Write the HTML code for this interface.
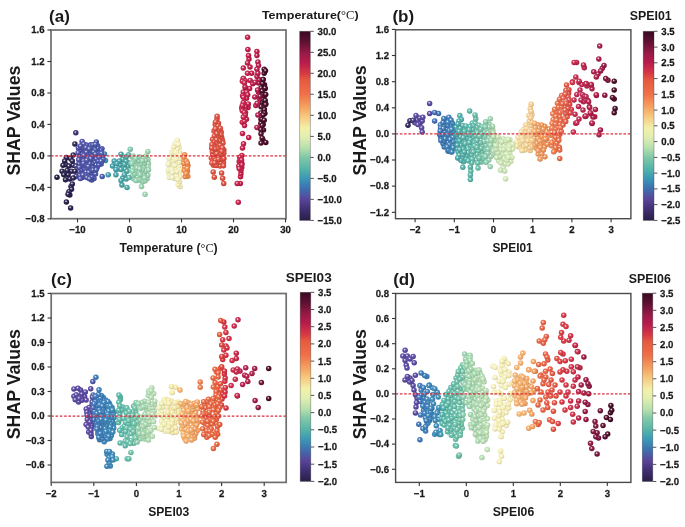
<!DOCTYPE html>
<html><head><meta charset="utf-8"><style>
html,body{margin:0;padding:0;background:#fff;}
svg{display:block;will-change:transform;}
text{font-family:"Liberation Sans", sans-serif;fill:#1a1a1a;}
.tk{text-rendering:geometricPrecision;font-size:9.6px;font-weight:bold;stroke:#1a1a1a;stroke-width:0.25px;}
.b{font-weight:bold;}
.deg{font-family:"Liberation Serif", serif;font-weight:normal;}
</style></head><body>
<svg width="685" height="527" viewBox="0 0 685 527">
<defs><linearGradient id="cbg" x1="0" y1="1" x2="0" y2="0"><stop offset="0.000" stop-color="#2a1e48"/><stop offset="0.055" stop-color="#3e2e70"/><stop offset="0.111" stop-color="#5a4499"/><stop offset="0.171" stop-color="#3d72b0"/><stop offset="0.223" stop-color="#3a98b6"/><stop offset="0.273" stop-color="#55b4a8"/><stop offset="0.334" stop-color="#80c8a8"/><stop offset="0.384" stop-color="#b8e0ad"/><stop offset="0.444" stop-color="#e3efb0"/><stop offset="0.489" stop-color="#f3f0a8"/><stop offset="0.513" stop-color="#f5e09a"/><stop offset="0.555" stop-color="#f7c47a"/><stop offset="0.602" stop-color="#f5a060"/><stop offset="0.668" stop-color="#f07048"/><stop offset="0.742" stop-color="#e65a40"/><stop offset="0.776" stop-color="#d83a44"/><stop offset="0.835" stop-color="#b81c4c"/><stop offset="0.881" stop-color="#9a1a48"/><stop offset="0.950" stop-color="#5a1030"/><stop offset="1.000" stop-color="#3a0a22"/></linearGradient><radialGradient id="g0" cx="0.42" cy="0.38" r="0.72"><stop offset="0" stop-color="#f6f3f4"/><stop offset="0.13" stop-color="#b39ea7"/><stop offset="0.3" stop-color="#55243a"/><stop offset="0.55" stop-color="#420c24"/><stop offset="0.82" stop-color="#390a1f"/><stop offset="1" stop-color="#2d0818"/></radialGradient><radialGradient id="g1" cx="0.42" cy="0.38" r="0.72"><stop offset="0" stop-color="#fcf4f6"/><stop offset="0.13" stop-color="#e6a5b6"/><stop offset="0.3" stop-color="#c6345a"/><stop offset="0.55" stop-color="#c01e48"/><stop offset="0.82" stop-color="#a51a3e"/><stop offset="1" stop-color="#831431"/></radialGradient><radialGradient id="g2" cx="0.42" cy="0.38" r="0.72"><stop offset="0" stop-color="#f5fafb"/><stop offset="0.13" stop-color="#b1d7dc"/><stop offset="0.3" stop-color="#50a6b1"/><stop offset="0.55" stop-color="#3c9ca8"/><stop offset="0.82" stop-color="#348690"/><stop offset="1" stop-color="#296a72"/></radialGradient><radialGradient id="g3" cx="0.42" cy="0.38" r="0.72"><stop offset="0" stop-color="#fafdfb"/><stop offset="0.13" stop-color="#d7eddf"/><stop offset="0.3" stop-color="#a6d6b6"/><stop offset="0.55" stop-color="#9cd2ae"/><stop offset="0.82" stop-color="#86b596"/><stop offset="1" stop-color="#6a8f76"/></radialGradient><radialGradient id="g4" cx="0.42" cy="0.38" r="0.72"><stop offset="0" stop-color="#fcf3f6"/><stop offset="0.13" stop-color="#e3a3b6"/><stop offset="0.3" stop-color="#c12f5a"/><stop offset="0.55" stop-color="#ba1848"/><stop offset="0.82" stop-color="#a0153e"/><stop offset="1" stop-color="#7e1031"/></radialGradient><radialGradient id="g5" cx="0.42" cy="0.38" r="0.72"><stop offset="0" stop-color="#fcf3f6"/><stop offset="0.13" stop-color="#e6a3b6"/><stop offset="0.3" stop-color="#c62f5a"/><stop offset="0.55" stop-color="#c01848"/><stop offset="0.82" stop-color="#a5153e"/><stop offset="1" stop-color="#831031"/></radialGradient><radialGradient id="g6" cx="0.42" cy="0.38" r="0.72"><stop offset="0" stop-color="#fdf6f5"/><stop offset="0.13" stop-color="#f2b8b1"/><stop offset="0.3" stop-color="#e16050"/><stop offset="0.55" stop-color="#de4e3c"/><stop offset="0.82" stop-color="#bf4334"/><stop offset="1" stop-color="#973529"/></radialGradient><radialGradient id="g7" cx="0.42" cy="0.38" r="0.72"><stop offset="0" stop-color="#fcf4f6"/><stop offset="0.13" stop-color="#e8a5b6"/><stop offset="0.3" stop-color="#cc345a"/><stop offset="0.55" stop-color="#c61e48"/><stop offset="0.82" stop-color="#aa1a3e"/><stop offset="1" stop-color="#871431"/></radialGradient><radialGradient id="g8" cx="0.42" cy="0.38" r="0.72"><stop offset="0" stop-color="#fefefc"/><stop offset="0.13" stop-color="#f9f9e6"/><stop offset="0.3" stop-color="#f2f2c6"/><stop offset="0.55" stop-color="#f0f0c0"/><stop offset="0.82" stop-color="#cecea5"/><stop offset="1" stop-color="#a3a383"/></radialGradient><radialGradient id="g9" cx="0.42" cy="0.38" r="0.72"><stop offset="0" stop-color="#f6f6fb"/><stop offset="0.13" stop-color="#b8bbdc"/><stop offset="0.3" stop-color="#6065b1"/><stop offset="0.55" stop-color="#4e54a8"/><stop offset="0.82" stop-color="#434890"/><stop offset="1" stop-color="#353972"/></radialGradient><radialGradient id="g10" cx="0.42" cy="0.38" r="0.72"><stop offset="0" stop-color="#f6f6fb"/><stop offset="0.13" stop-color="#b6bbdc"/><stop offset="0.3" stop-color="#5a65b1"/><stop offset="0.55" stop-color="#4854a8"/><stop offset="0.82" stop-color="#3e4890"/><stop offset="1" stop-color="#313972"/></radialGradient><radialGradient id="g11" cx="0.42" cy="0.38" r="0.72"><stop offset="0" stop-color="#f6f3f4"/><stop offset="0.13" stop-color="#b89eaa"/><stop offset="0.3" stop-color="#60243f"/><stop offset="0.55" stop-color="#4e0c2a"/><stop offset="0.82" stop-color="#430a24"/><stop offset="1" stop-color="#35081d"/></radialGradient><radialGradient id="g12" cx="0.42" cy="0.38" r="0.72"><stop offset="0" stop-color="#f6f6fb"/><stop offset="0.13" stop-color="#b8b8dc"/><stop offset="0.3" stop-color="#6060b1"/><stop offset="0.55" stop-color="#4e4ea8"/><stop offset="0.82" stop-color="#434390"/><stop offset="1" stop-color="#353572"/></radialGradient><radialGradient id="g13" cx="0.42" cy="0.38" r="0.72"><stop offset="0" stop-color="#f6fafa"/><stop offset="0.13" stop-color="#b3dada"/><stop offset="0.3" stop-color="#55abab"/><stop offset="0.55" stop-color="#42a2a2"/><stop offset="0.82" stop-color="#398b8b"/><stop offset="1" stop-color="#2d6e6e"/></radialGradient><radialGradient id="g14" cx="0.42" cy="0.38" r="0.72"><stop offset="0" stop-color="#fbf3f6"/><stop offset="0.13" stop-color="#e1a3b6"/><stop offset="0.3" stop-color="#bc2f5a"/><stop offset="0.55" stop-color="#b41848"/><stop offset="0.82" stop-color="#9b153e"/><stop offset="1" stop-color="#7a1031"/></radialGradient><radialGradient id="g15" cx="0.42" cy="0.38" r="0.72"><stop offset="0" stop-color="#f4f4f6"/><stop offset="0.13" stop-color="#aaa7bb"/><stop offset="0.3" stop-color="#3f3a65"/><stop offset="0.55" stop-color="#2a2454"/><stop offset="0.82" stop-color="#241f48"/><stop offset="1" stop-color="#1d1839"/></radialGradient><radialGradient id="g16" cx="0.42" cy="0.38" r="0.72"><stop offset="0" stop-color="#f6fafa"/><stop offset="0.13" stop-color="#b6dada"/><stop offset="0.3" stop-color="#5aabab"/><stop offset="0.55" stop-color="#48a2a2"/><stop offset="0.82" stop-color="#3e8b8b"/><stop offset="1" stop-color="#316e6e"/></radialGradient><radialGradient id="g17" cx="0.42" cy="0.38" r="0.72"><stop offset="0" stop-color="#f6f3f4"/><stop offset="0.13" stop-color="#b69ea7"/><stop offset="0.3" stop-color="#5a243a"/><stop offset="0.55" stop-color="#480c24"/><stop offset="0.82" stop-color="#3e0a1f"/><stop offset="1" stop-color="#310818"/></radialGradient><radialGradient id="g18" cx="0.42" cy="0.38" r="0.72"><stop offset="0" stop-color="#f6f7fb"/><stop offset="0.13" stop-color="#b6bddf"/><stop offset="0.3" stop-color="#5a6ab6"/><stop offset="0.55" stop-color="#485aae"/><stop offset="0.82" stop-color="#3e4d96"/><stop offset="1" stop-color="#313d76"/></radialGradient><radialGradient id="g19" cx="0.42" cy="0.38" r="0.72"><stop offset="0" stop-color="#f4f4f6"/><stop offset="0.13" stop-color="#aaa5b8"/><stop offset="0.3" stop-color="#3f3460"/><stop offset="0.55" stop-color="#2a1e4e"/><stop offset="0.82" stop-color="#241a43"/><stop offset="1" stop-color="#1d1435"/></radialGradient><radialGradient id="g20" cx="0.42" cy="0.38" r="0.72"><stop offset="0" stop-color="#fafdfb"/><stop offset="0.13" stop-color="#d5eddf"/><stop offset="0.3" stop-color="#a0d6b6"/><stop offset="0.55" stop-color="#96d2ae"/><stop offset="0.82" stop-color="#81b596"/><stop offset="1" stop-color="#668f76"/></radialGradient><radialGradient id="g21" cx="0.42" cy="0.38" r="0.72"><stop offset="0" stop-color="#fffefc"/><stop offset="0.13" stop-color="#fbf9e3"/><stop offset="0.3" stop-color="#f7f2c1"/><stop offset="0.55" stop-color="#f6f0ba"/><stop offset="0.82" stop-color="#d4cea0"/><stop offset="1" stop-color="#a7a37e"/></radialGradient><radialGradient id="g22" cx="0.42" cy="0.38" r="0.72"><stop offset="0" stop-color="#fef9f6"/><stop offset="0.13" stop-color="#f9ceb6"/><stop offset="0.3" stop-color="#f2905a"/><stop offset="0.55" stop-color="#f08448"/><stop offset="0.82" stop-color="#ce723e"/><stop offset="1" stop-color="#a35a31"/></radialGradient><radialGradient id="g23" cx="0.42" cy="0.38" r="0.72"><stop offset="0" stop-color="#f6f6fb"/><stop offset="0.13" stop-color="#b6bbdf"/><stop offset="0.3" stop-color="#5a65b6"/><stop offset="0.55" stop-color="#4854ae"/><stop offset="0.82" stop-color="#3e4896"/><stop offset="1" stop-color="#313976"/></radialGradient><radialGradient id="g24" cx="0.42" cy="0.38" r="0.72"><stop offset="0" stop-color="#fef9f6"/><stop offset="0.13" stop-color="#f9d0b6"/><stop offset="0.3" stop-color="#f2965a"/><stop offset="0.55" stop-color="#f08a48"/><stop offset="0.82" stop-color="#ce773e"/><stop offset="1" stop-color="#a35e31"/></radialGradient><radialGradient id="g25" cx="0.42" cy="0.38" r="0.72"><stop offset="0" stop-color="#f6f8fb"/><stop offset="0.13" stop-color="#b3c9dc"/><stop offset="0.3" stop-color="#5586b1"/><stop offset="0.55" stop-color="#4278a8"/><stop offset="0.82" stop-color="#396790"/><stop offset="1" stop-color="#2d5272"/></radialGradient><radialGradient id="g26" cx="0.42" cy="0.38" r="0.72"><stop offset="0" stop-color="#f9fdfb"/><stop offset="0.13" stop-color="#d3eddf"/><stop offset="0.3" stop-color="#9bd6b6"/><stop offset="0.55" stop-color="#90d2ae"/><stop offset="0.82" stop-color="#7cb596"/><stop offset="1" stop-color="#628f76"/></radialGradient><radialGradient id="g27" cx="0.42" cy="0.38" r="0.72"><stop offset="0" stop-color="#fdf6f5"/><stop offset="0.13" stop-color="#f2b6b1"/><stop offset="0.3" stop-color="#e15a50"/><stop offset="0.55" stop-color="#de483c"/><stop offset="0.82" stop-color="#bf3e34"/><stop offset="1" stop-color="#973129"/></radialGradient><radialGradient id="g28" cx="0.42" cy="0.38" r="0.72"><stop offset="0" stop-color="#fef6f5"/><stop offset="0.13" stop-color="#f4b8b1"/><stop offset="0.3" stop-color="#e76050"/><stop offset="0.55" stop-color="#e44e3c"/><stop offset="0.82" stop-color="#c44334"/><stop offset="1" stop-color="#9b3529"/></radialGradient><radialGradient id="g29" cx="0.42" cy="0.38" r="0.72"><stop offset="0" stop-color="#f6fbfa"/><stop offset="0.13" stop-color="#b6dcda"/><stop offset="0.3" stop-color="#5ab1ab"/><stop offset="0.55" stop-color="#48a8a2"/><stop offset="0.82" stop-color="#3e908b"/><stop offset="1" stop-color="#31726e"/></radialGradient><radialGradient id="g30" cx="0.42" cy="0.38" r="0.72"><stop offset="0" stop-color="#f6fbfb"/><stop offset="0.13" stop-color="#bbdfdc"/><stop offset="0.3" stop-color="#65b6b1"/><stop offset="0.55" stop-color="#54aea8"/><stop offset="0.82" stop-color="#489690"/><stop offset="1" stop-color="#397672"/></radialGradient><radialGradient id="g31" cx="0.42" cy="0.38" r="0.72"><stop offset="0" stop-color="#f7fbfb"/><stop offset="0.13" stop-color="#bddfdc"/><stop offset="0.3" stop-color="#6ab6b1"/><stop offset="0.55" stop-color="#5aaea8"/><stop offset="0.82" stop-color="#4d9690"/><stop offset="1" stop-color="#3d7672"/></radialGradient><radialGradient id="g32" cx="0.42" cy="0.38" r="0.72"><stop offset="0" stop-color="#f4f4f6"/><stop offset="0.13" stop-color="#a7a5b6"/><stop offset="0.3" stop-color="#3a345a"/><stop offset="0.55" stop-color="#241e48"/><stop offset="0.82" stop-color="#1f1a3e"/><stop offset="1" stop-color="#181431"/></radialGradient><radialGradient id="g33" cx="0.42" cy="0.38" r="0.72"><stop offset="0" stop-color="#f6f6f9"/><stop offset="0.13" stop-color="#b3b3d0"/><stop offset="0.3" stop-color="#555596"/><stop offset="0.55" stop-color="#42428a"/><stop offset="0.82" stop-color="#393977"/><stop offset="1" stop-color="#2d2d5e"/></radialGradient><radialGradient id="g34" cx="0.42" cy="0.38" r="0.72"><stop offset="0" stop-color="#f9fcfb"/><stop offset="0.13" stop-color="#cbe8df"/><stop offset="0.3" stop-color="#8bccb6"/><stop offset="0.55" stop-color="#7ec6ae"/><stop offset="0.82" stop-color="#6caa96"/><stop offset="1" stop-color="#568776"/></radialGradient><radialGradient id="g35" cx="0.42" cy="0.38" r="0.72"><stop offset="0" stop-color="#f6fafb"/><stop offset="0.13" stop-color="#b3dadc"/><stop offset="0.3" stop-color="#55abb1"/><stop offset="0.55" stop-color="#42a2a8"/><stop offset="0.82" stop-color="#398b90"/><stop offset="1" stop-color="#2d6e72"/></radialGradient><radialGradient id="g36" cx="0.42" cy="0.38" r="0.72"><stop offset="0" stop-color="#f5f5f8"/><stop offset="0.13" stop-color="#afacc7"/><stop offset="0.3" stop-color="#4a4580"/><stop offset="0.55" stop-color="#363072"/><stop offset="0.82" stop-color="#2e2962"/><stop offset="1" stop-color="#25214e"/></radialGradient><radialGradient id="g37" cx="0.42" cy="0.38" r="0.72"><stop offset="0" stop-color="#f6f8fb"/><stop offset="0.13" stop-color="#b3c7dc"/><stop offset="0.3" stop-color="#5580b1"/><stop offset="0.55" stop-color="#4272a8"/><stop offset="0.82" stop-color="#396290"/><stop offset="1" stop-color="#2d4e72"/></radialGradient><radialGradient id="g38" cx="0.42" cy="0.38" r="0.72"><stop offset="0" stop-color="#f4f3f6"/><stop offset="0.13" stop-color="#a7a3b3"/><stop offset="0.3" stop-color="#3a2f55"/><stop offset="0.55" stop-color="#241842"/><stop offset="0.82" stop-color="#1f1539"/><stop offset="1" stop-color="#18102d"/></radialGradient><radialGradient id="g39" cx="0.42" cy="0.38" r="0.72"><stop offset="0" stop-color="#f5f9fb"/><stop offset="0.13" stop-color="#b1d3dc"/><stop offset="0.3" stop-color="#509bb1"/><stop offset="0.55" stop-color="#3c90a8"/><stop offset="0.82" stop-color="#347c90"/><stop offset="1" stop-color="#296272"/></radialGradient><radialGradient id="g40" cx="0.42" cy="0.38" r="0.72"><stop offset="0" stop-color="#f7fbfb"/><stop offset="0.13" stop-color="#bfe1dc"/><stop offset="0.3" stop-color="#70bcb1"/><stop offset="0.55" stop-color="#60b4a8"/><stop offset="0.82" stop-color="#539b90"/><stop offset="1" stop-color="#417a72"/></radialGradient><radialGradient id="g41" cx="0.42" cy="0.38" r="0.72"><stop offset="0" stop-color="#f6fafb"/><stop offset="0.13" stop-color="#b3d7dc"/><stop offset="0.3" stop-color="#55a6b1"/><stop offset="0.55" stop-color="#429ca8"/><stop offset="0.82" stop-color="#398690"/><stop offset="1" stop-color="#2d6a72"/></radialGradient><radialGradient id="g42" cx="0.42" cy="0.38" r="0.72"><stop offset="0" stop-color="#f4f4f6"/><stop offset="0.13" stop-color="#a7a5b8"/><stop offset="0.3" stop-color="#3a3460"/><stop offset="0.55" stop-color="#241e4e"/><stop offset="0.82" stop-color="#1f1a43"/><stop offset="1" stop-color="#181435"/></radialGradient><radialGradient id="g43" cx="0.42" cy="0.38" r="0.72"><stop offset="0" stop-color="#f6f3f4"/><stop offset="0.13" stop-color="#b39ba7"/><stop offset="0.3" stop-color="#551f3a"/><stop offset="0.55" stop-color="#420624"/><stop offset="0.82" stop-color="#39051f"/><stop offset="1" stop-color="#2d0418"/></radialGradient><radialGradient id="g44" cx="0.42" cy="0.38" r="0.72"><stop offset="0" stop-color="#f5f5f9"/><stop offset="0.13" stop-color="#b1b1cb"/><stop offset="0.3" stop-color="#50508b"/><stop offset="0.55" stop-color="#3c3c7e"/><stop offset="0.82" stop-color="#34346c"/><stop offset="1" stop-color="#292956"/></radialGradient><radialGradient id="g45" cx="0.42" cy="0.38" r="0.72"><stop offset="0" stop-color="#f9f3f5"/><stop offset="0.13" stop-color="#cea0b1"/><stop offset="0.3" stop-color="#902a50"/><stop offset="0.55" stop-color="#84123c"/><stop offset="0.82" stop-color="#720f34"/><stop offset="1" stop-color="#5a0c29"/></radialGradient><radialGradient id="g46" cx="0.42" cy="0.38" r="0.72"><stop offset="0" stop-color="#f5f8fb"/><stop offset="0.13" stop-color="#b1c9e1"/><stop offset="0.3" stop-color="#5086bc"/><stop offset="0.55" stop-color="#3c78b4"/><stop offset="0.82" stop-color="#34679b"/><stop offset="1" stop-color="#29527a"/></radialGradient><radialGradient id="g47" cx="0.42" cy="0.38" r="0.72"><stop offset="0" stop-color="#fcfefb"/><stop offset="0.13" stop-color="#e8f4e1"/><stop offset="0.3" stop-color="#cce7bc"/><stop offset="0.55" stop-color="#c6e4b4"/><stop offset="0.82" stop-color="#aac49b"/><stop offset="1" stop-color="#879b7a"/></radialGradient><radialGradient id="g48" cx="0.42" cy="0.38" r="0.72"><stop offset="0" stop-color="#fef8f6"/><stop offset="0.13" stop-color="#f9c9b6"/><stop offset="0.3" stop-color="#f2865a"/><stop offset="0.55" stop-color="#f07848"/><stop offset="0.82" stop-color="#ce673e"/><stop offset="1" stop-color="#a35231"/></radialGradient><radialGradient id="g49" cx="0.42" cy="0.38" r="0.72"><stop offset="0" stop-color="#f8fcfb"/><stop offset="0.13" stop-color="#c7e6dc"/><stop offset="0.3" stop-color="#80c6b1"/><stop offset="0.55" stop-color="#72c0a8"/><stop offset="0.82" stop-color="#62a590"/><stop offset="1" stop-color="#4e8372"/></radialGradient><radialGradient id="g50" cx="0.42" cy="0.38" r="0.72"><stop offset="0" stop-color="#f7fcfb"/><stop offset="0.13" stop-color="#c2e3dc"/><stop offset="0.3" stop-color="#75c1b1"/><stop offset="0.55" stop-color="#66baa8"/><stop offset="0.82" stop-color="#58a090"/><stop offset="1" stop-color="#457e72"/></radialGradient><radialGradient id="g51" cx="0.42" cy="0.38" r="0.72"><stop offset="0" stop-color="#fefaf7"/><stop offset="0.13" stop-color="#f9d5bd"/><stop offset="0.3" stop-color="#f2a06a"/><stop offset="0.55" stop-color="#f0965a"/><stop offset="0.82" stop-color="#ce814d"/><stop offset="1" stop-color="#a3663d"/></radialGradient><radialGradient id="g52" cx="0.42" cy="0.38" r="0.72"><stop offset="0" stop-color="#fcfefb"/><stop offset="0.13" stop-color="#ebf4e1"/><stop offset="0.3" stop-color="#d1e7bc"/><stop offset="0.55" stop-color="#cce4b4"/><stop offset="0.82" stop-color="#afc49b"/><stop offset="1" stop-color="#8b9b7a"/></radialGradient><radialGradient id="g53" cx="0.42" cy="0.38" r="0.72"><stop offset="0" stop-color="#fffdfa"/><stop offset="0.13" stop-color="#fbefd5"/><stop offset="0.3" stop-color="#f7dca0"/><stop offset="0.55" stop-color="#f6d896"/><stop offset="0.82" stop-color="#d4ba81"/><stop offset="1" stop-color="#a79366"/></radialGradient><radialGradient id="g54" cx="0.42" cy="0.38" r="0.72"><stop offset="0" stop-color="#fef9f6"/><stop offset="0.13" stop-color="#f9d3bb"/><stop offset="0.3" stop-color="#f29b65"/><stop offset="0.55" stop-color="#f09054"/><stop offset="0.82" stop-color="#ce7c48"/><stop offset="1" stop-color="#a36239"/></radialGradient><radialGradient id="g55" cx="0.42" cy="0.38" r="0.72"><stop offset="0" stop-color="#f5f9fc"/><stop offset="0.13" stop-color="#b1cbe3"/><stop offset="0.3" stop-color="#508bc1"/><stop offset="0.55" stop-color="#3c7eba"/><stop offset="0.82" stop-color="#346ca0"/><stop offset="1" stop-color="#29567e"/></radialGradient><radialGradient id="g56" cx="0.42" cy="0.38" r="0.72"><stop offset="0" stop-color="#f7fbfb"/><stop offset="0.13" stop-color="#bde1dc"/><stop offset="0.3" stop-color="#6abcb1"/><stop offset="0.55" stop-color="#5ab4a8"/><stop offset="0.82" stop-color="#4d9b90"/><stop offset="1" stop-color="#3d7a72"/></radialGradient><radialGradient id="g57" cx="0.42" cy="0.38" r="0.72"><stop offset="0" stop-color="#fcf4f6"/><stop offset="0.13" stop-color="#e6a7b8"/><stop offset="0.3" stop-color="#c63a60"/><stop offset="0.55" stop-color="#c0244e"/><stop offset="0.82" stop-color="#a51f43"/><stop offset="1" stop-color="#831835"/></radialGradient><radialGradient id="g58" cx="0.42" cy="0.38" r="0.72"><stop offset="0" stop-color="#f6f9fb"/><stop offset="0.13" stop-color="#b3d3df"/><stop offset="0.3" stop-color="#559bb6"/><stop offset="0.55" stop-color="#4290ae"/><stop offset="0.82" stop-color="#397c96"/><stop offset="1" stop-color="#2d6276"/></radialGradient><radialGradient id="g59" cx="0.42" cy="0.38" r="0.72"><stop offset="0" stop-color="#fdfefb"/><stop offset="0.13" stop-color="#edf7e1"/><stop offset="0.3" stop-color="#d6ecbc"/><stop offset="0.55" stop-color="#d2eab4"/><stop offset="0.82" stop-color="#b5c99b"/><stop offset="1" stop-color="#8f9f7a"/></radialGradient><radialGradient id="g60" cx="0.42" cy="0.38" r="0.72"><stop offset="0" stop-color="#fcfdfb"/><stop offset="0.13" stop-color="#e3f2df"/><stop offset="0.3" stop-color="#c1e1b6"/><stop offset="0.55" stop-color="#badeae"/><stop offset="0.82" stop-color="#a0bf96"/><stop offset="1" stop-color="#7e9776"/></radialGradient><radialGradient id="g61" cx="0.42" cy="0.38" r="0.72"><stop offset="0" stop-color="#f5f9fc"/><stop offset="0.13" stop-color="#b1cee3"/><stop offset="0.3" stop-color="#5090c1"/><stop offset="0.55" stop-color="#3c84ba"/><stop offset="0.82" stop-color="#3472a0"/><stop offset="1" stop-color="#295a7e"/></radialGradient><radialGradient id="g62" cx="0.42" cy="0.38" r="0.72"><stop offset="0" stop-color="#fffdf9"/><stop offset="0.13" stop-color="#fbedd3"/><stop offset="0.3" stop-color="#f7d69b"/><stop offset="0.55" stop-color="#f6d290"/><stop offset="0.82" stop-color="#d4b57c"/><stop offset="1" stop-color="#a78f62"/></radialGradient><radialGradient id="g63" cx="0.42" cy="0.38" r="0.72"><stop offset="0" stop-color="#f9fcfb"/><stop offset="0.13" stop-color="#ceebdf"/><stop offset="0.3" stop-color="#90d1b6"/><stop offset="0.55" stop-color="#84ccae"/><stop offset="0.82" stop-color="#72af96"/><stop offset="1" stop-color="#5a8b76"/></radialGradient><radialGradient id="g64" cx="0.42" cy="0.38" r="0.72"><stop offset="0" stop-color="#f9fcfb"/><stop offset="0.13" stop-color="#d0ebdf"/><stop offset="0.3" stop-color="#96d1b6"/><stop offset="0.55" stop-color="#8accae"/><stop offset="0.82" stop-color="#77af96"/><stop offset="1" stop-color="#5e8b76"/></radialGradient><radialGradient id="g65" cx="0.42" cy="0.38" r="0.72"><stop offset="0" stop-color="#f6fbfb"/><stop offset="0.13" stop-color="#b6dcdc"/><stop offset="0.3" stop-color="#5ab1b1"/><stop offset="0.55" stop-color="#48a8a8"/><stop offset="0.82" stop-color="#3e9090"/><stop offset="1" stop-color="#317272"/></radialGradient><radialGradient id="g66" cx="0.42" cy="0.38" r="0.72"><stop offset="0" stop-color="#fef6f6"/><stop offset="0.13" stop-color="#f4bbb3"/><stop offset="0.3" stop-color="#e76555"/><stop offset="0.55" stop-color="#e45442"/><stop offset="0.82" stop-color="#c44839"/><stop offset="1" stop-color="#9b392d"/></radialGradient><radialGradient id="g67" cx="0.42" cy="0.38" r="0.72"><stop offset="0" stop-color="#fef9f6"/><stop offset="0.13" stop-color="#f9ceb8"/><stop offset="0.3" stop-color="#f29060"/><stop offset="0.55" stop-color="#f0844e"/><stop offset="0.82" stop-color="#ce7243"/><stop offset="1" stop-color="#a35a35"/></radialGradient><radialGradient id="g68" cx="0.42" cy="0.38" r="0.72"><stop offset="0" stop-color="#fffdfa"/><stop offset="0.13" stop-color="#fbedd5"/><stop offset="0.3" stop-color="#f7d6a0"/><stop offset="0.55" stop-color="#f6d296"/><stop offset="0.82" stop-color="#d4b581"/><stop offset="1" stop-color="#a78f66"/></radialGradient><radialGradient id="g69" cx="0.42" cy="0.38" r="0.72"><stop offset="0" stop-color="#fffdfa"/><stop offset="0.13" stop-color="#fbf2da"/><stop offset="0.3" stop-color="#f7e1ab"/><stop offset="0.55" stop-color="#f6dea2"/><stop offset="0.82" stop-color="#d4bf8b"/><stop offset="1" stop-color="#a7976e"/></radialGradient><radialGradient id="g70" cx="0.42" cy="0.38" r="0.72"><stop offset="0" stop-color="#fef8f6"/><stop offset="0.13" stop-color="#f7c9b6"/><stop offset="0.3" stop-color="#ec865a"/><stop offset="0.55" stop-color="#ea7848"/><stop offset="0.82" stop-color="#c9673e"/><stop offset="1" stop-color="#9f5231"/></radialGradient><radialGradient id="g71" cx="0.42" cy="0.38" r="0.72"><stop offset="0" stop-color="#fef8f6"/><stop offset="0.13" stop-color="#f7c7b6"/><stop offset="0.3" stop-color="#ec805a"/><stop offset="0.55" stop-color="#ea7248"/><stop offset="0.82" stop-color="#c9623e"/><stop offset="1" stop-color="#9f4e31"/></radialGradient><radialGradient id="g72" cx="0.42" cy="0.38" r="0.72"><stop offset="0" stop-color="#f5f9fb"/><stop offset="0.13" stop-color="#b1d0e1"/><stop offset="0.3" stop-color="#5096bc"/><stop offset="0.55" stop-color="#3c8ab4"/><stop offset="0.82" stop-color="#34779b"/><stop offset="1" stop-color="#295e7a"/></radialGradient><radialGradient id="g73" cx="0.42" cy="0.38" r="0.72"><stop offset="0" stop-color="#fffcf9"/><stop offset="0.13" stop-color="#fbebd0"/><stop offset="0.3" stop-color="#f7d196"/><stop offset="0.55" stop-color="#f6cc8a"/><stop offset="0.82" stop-color="#d4af77"/><stop offset="1" stop-color="#a78b5e"/></radialGradient><radialGradient id="g74" cx="0.42" cy="0.38" r="0.72"><stop offset="0" stop-color="#f8fcfb"/><stop offset="0.13" stop-color="#c9e8dc"/><stop offset="0.3" stop-color="#86ccb1"/><stop offset="0.55" stop-color="#78c6a8"/><stop offset="0.82" stop-color="#67aa90"/><stop offset="1" stop-color="#528772"/></radialGradient><radialGradient id="g75" cx="0.42" cy="0.38" r="0.72"><stop offset="0" stop-color="#fffcf9"/><stop offset="0.13" stop-color="#fbebd3"/><stop offset="0.3" stop-color="#f7d19b"/><stop offset="0.55" stop-color="#f6cc90"/><stop offset="0.82" stop-color="#d4af7c"/><stop offset="1" stop-color="#a78b62"/></radialGradient><radialGradient id="g76" cx="0.42" cy="0.38" r="0.72"><stop offset="0" stop-color="#f6fbfb"/><stop offset="0.13" stop-color="#b8dfdc"/><stop offset="0.3" stop-color="#60b6b1"/><stop offset="0.55" stop-color="#4eaea8"/><stop offset="0.82" stop-color="#439690"/><stop offset="1" stop-color="#357672"/></radialGradient><radialGradient id="g77" cx="0.42" cy="0.38" r="0.72"><stop offset="0" stop-color="#f6fbfb"/><stop offset="0.13" stop-color="#bbe1dc"/><stop offset="0.3" stop-color="#65bcb1"/><stop offset="0.55" stop-color="#54b4a8"/><stop offset="0.82" stop-color="#489b90"/><stop offset="1" stop-color="#397a72"/></radialGradient><radialGradient id="g78" cx="0.42" cy="0.38" r="0.72"><stop offset="0" stop-color="#fcf4f6"/><stop offset="0.13" stop-color="#e8aab8"/><stop offset="0.3" stop-color="#cc3f60"/><stop offset="0.55" stop-color="#c62a4e"/><stop offset="0.82" stop-color="#aa2443"/><stop offset="1" stop-color="#871d35"/></radialGradient><radialGradient id="g79" cx="0.42" cy="0.38" r="0.72"><stop offset="0" stop-color="#f7fcfb"/><stop offset="0.13" stop-color="#bfe3dc"/><stop offset="0.3" stop-color="#70c1b1"/><stop offset="0.55" stop-color="#60baa8"/><stop offset="0.82" stop-color="#53a090"/><stop offset="1" stop-color="#417e72"/></radialGradient><radialGradient id="g80" cx="0.42" cy="0.38" r="0.72"><stop offset="0" stop-color="#fefaf7"/><stop offset="0.13" stop-color="#f9d7bf"/><stop offset="0.3" stop-color="#f2a670"/><stop offset="0.55" stop-color="#f09c60"/><stop offset="0.82" stop-color="#ce8653"/><stop offset="1" stop-color="#a36a41"/></radialGradient><radialGradient id="g81" cx="0.42" cy="0.38" r="0.72"><stop offset="0" stop-color="#fef8f6"/><stop offset="0.13" stop-color="#f7c4b6"/><stop offset="0.3" stop-color="#ec7b5a"/><stop offset="0.55" stop-color="#ea6c48"/><stop offset="0.82" stop-color="#c95d3e"/><stop offset="1" stop-color="#9f4931"/></radialGradient><radialGradient id="g82" cx="0.42" cy="0.38" r="0.72"><stop offset="0" stop-color="#fbf4f6"/><stop offset="0.13" stop-color="#dfa5b6"/><stop offset="0.3" stop-color="#b6345a"/><stop offset="0.55" stop-color="#ae1e48"/><stop offset="0.82" stop-color="#961a3e"/><stop offset="1" stop-color="#761431"/></radialGradient><radialGradient id="g83" cx="0.42" cy="0.38" r="0.72"><stop offset="0" stop-color="#f7f6fa"/><stop offset="0.13" stop-color="#bdb6d7"/><stop offset="0.3" stop-color="#6a5aa6"/><stop offset="0.55" stop-color="#5a489c"/><stop offset="0.82" stop-color="#4d3e86"/><stop offset="1" stop-color="#3d316a"/></radialGradient><radialGradient id="g84" cx="0.42" cy="0.38" r="0.72"><stop offset="0" stop-color="#fbf4f6"/><stop offset="0.13" stop-color="#dca5b6"/><stop offset="0.3" stop-color="#b1345a"/><stop offset="0.55" stop-color="#a81e48"/><stop offset="0.82" stop-color="#901a3e"/><stop offset="1" stop-color="#721431"/></radialGradient><radialGradient id="g85" cx="0.42" cy="0.38" r="0.72"><stop offset="0" stop-color="#fffdfa"/><stop offset="0.13" stop-color="#fbf2d7"/><stop offset="0.3" stop-color="#f7e1a6"/><stop offset="0.55" stop-color="#f6de9c"/><stop offset="0.82" stop-color="#d4bf86"/><stop offset="1" stop-color="#a7976a"/></radialGradient><radialGradient id="g86" cx="0.42" cy="0.38" r="0.72"><stop offset="0" stop-color="#fef9f6"/><stop offset="0.13" stop-color="#f9cbb8"/><stop offset="0.3" stop-color="#f28b60"/><stop offset="0.55" stop-color="#f07e4e"/><stop offset="0.82" stop-color="#ce6c43"/><stop offset="1" stop-color="#a35635"/></radialGradient><radialGradient id="g87" cx="0.42" cy="0.38" r="0.72"><stop offset="0" stop-color="#fcf4f6"/><stop offset="0.13" stop-color="#e8a7b8"/><stop offset="0.3" stop-color="#cc3a60"/><stop offset="0.55" stop-color="#c6244e"/><stop offset="0.82" stop-color="#aa1f43"/><stop offset="1" stop-color="#871835"/></radialGradient><radialGradient id="g88" cx="0.42" cy="0.38" r="0.72"><stop offset="0" stop-color="#fbf4f6"/><stop offset="0.13" stop-color="#e1a5b6"/><stop offset="0.3" stop-color="#bc345a"/><stop offset="0.55" stop-color="#b41e48"/><stop offset="0.82" stop-color="#9b1a3e"/><stop offset="1" stop-color="#7a1431"/></radialGradient><radialGradient id="g89" cx="0.42" cy="0.38" r="0.72"><stop offset="0" stop-color="#f5f9fb"/><stop offset="0.13" stop-color="#b1cbe1"/><stop offset="0.3" stop-color="#508bbc"/><stop offset="0.55" stop-color="#3c7eb4"/><stop offset="0.82" stop-color="#346c9b"/><stop offset="1" stop-color="#29567a"/></radialGradient><radialGradient id="g90" cx="0.42" cy="0.38" r="0.72"><stop offset="0" stop-color="#fffdfa"/><stop offset="0.13" stop-color="#fbefd7"/><stop offset="0.3" stop-color="#f7dca6"/><stop offset="0.55" stop-color="#f6d89c"/><stop offset="0.82" stop-color="#d4ba86"/><stop offset="1" stop-color="#a7936a"/></radialGradient><radialGradient id="g91" cx="0.42" cy="0.38" r="0.72"><stop offset="0" stop-color="#f8f3f5"/><stop offset="0.13" stop-color="#c9a0af"/><stop offset="0.3" stop-color="#862a4a"/><stop offset="0.55" stop-color="#781236"/><stop offset="0.82" stop-color="#670f2e"/><stop offset="1" stop-color="#520c25"/></radialGradient><radialGradient id="g92" cx="0.42" cy="0.38" r="0.72"><stop offset="0" stop-color="#fef8f6"/><stop offset="0.13" stop-color="#f9c9b8"/><stop offset="0.3" stop-color="#f28660"/><stop offset="0.55" stop-color="#f0784e"/><stop offset="0.82" stop-color="#ce6743"/><stop offset="1" stop-color="#a35235"/></radialGradient><radialGradient id="g93" cx="0.42" cy="0.38" r="0.72"><stop offset="0" stop-color="#f9fcfb"/><stop offset="0.13" stop-color="#cee8df"/><stop offset="0.3" stop-color="#90ccb6"/><stop offset="0.55" stop-color="#84c6ae"/><stop offset="0.82" stop-color="#72aa96"/><stop offset="1" stop-color="#5a8776"/></radialGradient><radialGradient id="g94" cx="0.42" cy="0.38" r="0.72"><stop offset="0" stop-color="#fbfdfb"/><stop offset="0.13" stop-color="#dfefdf"/><stop offset="0.3" stop-color="#b6dcb6"/><stop offset="0.55" stop-color="#aed8ae"/><stop offset="0.82" stop-color="#96ba96"/><stop offset="1" stop-color="#769376"/></radialGradient><radialGradient id="g95" cx="0.42" cy="0.38" r="0.72"><stop offset="0" stop-color="#fdf6f6"/><stop offset="0.13" stop-color="#f2b6b6"/><stop offset="0.3" stop-color="#e15a5a"/><stop offset="0.55" stop-color="#de4848"/><stop offset="0.82" stop-color="#bf3e3e"/><stop offset="1" stop-color="#973131"/></radialGradient><radialGradient id="g96" cx="0.42" cy="0.38" r="0.72"><stop offset="0" stop-color="#fef7f6"/><stop offset="0.13" stop-color="#f7c2b6"/><stop offset="0.3" stop-color="#ec755a"/><stop offset="0.55" stop-color="#ea6648"/><stop offset="0.82" stop-color="#c9583e"/><stop offset="1" stop-color="#9f4531"/></radialGradient><radialGradient id="g97" cx="0.42" cy="0.38" r="0.72"><stop offset="0" stop-color="#faf3f6"/><stop offset="0.13" stop-color="#d7a3b3"/><stop offset="0.3" stop-color="#a62f55"/><stop offset="0.55" stop-color="#9c1842"/><stop offset="0.82" stop-color="#861539"/><stop offset="1" stop-color="#6a102d"/></radialGradient><radialGradient id="g98" cx="0.42" cy="0.38" r="0.72"><stop offset="0" stop-color="#f5f4f7"/><stop offset="0.13" stop-color="#aca7bd"/><stop offset="0.3" stop-color="#453a6a"/><stop offset="0.55" stop-color="#30245a"/><stop offset="0.82" stop-color="#291f4d"/><stop offset="1" stop-color="#21183d"/></radialGradient><radialGradient id="g99" cx="0.42" cy="0.38" r="0.72"><stop offset="0" stop-color="#f7fcfb"/><stop offset="0.13" stop-color="#c2e6dc"/><stop offset="0.3" stop-color="#75c6b1"/><stop offset="0.55" stop-color="#66c0a8"/><stop offset="0.82" stop-color="#58a590"/><stop offset="1" stop-color="#458372"/></radialGradient><radialGradient id="g100" cx="0.42" cy="0.38" r="0.72"><stop offset="0" stop-color="#f7f6fa"/><stop offset="0.13" stop-color="#bdb6da"/><stop offset="0.3" stop-color="#6a5aab"/><stop offset="0.55" stop-color="#5a48a2"/><stop offset="0.82" stop-color="#4d3e8b"/><stop offset="1" stop-color="#3d316e"/></radialGradient><radialGradient id="g101" cx="0.42" cy="0.38" r="0.72"><stop offset="0" stop-color="#f6f3f4"/><stop offset="0.13" stop-color="#bb9eaa"/><stop offset="0.3" stop-color="#65243f"/><stop offset="0.55" stop-color="#540c2a"/><stop offset="0.82" stop-color="#480a24"/><stop offset="1" stop-color="#39081d"/></radialGradient><radialGradient id="g102" cx="0.42" cy="0.38" r="0.72"><stop offset="0" stop-color="#fdf5f6"/><stop offset="0.13" stop-color="#edacb6"/><stop offset="0.3" stop-color="#d6455a"/><stop offset="0.55" stop-color="#d23048"/><stop offset="0.82" stop-color="#b5293e"/><stop offset="1" stop-color="#8f2131"/></radialGradient><radialGradient id="g103" cx="0.42" cy="0.38" r="0.72"><stop offset="0" stop-color="#fbf3f6"/><stop offset="0.13" stop-color="#dca3b6"/><stop offset="0.3" stop-color="#b12f5a"/><stop offset="0.55" stop-color="#a81848"/><stop offset="0.82" stop-color="#90153e"/><stop offset="1" stop-color="#721031"/></radialGradient><radialGradient id="g104" cx="0.42" cy="0.38" r="0.72"><stop offset="0" stop-color="#fbfdfb"/><stop offset="0.13" stop-color="#dcefdf"/><stop offset="0.3" stop-color="#b1dcb6"/><stop offset="0.55" stop-color="#a8d8ae"/><stop offset="0.82" stop-color="#90ba96"/><stop offset="1" stop-color="#729376"/></radialGradient><radialGradient id="g105" cx="0.42" cy="0.38" r="0.72"><stop offset="0" stop-color="#f9fcfb"/><stop offset="0.13" stop-color="#cbe8dc"/><stop offset="0.3" stop-color="#8bccb1"/><stop offset="0.55" stop-color="#7ec6a8"/><stop offset="0.82" stop-color="#6caa90"/><stop offset="1" stop-color="#568772"/></radialGradient><radialGradient id="g106" cx="0.42" cy="0.38" r="0.72"><stop offset="0" stop-color="#fdf6f6"/><stop offset="0.13" stop-color="#f2b3b6"/><stop offset="0.3" stop-color="#e1555a"/><stop offset="0.55" stop-color="#de4248"/><stop offset="0.82" stop-color="#bf393e"/><stop offset="1" stop-color="#972d31"/></radialGradient><radialGradient id="g107" cx="0.42" cy="0.38" r="0.72"><stop offset="0" stop-color="#f8fcfb"/><stop offset="0.13" stop-color="#c4e6dc"/><stop offset="0.3" stop-color="#7bc6b1"/><stop offset="0.55" stop-color="#6cc0a8"/><stop offset="0.82" stop-color="#5da590"/><stop offset="1" stop-color="#498372"/></radialGradient><radialGradient id="g108" cx="0.42" cy="0.38" r="0.72"><stop offset="0" stop-color="#f9fcfb"/><stop offset="0.13" stop-color="#d3ebdf"/><stop offset="0.3" stop-color="#9bd1b6"/><stop offset="0.55" stop-color="#90ccae"/><stop offset="0.82" stop-color="#7caf96"/><stop offset="1" stop-color="#628b76"/></radialGradient><radialGradient id="g109" cx="0.42" cy="0.38" r="0.72"><stop offset="0" stop-color="#fffbf8"/><stop offset="0.13" stop-color="#fbe1c7"/><stop offset="0.3" stop-color="#f7bc80"/><stop offset="0.55" stop-color="#f6b472"/><stop offset="0.82" stop-color="#d49b62"/><stop offset="1" stop-color="#a77a4e"/></radialGradient><radialGradient id="g110" cx="0.42" cy="0.38" r="0.72"><stop offset="0" stop-color="#fcf4f6"/><stop offset="0.13" stop-color="#e3a7b8"/><stop offset="0.3" stop-color="#c13a60"/><stop offset="0.55" stop-color="#ba244e"/><stop offset="0.82" stop-color="#a01f43"/><stop offset="1" stop-color="#7e1835"/></radialGradient><radialGradient id="g111" cx="0.42" cy="0.38" r="0.72"><stop offset="0" stop-color="#f5f4f7"/><stop offset="0.13" stop-color="#afaac2"/><stop offset="0.3" stop-color="#4a3f75"/><stop offset="0.55" stop-color="#362a66"/><stop offset="0.82" stop-color="#2e2458"/><stop offset="1" stop-color="#251d45"/></radialGradient><radialGradient id="g112" cx="0.42" cy="0.38" r="0.72"><stop offset="0" stop-color="#f6f8fb"/><stop offset="0.13" stop-color="#b3c4e1"/><stop offset="0.3" stop-color="#557bbc"/><stop offset="0.55" stop-color="#426cb4"/><stop offset="0.82" stop-color="#395d9b"/><stop offset="1" stop-color="#2d497a"/></radialGradient><radialGradient id="g113" cx="0.42" cy="0.38" r="0.72"><stop offset="0" stop-color="#fef7f6"/><stop offset="0.13" stop-color="#f4bdb3"/><stop offset="0.3" stop-color="#e76a55"/><stop offset="0.55" stop-color="#e45a42"/><stop offset="0.82" stop-color="#c44d39"/><stop offset="1" stop-color="#9b3d2d"/></radialGradient><radialGradient id="g114" cx="0.42" cy="0.38" r="0.72"><stop offset="0" stop-color="#fdf6f6"/><stop offset="0.13" stop-color="#f2b8b6"/><stop offset="0.3" stop-color="#e1605a"/><stop offset="0.55" stop-color="#de4e48"/><stop offset="0.82" stop-color="#bf433e"/><stop offset="1" stop-color="#973531"/></radialGradient><radialGradient id="g115" cx="0.42" cy="0.38" r="0.72"><stop offset="0" stop-color="#fbf4f6"/><stop offset="0.13" stop-color="#e1a7b6"/><stop offset="0.3" stop-color="#bc3a5a"/><stop offset="0.55" stop-color="#b42448"/><stop offset="0.82" stop-color="#9b1f3e"/><stop offset="1" stop-color="#7a1831"/></radialGradient><radialGradient id="g116" cx="0.42" cy="0.38" r="0.72"><stop offset="0" stop-color="#f9f3f6"/><stop offset="0.13" stop-color="#d3a3b3"/><stop offset="0.3" stop-color="#9b2f55"/><stop offset="0.55" stop-color="#901842"/><stop offset="0.82" stop-color="#7c1539"/><stop offset="1" stop-color="#62102d"/></radialGradient><radialGradient id="g117" cx="0.42" cy="0.38" r="0.72"><stop offset="0" stop-color="#fafdfb"/><stop offset="0.13" stop-color="#daeddf"/><stop offset="0.3" stop-color="#abd6b6"/><stop offset="0.55" stop-color="#a2d2ae"/><stop offset="0.82" stop-color="#8bb596"/><stop offset="1" stop-color="#6e8f76"/></radialGradient><radialGradient id="g118" cx="0.42" cy="0.38" r="0.72"><stop offset="0" stop-color="#fefaf6"/><stop offset="0.13" stop-color="#f9d5bb"/><stop offset="0.3" stop-color="#f2a065"/><stop offset="0.55" stop-color="#f09654"/><stop offset="0.82" stop-color="#ce8148"/><stop offset="1" stop-color="#a36639"/></radialGradient><radialGradient id="g119" cx="0.42" cy="0.38" r="0.72"><stop offset="0" stop-color="#fffefa"/><stop offset="0.13" stop-color="#fbf4da"/><stop offset="0.3" stop-color="#f7e7ab"/><stop offset="0.55" stop-color="#f6e4a2"/><stop offset="0.82" stop-color="#d4c48b"/><stop offset="1" stop-color="#a79b6e"/></radialGradient><radialGradient id="g120" cx="0.42" cy="0.38" r="0.72"><stop offset="0" stop-color="#fdf5f6"/><stop offset="0.13" stop-color="#efafb6"/><stop offset="0.3" stop-color="#dc4a5a"/><stop offset="0.55" stop-color="#d83648"/><stop offset="0.82" stop-color="#ba2e3e"/><stop offset="1" stop-color="#932531"/></radialGradient><radialGradient id="g121" cx="0.42" cy="0.38" r="0.72"><stop offset="0" stop-color="#fefaf7"/><stop offset="0.13" stop-color="#f9dabf"/><stop offset="0.3" stop-color="#f2ab70"/><stop offset="0.55" stop-color="#f0a260"/><stop offset="0.82" stop-color="#ce8b53"/><stop offset="1" stop-color="#a36e41"/></radialGradient><radialGradient id="g122" cx="0.42" cy="0.38" r="0.72"><stop offset="0" stop-color="#f5f8fb"/><stop offset="0.13" stop-color="#b1c7e1"/><stop offset="0.3" stop-color="#5080bc"/><stop offset="0.55" stop-color="#3c72b4"/><stop offset="0.82" stop-color="#34629b"/><stop offset="1" stop-color="#294e7a"/></radialGradient><radialGradient id="g123" cx="0.42" cy="0.38" r="0.72"><stop offset="0" stop-color="#f5f3f4"/><stop offset="0.13" stop-color="#b19ea7"/><stop offset="0.3" stop-color="#50243a"/><stop offset="0.55" stop-color="#3c0c24"/><stop offset="0.82" stop-color="#340a1f"/><stop offset="1" stop-color="#290818"/></radialGradient><radialGradient id="g124" cx="0.42" cy="0.38" r="0.72"><stop offset="0" stop-color="#fffbf8"/><stop offset="0.13" stop-color="#fbdfc7"/><stop offset="0.3" stop-color="#f7b680"/><stop offset="0.55" stop-color="#f6ae72"/><stop offset="0.82" stop-color="#d49662"/><stop offset="1" stop-color="#a7764e"/></radialGradient><radialGradient id="g125" cx="0.42" cy="0.38" r="0.72"><stop offset="0" stop-color="#fefaf7"/><stop offset="0.13" stop-color="#f9d7bd"/><stop offset="0.3" stop-color="#f2a66a"/><stop offset="0.55" stop-color="#f09c5a"/><stop offset="0.82" stop-color="#ce864d"/><stop offset="1" stop-color="#a36a3d"/></radialGradient><radialGradient id="g126" cx="0.42" cy="0.38" r="0.72"><stop offset="0" stop-color="#fdf6f6"/><stop offset="0.13" stop-color="#efb3b6"/><stop offset="0.3" stop-color="#dc555a"/><stop offset="0.55" stop-color="#d84248"/><stop offset="0.82" stop-color="#ba393e"/><stop offset="1" stop-color="#932d31"/></radialGradient><radialGradient id="g127" cx="0.42" cy="0.38" r="0.72"><stop offset="0" stop-color="#fffaf7"/><stop offset="0.13" stop-color="#fbdac2"/><stop offset="0.3" stop-color="#f7ab75"/><stop offset="0.55" stop-color="#f6a266"/><stop offset="0.82" stop-color="#d48b58"/><stop offset="1" stop-color="#a76e45"/></radialGradient><radialGradient id="g128" cx="0.42" cy="0.38" r="0.72"><stop offset="0" stop-color="#fef7f6"/><stop offset="0.13" stop-color="#f4bfb6"/><stop offset="0.3" stop-color="#e7705a"/><stop offset="0.55" stop-color="#e46048"/><stop offset="0.82" stop-color="#c4533e"/><stop offset="1" stop-color="#9b4131"/></radialGradient><radialGradient id="g129" cx="0.42" cy="0.38" r="0.72"><stop offset="0" stop-color="#fdfefb"/><stop offset="0.13" stop-color="#eff7e1"/><stop offset="0.3" stop-color="#dcecbc"/><stop offset="0.55" stop-color="#d8eab4"/><stop offset="0.82" stop-color="#bac99b"/><stop offset="1" stop-color="#939f7a"/></radialGradient><radialGradient id="g130" cx="0.42" cy="0.38" r="0.72"><stop offset="0" stop-color="#fef9f6"/><stop offset="0.13" stop-color="#f9d0b8"/><stop offset="0.3" stop-color="#f29660"/><stop offset="0.55" stop-color="#f08a4e"/><stop offset="0.82" stop-color="#ce7743"/><stop offset="1" stop-color="#a35e35"/></radialGradient><radialGradient id="g131" cx="0.42" cy="0.38" r="0.72"><stop offset="0" stop-color="#fbfdfb"/><stop offset="0.13" stop-color="#e1f2df"/><stop offset="0.3" stop-color="#bce1b6"/><stop offset="0.55" stop-color="#b4deae"/><stop offset="0.82" stop-color="#9bbf96"/><stop offset="1" stop-color="#7a9776"/></radialGradient><radialGradient id="g132" cx="0.42" cy="0.38" r="0.72"><stop offset="0" stop-color="#fef7f6"/><stop offset="0.13" stop-color="#f4bfb3"/><stop offset="0.3" stop-color="#e77055"/><stop offset="0.55" stop-color="#e46042"/><stop offset="0.82" stop-color="#c45339"/><stop offset="1" stop-color="#9b412d"/></radialGradient><radialGradient id="g133" cx="0.42" cy="0.38" r="0.72"><stop offset="0" stop-color="#fef9f6"/><stop offset="0.13" stop-color="#f9d0bb"/><stop offset="0.3" stop-color="#f29665"/><stop offset="0.55" stop-color="#f08a54"/><stop offset="0.82" stop-color="#ce7748"/><stop offset="1" stop-color="#a35e39"/></radialGradient><radialGradient id="g134" cx="0.42" cy="0.38" r="0.72"><stop offset="0" stop-color="#f6f9fb"/><stop offset="0.13" stop-color="#b3d3e1"/><stop offset="0.3" stop-color="#559bbc"/><stop offset="0.55" stop-color="#4290b4"/><stop offset="0.82" stop-color="#397c9b"/><stop offset="1" stop-color="#2d627a"/></radialGradient><radialGradient id="g135" cx="0.42" cy="0.38" r="0.72"><stop offset="0" stop-color="#f6f5f9"/><stop offset="0.13" stop-color="#b3afcb"/><stop offset="0.3" stop-color="#554a8b"/><stop offset="0.55" stop-color="#42367e"/><stop offset="0.82" stop-color="#392e6c"/><stop offset="1" stop-color="#2d2556"/></radialGradient><radialGradient id="g136" cx="0.42" cy="0.38" r="0.72"><stop offset="0" stop-color="#fffbf8"/><stop offset="0.13" stop-color="#fbdfc4"/><stop offset="0.3" stop-color="#f7b67b"/><stop offset="0.55" stop-color="#f6ae6c"/><stop offset="0.82" stop-color="#d4965d"/><stop offset="1" stop-color="#a77649"/></radialGradient><radialGradient id="g137" cx="0.42" cy="0.38" r="0.72"><stop offset="0" stop-color="#faf3f6"/><stop offset="0.13" stop-color="#daa3b6"/><stop offset="0.3" stop-color="#ab2f5a"/><stop offset="0.55" stop-color="#a21848"/><stop offset="0.82" stop-color="#8b153e"/><stop offset="1" stop-color="#6e1031"/></radialGradient><radialGradient id="g138" cx="0.42" cy="0.38" r="0.72"><stop offset="0" stop-color="#fafdfb"/><stop offset="0.13" stop-color="#daefdf"/><stop offset="0.3" stop-color="#abdcb6"/><stop offset="0.55" stop-color="#a2d8ae"/><stop offset="0.82" stop-color="#8bba96"/><stop offset="1" stop-color="#6e9376"/></radialGradient><radialGradient id="g139" cx="0.42" cy="0.38" r="0.72"><stop offset="0" stop-color="#fcf4f6"/><stop offset="0.13" stop-color="#ebaab8"/><stop offset="0.3" stop-color="#d13f60"/><stop offset="0.55" stop-color="#cc2a4e"/><stop offset="0.82" stop-color="#af2443"/><stop offset="1" stop-color="#8b1d35"/></radialGradient><radialGradient id="g140" cx="0.42" cy="0.38" r="0.72"><stop offset="0" stop-color="#f9f3f5"/><stop offset="0.13" stop-color="#d0a3b1"/><stop offset="0.3" stop-color="#962f50"/><stop offset="0.55" stop-color="#8a183c"/><stop offset="0.82" stop-color="#771534"/><stop offset="1" stop-color="#5e1029"/></radialGradient><radialGradient id="g141" cx="0.42" cy="0.38" r="0.72"><stop offset="0" stop-color="#f5f9fc"/><stop offset="0.13" stop-color="#b1d0e3"/><stop offset="0.3" stop-color="#5096c1"/><stop offset="0.55" stop-color="#3c8aba"/><stop offset="0.82" stop-color="#3477a0"/><stop offset="1" stop-color="#295e7e"/></radialGradient><radialGradient id="g142" cx="0.42" cy="0.38" r="0.72"><stop offset="0" stop-color="#fffefb"/><stop offset="0.13" stop-color="#fbf7dc"/><stop offset="0.3" stop-color="#f7ecb1"/><stop offset="0.55" stop-color="#f6eaa8"/><stop offset="0.82" stop-color="#d4c990"/><stop offset="1" stop-color="#a79f72"/></radialGradient><radialGradient id="g143" cx="0.42" cy="0.38" r="0.72"><stop offset="0" stop-color="#f5f8fc"/><stop offset="0.13" stop-color="#b1c9e3"/><stop offset="0.3" stop-color="#5086c1"/><stop offset="0.55" stop-color="#3c78ba"/><stop offset="0.82" stop-color="#3467a0"/><stop offset="1" stop-color="#29527e"/></radialGradient><radialGradient id="g144" cx="0.42" cy="0.38" r="0.72"><stop offset="0" stop-color="#fdf5f6"/><stop offset="0.13" stop-color="#efacb3"/><stop offset="0.3" stop-color="#dc4555"/><stop offset="0.55" stop-color="#d83042"/><stop offset="0.82" stop-color="#ba2939"/><stop offset="1" stop-color="#93212d"/></radialGradient><radialGradient id="g145" cx="0.42" cy="0.38" r="0.72"><stop offset="0" stop-color="#fef7f6"/><stop offset="0.13" stop-color="#f7c2b3"/><stop offset="0.3" stop-color="#ec7555"/><stop offset="0.55" stop-color="#ea6642"/><stop offset="0.82" stop-color="#c95839"/><stop offset="1" stop-color="#9f452d"/></radialGradient><radialGradient id="g146" cx="0.42" cy="0.38" r="0.72"><stop offset="0" stop-color="#f7fcfb"/><stop offset="0.13" stop-color="#bde3dc"/><stop offset="0.3" stop-color="#6ac1b1"/><stop offset="0.55" stop-color="#5abaa8"/><stop offset="0.82" stop-color="#4da090"/><stop offset="1" stop-color="#3d7e72"/></radialGradient><radialGradient id="g147" cx="0.42" cy="0.38" r="0.72"><stop offset="0" stop-color="#fffbf7"/><stop offset="0.13" stop-color="#fbdcc2"/><stop offset="0.3" stop-color="#f7b175"/><stop offset="0.55" stop-color="#f6a866"/><stop offset="0.82" stop-color="#d49058"/><stop offset="1" stop-color="#a77245"/></radialGradient><radialGradient id="g148" cx="0.42" cy="0.38" r="0.72"><stop offset="0" stop-color="#f8fcfb"/><stop offset="0.13" stop-color="#c7e8dc"/><stop offset="0.3" stop-color="#80ccb1"/><stop offset="0.55" stop-color="#72c6a8"/><stop offset="0.82" stop-color="#62aa90"/><stop offset="1" stop-color="#4e8772"/></radialGradient><radialGradient id="g149" cx="0.42" cy="0.38" r="0.72"><stop offset="0" stop-color="#fef7f5"/><stop offset="0.13" stop-color="#f7c2b1"/><stop offset="0.3" stop-color="#ec7550"/><stop offset="0.55" stop-color="#ea663c"/><stop offset="0.82" stop-color="#c95834"/><stop offset="1" stop-color="#9f4529"/></radialGradient><radialGradient id="g150" cx="0.42" cy="0.38" r="0.72"><stop offset="0" stop-color="#fcfdfb"/><stop offset="0.13" stop-color="#e3f2e1"/><stop offset="0.3" stop-color="#c1e1bc"/><stop offset="0.55" stop-color="#badeb4"/><stop offset="0.82" stop-color="#a0bf9b"/><stop offset="1" stop-color="#7e977a"/></radialGradient><radialGradient id="g151" cx="0.42" cy="0.38" r="0.72"><stop offset="0" stop-color="#fffaf7"/><stop offset="0.13" stop-color="#fbdabf"/><stop offset="0.3" stop-color="#f7ab70"/><stop offset="0.55" stop-color="#f6a260"/><stop offset="0.82" stop-color="#d48b53"/><stop offset="1" stop-color="#a76e41"/></radialGradient><radialGradient id="g152" cx="0.42" cy="0.38" r="0.72"><stop offset="0" stop-color="#f6f7fb"/><stop offset="0.13" stop-color="#b6c2df"/><stop offset="0.3" stop-color="#5a75b6"/><stop offset="0.55" stop-color="#4866ae"/><stop offset="0.82" stop-color="#3e5896"/><stop offset="1" stop-color="#314576"/></radialGradient><radialGradient id="g153" cx="0.42" cy="0.38" r="0.72"><stop offset="0" stop-color="#fef7f5"/><stop offset="0.13" stop-color="#f7bfb1"/><stop offset="0.3" stop-color="#ec7050"/><stop offset="0.55" stop-color="#ea603c"/><stop offset="0.82" stop-color="#c95334"/><stop offset="1" stop-color="#9f4129"/></radialGradient><radialGradient id="g154" cx="0.42" cy="0.38" r="0.72"><stop offset="0" stop-color="#fffbf8"/><stop offset="0.13" stop-color="#fbe1c4"/><stop offset="0.3" stop-color="#f7bc7b"/><stop offset="0.55" stop-color="#f6b46c"/><stop offset="0.82" stop-color="#d49b5d"/><stop offset="1" stop-color="#a77a49"/></radialGradient><radialGradient id="g155" cx="0.42" cy="0.38" r="0.72"><stop offset="0" stop-color="#fbfdfb"/><stop offset="0.13" stop-color="#e1f2e1"/><stop offset="0.3" stop-color="#bce1bc"/><stop offset="0.55" stop-color="#b4deb4"/><stop offset="0.82" stop-color="#9bbf9b"/><stop offset="1" stop-color="#7a977a"/></radialGradient><radialGradient id="g156" cx="0.42" cy="0.38" r="0.72"><stop offset="0" stop-color="#fcf4f6"/><stop offset="0.13" stop-color="#e8a7b6"/><stop offset="0.3" stop-color="#cc3a5a"/><stop offset="0.55" stop-color="#c62448"/><stop offset="0.82" stop-color="#aa1f3e"/><stop offset="1" stop-color="#871831"/></radialGradient><radialGradient id="g157" cx="0.42" cy="0.38" r="0.72"><stop offset="0" stop-color="#fdf5f6"/><stop offset="0.13" stop-color="#efafb3"/><stop offset="0.3" stop-color="#dc4a55"/><stop offset="0.55" stop-color="#d83642"/><stop offset="0.82" stop-color="#ba2e39"/><stop offset="1" stop-color="#93252d"/></radialGradient><radialGradient id="g158" cx="0.42" cy="0.38" r="0.72"><stop offset="0" stop-color="#f6f7fb"/><stop offset="0.13" stop-color="#b8bddc"/><stop offset="0.3" stop-color="#606ab1"/><stop offset="0.55" stop-color="#4e5aa8"/><stop offset="0.82" stop-color="#434d90"/><stop offset="1" stop-color="#353d72"/></radialGradient><radialGradient id="g159" cx="0.42" cy="0.38" r="0.72"><stop offset="0" stop-color="#fffefb"/><stop offset="0.13" stop-color="#fbf7df"/><stop offset="0.3" stop-color="#f7ecb6"/><stop offset="0.55" stop-color="#f6eaae"/><stop offset="0.82" stop-color="#d4c996"/><stop offset="1" stop-color="#a79f76"/></radialGradient><radialGradient id="g160" cx="0.42" cy="0.38" r="0.72"><stop offset="0" stop-color="#fdf4f6"/><stop offset="0.13" stop-color="#edaab6"/><stop offset="0.3" stop-color="#d63f5a"/><stop offset="0.55" stop-color="#d22a48"/><stop offset="0.82" stop-color="#b5243e"/><stop offset="1" stop-color="#8f1d31"/></radialGradient><radialGradient id="g161" cx="0.42" cy="0.38" r="0.72"><stop offset="0" stop-color="#fcfefb"/><stop offset="0.13" stop-color="#e6f4e1"/><stop offset="0.3" stop-color="#c6e7bc"/><stop offset="0.55" stop-color="#c0e4b4"/><stop offset="0.82" stop-color="#a5c49b"/><stop offset="1" stop-color="#839b7a"/></radialGradient><radialGradient id="g162" cx="0.42" cy="0.38" r="0.72"><stop offset="0" stop-color="#fffefb"/><stop offset="0.13" stop-color="#fbf9df"/><stop offset="0.3" stop-color="#f7f2b6"/><stop offset="0.55" stop-color="#f6f0ae"/><stop offset="0.82" stop-color="#d4ce96"/><stop offset="1" stop-color="#a7a376"/></radialGradient><radialGradient id="g163" cx="0.42" cy="0.38" r="0.72"><stop offset="0" stop-color="#f5f9fc"/><stop offset="0.13" stop-color="#b1d3e3"/><stop offset="0.3" stop-color="#509bc1"/><stop offset="0.55" stop-color="#3c90ba"/><stop offset="0.82" stop-color="#347ca0"/><stop offset="1" stop-color="#29627e"/></radialGradient><radialGradient id="g164" cx="0.42" cy="0.38" r="0.72"><stop offset="0" stop-color="#f9fcfb"/><stop offset="0.13" stop-color="#cbebdc"/><stop offset="0.3" stop-color="#8bd1b1"/><stop offset="0.55" stop-color="#7ecca8"/><stop offset="0.82" stop-color="#6caf90"/><stop offset="1" stop-color="#568b72"/></radialGradient><radialGradient id="g165" cx="0.42" cy="0.38" r="0.72"><stop offset="0" stop-color="#fcf4f6"/><stop offset="0.13" stop-color="#ebaab6"/><stop offset="0.3" stop-color="#d13f5a"/><stop offset="0.55" stop-color="#cc2a48"/><stop offset="0.82" stop-color="#af243e"/><stop offset="1" stop-color="#8b1d31"/></radialGradient><radialGradient id="g166" cx="0.42" cy="0.38" r="0.72"><stop offset="0" stop-color="#f9fcfb"/><stop offset="0.13" stop-color="#ceebdc"/><stop offset="0.3" stop-color="#90d1b1"/><stop offset="0.55" stop-color="#84cca8"/><stop offset="0.82" stop-color="#72af90"/><stop offset="1" stop-color="#5a8b72"/></radialGradient><radialGradient id="g167" cx="0.42" cy="0.38" r="0.72"><stop offset="0" stop-color="#fef7f5"/><stop offset="0.13" stop-color="#f4bdb1"/><stop offset="0.3" stop-color="#e76a50"/><stop offset="0.55" stop-color="#e45a3c"/><stop offset="0.82" stop-color="#c44d34"/><stop offset="1" stop-color="#9b3d29"/></radialGradient><radialGradient id="g168" cx="0.42" cy="0.38" r="0.72"><stop offset="0" stop-color="#fefefb"/><stop offset="0.13" stop-color="#f9f9e1"/><stop offset="0.3" stop-color="#f2f2bc"/><stop offset="0.55" stop-color="#f0f0b4"/><stop offset="0.82" stop-color="#cece9b"/><stop offset="1" stop-color="#a3a37a"/></radialGradient><radialGradient id="g169" cx="0.42" cy="0.38" r="0.72"><stop offset="0" stop-color="#fdf5f5"/><stop offset="0.13" stop-color="#f2b1b1"/><stop offset="0.3" stop-color="#e15050"/><stop offset="0.55" stop-color="#de3c3c"/><stop offset="0.82" stop-color="#bf3434"/><stop offset="1" stop-color="#972929"/></radialGradient><radialGradient id="g170" cx="0.42" cy="0.38" r="0.72"><stop offset="0" stop-color="#fcf4f6"/><stop offset="0.13" stop-color="#e6a5b8"/><stop offset="0.3" stop-color="#c63460"/><stop offset="0.55" stop-color="#c01e4e"/><stop offset="0.82" stop-color="#a51a43"/><stop offset="1" stop-color="#831435"/></radialGradient><radialGradient id="g171" cx="0.42" cy="0.38" r="0.72"><stop offset="0" stop-color="#fbfdfb"/><stop offset="0.13" stop-color="#dff2e1"/><stop offset="0.3" stop-color="#b6e1bc"/><stop offset="0.55" stop-color="#aedeb4"/><stop offset="0.82" stop-color="#96bf9b"/><stop offset="1" stop-color="#76977a"/></radialGradient><radialGradient id="g172" cx="0.42" cy="0.38" r="0.72"><stop offset="0" stop-color="#fefefb"/><stop offset="0.13" stop-color="#f9f9df"/><stop offset="0.3" stop-color="#f2f2b6"/><stop offset="0.55" stop-color="#f0f0ae"/><stop offset="0.82" stop-color="#cece96"/><stop offset="1" stop-color="#a3a376"/></radialGradient><radialGradient id="g173" cx="0.42" cy="0.38" r="0.72"><stop offset="0" stop-color="#f7f6fa"/><stop offset="0.13" stop-color="#bdb8da"/><stop offset="0.3" stop-color="#6a60ab"/><stop offset="0.55" stop-color="#5a4ea2"/><stop offset="0.82" stop-color="#4d438b"/><stop offset="1" stop-color="#3d356e"/></radialGradient><radialGradient id="g174" cx="0.42" cy="0.38" r="0.72"><stop offset="0" stop-color="#fffbf7"/><stop offset="0.13" stop-color="#fbdfc2"/><stop offset="0.3" stop-color="#f7b675"/><stop offset="0.55" stop-color="#f6ae66"/><stop offset="0.82" stop-color="#d49658"/><stop offset="1" stop-color="#a77645"/></radialGradient><radialGradient id="g175" cx="0.42" cy="0.38" r="0.72"><stop offset="0" stop-color="#fbf4f6"/><stop offset="0.13" stop-color="#e1a5b8"/><stop offset="0.3" stop-color="#bc3460"/><stop offset="0.55" stop-color="#b41e4e"/><stop offset="0.82" stop-color="#9b1a43"/><stop offset="1" stop-color="#7a1435"/></radialGradient><radialGradient id="g176" cx="0.42" cy="0.38" r="0.72"><stop offset="0" stop-color="#fcfdfb"/><stop offset="0.13" stop-color="#e6f2e1"/><stop offset="0.3" stop-color="#c6e1bc"/><stop offset="0.55" stop-color="#c0deb4"/><stop offset="0.82" stop-color="#a5bf9b"/><stop offset="1" stop-color="#83977a"/></radialGradient><radialGradient id="g177" cx="0.42" cy="0.38" r="0.72"><stop offset="0" stop-color="#fdf6f5"/><stop offset="0.13" stop-color="#f2b3b1"/><stop offset="0.3" stop-color="#e15550"/><stop offset="0.55" stop-color="#de423c"/><stop offset="0.82" stop-color="#bf3934"/><stop offset="1" stop-color="#972d29"/></radialGradient><radialGradient id="g178" cx="0.42" cy="0.38" r="0.72"><stop offset="0" stop-color="#f6f6fa"/><stop offset="0.13" stop-color="#bbbbda"/><stop offset="0.3" stop-color="#6565ab"/><stop offset="0.55" stop-color="#5454a2"/><stop offset="0.82" stop-color="#48488b"/><stop offset="1" stop-color="#39396e"/></radialGradient><radialGradient id="g179" cx="0.42" cy="0.38" r="0.72"><stop offset="0" stop-color="#fdf5f6"/><stop offset="0.13" stop-color="#edacb3"/><stop offset="0.3" stop-color="#d64555"/><stop offset="0.55" stop-color="#d23042"/><stop offset="0.82" stop-color="#b52939"/><stop offset="1" stop-color="#8f212d"/></radialGradient><radialGradient id="g180" cx="0.42" cy="0.38" r="0.72"><stop offset="0" stop-color="#fef8f6"/><stop offset="0.13" stop-color="#f7c4b3"/><stop offset="0.3" stop-color="#ec7b55"/><stop offset="0.55" stop-color="#ea6c42"/><stop offset="0.82" stop-color="#c95d39"/><stop offset="1" stop-color="#9f492d"/></radialGradient><radialGradient id="g181" cx="0.42" cy="0.38" r="0.72"><stop offset="0" stop-color="#f8f3f5"/><stop offset="0.13" stop-color="#c7a0af"/><stop offset="0.3" stop-color="#802a4a"/><stop offset="0.55" stop-color="#721236"/><stop offset="0.82" stop-color="#620f2e"/><stop offset="1" stop-color="#4e0c25"/></radialGradient><radialGradient id="g182" cx="0.42" cy="0.38" r="0.72"><stop offset="0" stop-color="#f8fcfb"/><stop offset="0.13" stop-color="#c4e8dc"/><stop offset="0.3" stop-color="#7bccb1"/><stop offset="0.55" stop-color="#6cc6a8"/><stop offset="0.82" stop-color="#5daa90"/><stop offset="1" stop-color="#498772"/></radialGradient><radialGradient id="g183" cx="0.42" cy="0.38" r="0.72"><stop offset="0" stop-color="#fcf4f6"/><stop offset="0.13" stop-color="#e3a5b8"/><stop offset="0.3" stop-color="#c13460"/><stop offset="0.55" stop-color="#ba1e4e"/><stop offset="0.82" stop-color="#a01a43"/><stop offset="1" stop-color="#7e1435"/></radialGradient><radialGradient id="g184" cx="0.42" cy="0.38" r="0.72"><stop offset="0" stop-color="#f9f3f6"/><stop offset="0.13" stop-color="#d0a3b3"/><stop offset="0.3" stop-color="#962f55"/><stop offset="0.55" stop-color="#8a1842"/><stop offset="0.82" stop-color="#771539"/><stop offset="1" stop-color="#5e102d"/></radialGradient><radialGradient id="g185" cx="0.42" cy="0.38" r="0.72"><stop offset="0" stop-color="#f8f3f5"/><stop offset="0.13" stop-color="#c7a0b1"/><stop offset="0.3" stop-color="#802a50"/><stop offset="0.55" stop-color="#72123c"/><stop offset="0.82" stop-color="#620f34"/><stop offset="1" stop-color="#4e0c29"/></radialGradient><radialGradient id="g186" cx="0.42" cy="0.38" r="0.72"><stop offset="0" stop-color="#fef7f6"/><stop offset="0.13" stop-color="#f7bfb3"/><stop offset="0.3" stop-color="#ec7055"/><stop offset="0.55" stop-color="#ea6042"/><stop offset="0.82" stop-color="#c95339"/><stop offset="1" stop-color="#9f412d"/></radialGradient><radialGradient id="g187" cx="0.42" cy="0.38" r="0.72"><stop offset="0" stop-color="#f9f3f6"/><stop offset="0.13" stop-color="#cea3b3"/><stop offset="0.3" stop-color="#902f55"/><stop offset="0.55" stop-color="#841842"/><stop offset="0.82" stop-color="#721539"/><stop offset="1" stop-color="#5a102d"/></radialGradient><radialGradient id="g188" cx="0.42" cy="0.38" r="0.72"><stop offset="0" stop-color="#fffefb"/><stop offset="0.13" stop-color="#fbf9e1"/><stop offset="0.3" stop-color="#f7f2bc"/><stop offset="0.55" stop-color="#f6f0b4"/><stop offset="0.82" stop-color="#d4ce9b"/><stop offset="1" stop-color="#a7a37a"/></radialGradient><radialGradient id="g189" cx="0.42" cy="0.38" r="0.72"><stop offset="0" stop-color="#fef7f6"/><stop offset="0.13" stop-color="#f7bdb3"/><stop offset="0.3" stop-color="#ec6a55"/><stop offset="0.55" stop-color="#ea5a42"/><stop offset="0.82" stop-color="#c94d39"/><stop offset="1" stop-color="#9f3d2d"/></radialGradient><radialGradient id="g190" cx="0.42" cy="0.38" r="0.72"><stop offset="0" stop-color="#fcf4f6"/><stop offset="0.13" stop-color="#e6a7b6"/><stop offset="0.3" stop-color="#c63a5a"/><stop offset="0.55" stop-color="#c02448"/><stop offset="0.82" stop-color="#a51f3e"/><stop offset="1" stop-color="#831831"/></radialGradient><radialGradient id="g191" cx="0.42" cy="0.38" r="0.72"><stop offset="0" stop-color="#fcf4f6"/><stop offset="0.13" stop-color="#e8aab6"/><stop offset="0.3" stop-color="#cc3f5a"/><stop offset="0.55" stop-color="#c62a48"/><stop offset="0.82" stop-color="#aa243e"/><stop offset="1" stop-color="#871d31"/></radialGradient><radialGradient id="g192" cx="0.42" cy="0.38" r="0.72"><stop offset="0" stop-color="#fcf4f6"/><stop offset="0.13" stop-color="#e3a7b6"/><stop offset="0.3" stop-color="#c13a5a"/><stop offset="0.55" stop-color="#ba2448"/><stop offset="0.82" stop-color="#a01f3e"/><stop offset="1" stop-color="#7e1831"/></radialGradient><radialGradient id="g193" cx="0.42" cy="0.38" r="0.72"><stop offset="0" stop-color="#fdf5f6"/><stop offset="0.13" stop-color="#f2b1b3"/><stop offset="0.3" stop-color="#e15055"/><stop offset="0.55" stop-color="#de3c42"/><stop offset="0.82" stop-color="#bf3439"/><stop offset="1" stop-color="#97292d"/></radialGradient><radialGradient id="g194" cx="0.42" cy="0.38" r="0.72"><stop offset="0" stop-color="#fffefb"/><stop offset="0.13" stop-color="#fbf7e1"/><stop offset="0.3" stop-color="#f7ecbc"/><stop offset="0.55" stop-color="#f6eab4"/><stop offset="0.82" stop-color="#d4c99b"/><stop offset="1" stop-color="#a79f7a"/></radialGradient><radialGradient id="g195" cx="0.42" cy="0.38" r="0.72"><stop offset="0" stop-color="#faf3f6"/><stop offset="0.13" stop-color="#d5a3b3"/><stop offset="0.3" stop-color="#a02f55"/><stop offset="0.55" stop-color="#961842"/><stop offset="0.82" stop-color="#811539"/><stop offset="1" stop-color="#66102d"/></radialGradient><radialGradient id="g196" cx="0.42" cy="0.38" r="0.72"><stop offset="0" stop-color="#fbf4f6"/><stop offset="0.13" stop-color="#e1a7b3"/><stop offset="0.3" stop-color="#bc3a55"/><stop offset="0.55" stop-color="#b42442"/><stop offset="0.82" stop-color="#9b1f39"/><stop offset="1" stop-color="#7a182d"/></radialGradient><radialGradient id="g197" cx="0.42" cy="0.38" r="0.72"><stop offset="0" stop-color="#fcf4f6"/><stop offset="0.13" stop-color="#e6aab6"/><stop offset="0.3" stop-color="#c63f5a"/><stop offset="0.55" stop-color="#c02a48"/><stop offset="0.82" stop-color="#a5243e"/><stop offset="1" stop-color="#831d31"/></radialGradient><radialGradient id="g198" cx="0.42" cy="0.38" r="0.72"><stop offset="0" stop-color="#f7f3f5"/><stop offset="0.13" stop-color="#bf9eac"/><stop offset="0.3" stop-color="#702445"/><stop offset="0.55" stop-color="#600c30"/><stop offset="0.82" stop-color="#530a29"/><stop offset="1" stop-color="#410821"/></radialGradient><radialGradient id="g199" cx="0.42" cy="0.38" r="0.72"><stop offset="0" stop-color="#fcf5f6"/><stop offset="0.13" stop-color="#ebacb6"/><stop offset="0.3" stop-color="#d1455a"/><stop offset="0.55" stop-color="#cc3048"/><stop offset="0.82" stop-color="#af293e"/><stop offset="1" stop-color="#8b2131"/></radialGradient><radialGradient id="g200" cx="0.42" cy="0.38" r="0.72"><stop offset="0" stop-color="#f9f3f6"/><stop offset="0.13" stop-color="#cba3b3"/><stop offset="0.3" stop-color="#8b2f55"/><stop offset="0.55" stop-color="#7e1842"/><stop offset="0.82" stop-color="#6c1539"/><stop offset="1" stop-color="#56102d"/></radialGradient><radialGradient id="g201" cx="0.42" cy="0.38" r="0.72"><stop offset="0" stop-color="#fbfdfb"/><stop offset="0.13" stop-color="#dfefe1"/><stop offset="0.3" stop-color="#b6dcbc"/><stop offset="0.55" stop-color="#aed8b4"/><stop offset="0.82" stop-color="#96ba9b"/><stop offset="1" stop-color="#76937a"/></radialGradient><radialGradient id="g202" cx="0.42" cy="0.38" r="0.72"><stop offset="0" stop-color="#fffcf8"/><stop offset="0.13" stop-color="#fbe3c7"/><stop offset="0.3" stop-color="#f7c180"/><stop offset="0.55" stop-color="#f6ba72"/><stop offset="0.82" stop-color="#d4a062"/><stop offset="1" stop-color="#a77e4e"/></radialGradient><radialGradient id="g203" cx="0.42" cy="0.38" r="0.72"><stop offset="0" stop-color="#fdf5f6"/><stop offset="0.13" stop-color="#efb1b3"/><stop offset="0.3" stop-color="#dc5055"/><stop offset="0.55" stop-color="#d83c42"/><stop offset="0.82" stop-color="#ba3439"/><stop offset="1" stop-color="#93292d"/></radialGradient><radialGradient id="g204" cx="0.42" cy="0.38" r="0.72"><stop offset="0" stop-color="#f8f3f5"/><stop offset="0.13" stop-color="#c4a0af"/><stop offset="0.3" stop-color="#7b2a4a"/><stop offset="0.55" stop-color="#6c1236"/><stop offset="0.82" stop-color="#5d0f2e"/><stop offset="1" stop-color="#490c25"/></radialGradient><radialGradient id="g205" cx="0.42" cy="0.38" r="0.72"><stop offset="0" stop-color="#f8f3f5"/><stop offset="0.13" stop-color="#c9a0b1"/><stop offset="0.3" stop-color="#862a50"/><stop offset="0.55" stop-color="#78123c"/><stop offset="0.82" stop-color="#670f34"/><stop offset="1" stop-color="#520c29"/></radialGradient><radialGradient id="g206" cx="0.42" cy="0.38" r="0.72"><stop offset="0" stop-color="#fbf4f6"/><stop offset="0.13" stop-color="#dca5b3"/><stop offset="0.3" stop-color="#b13455"/><stop offset="0.55" stop-color="#a81e42"/><stop offset="0.82" stop-color="#901a39"/><stop offset="1" stop-color="#72142d"/></radialGradient><radialGradient id="g207" cx="0.42" cy="0.38" r="0.72"><stop offset="0" stop-color="#fef6f6"/><stop offset="0.13" stop-color="#f4b6b3"/><stop offset="0.3" stop-color="#e75a55"/><stop offset="0.55" stop-color="#e44842"/><stop offset="0.82" stop-color="#c43e39"/><stop offset="1" stop-color="#9b312d"/></radialGradient><radialGradient id="g208" cx="0.42" cy="0.38" r="0.72"><stop offset="0" stop-color="#f6fafb"/><stop offset="0.13" stop-color="#b3d7df"/><stop offset="0.3" stop-color="#55a6b6"/><stop offset="0.55" stop-color="#429cae"/><stop offset="0.82" stop-color="#398696"/><stop offset="1" stop-color="#2d6a76"/></radialGradient><radialGradient id="g209" cx="0.42" cy="0.38" r="0.72"><stop offset="0" stop-color="#f6f3f5"/><stop offset="0.13" stop-color="#bb9eac"/><stop offset="0.3" stop-color="#652445"/><stop offset="0.55" stop-color="#540c30"/><stop offset="0.82" stop-color="#480a29"/><stop offset="1" stop-color="#390821"/></radialGradient><radialGradient id="g210" cx="0.42" cy="0.38" r="0.72"><stop offset="0" stop-color="#fdf5f6"/><stop offset="0.13" stop-color="#edafb6"/><stop offset="0.3" stop-color="#d64a5a"/><stop offset="0.55" stop-color="#d23648"/><stop offset="0.82" stop-color="#b52e3e"/><stop offset="1" stop-color="#8f2531"/></radialGradient></defs>
<rect width="685" height="527" fill="#fff"/>
<circle cx="264.2" cy="109.8" r="2.75" fill="url(#g0)"/>
<circle cx="246.1" cy="89.4" r="2.75" fill="url(#g1)"/>
<circle cx="108.2" cy="174.7" r="2.75" fill="url(#g2)"/>
<circle cx="148.4" cy="163.5" r="2.75" fill="url(#g3)"/>
<circle cx="146.0" cy="156.4" r="2.75" fill="url(#g3)"/>
<circle cx="256.9" cy="127.5" r="2.75" fill="url(#g4)"/>
<circle cx="249.0" cy="59.0" r="2.75" fill="url(#g5)"/>
<circle cx="223.5" cy="162.7" r="2.75" fill="url(#g6)"/>
<circle cx="240.5" cy="176.7" r="2.75" fill="url(#g7)"/>
<circle cx="254.8" cy="97.0" r="2.75" fill="url(#g4)"/>
<circle cx="264.8" cy="113.5" r="2.75" fill="url(#g0)"/>
<circle cx="171.8" cy="156.9" r="2.75" fill="url(#g8)"/>
<circle cx="264.2" cy="69.2" r="2.75" fill="url(#g0)"/>
<circle cx="82.5" cy="177.5" r="2.75" fill="url(#g9)"/>
<circle cx="87.6" cy="168.7" r="2.75" fill="url(#g9)"/>
<circle cx="93.3" cy="160.0" r="2.75" fill="url(#g10)"/>
<circle cx="170.9" cy="163.8" r="2.75" fill="url(#g8)"/>
<circle cx="261.0" cy="119.2" r="2.75" fill="url(#g11)"/>
<circle cx="95.1" cy="156.6" r="2.75" fill="url(#g10)"/>
<circle cx="81.2" cy="172.9" r="2.75" fill="url(#g12)"/>
<circle cx="244.5" cy="125.5" r="2.75" fill="url(#g7)"/>
<circle cx="122.7" cy="178.1" r="2.75" fill="url(#g13)"/>
<circle cx="264.2" cy="73.3" r="2.75" fill="url(#g0)"/>
<circle cx="257.9" cy="61.9" r="2.75" fill="url(#g14)"/>
<circle cx="73.2" cy="155.0" r="2.75" fill="url(#g15)"/>
<circle cx="172.6" cy="166.9" r="2.75" fill="url(#g8)"/>
<circle cx="123.5" cy="163.0" r="2.75" fill="url(#g16)"/>
<circle cx="120.0" cy="165.0" r="2.75" fill="url(#g13)"/>
<circle cx="84.5" cy="158.3" r="2.75" fill="url(#g9)"/>
<circle cx="82.8" cy="150.6" r="2.75" fill="url(#g9)"/>
<circle cx="147.9" cy="166.7" r="2.75" fill="url(#g3)"/>
<circle cx="83.2" cy="167.1" r="2.75" fill="url(#g9)"/>
<circle cx="248.0" cy="107.5" r="2.75" fill="url(#g5)"/>
<circle cx="263.1" cy="79.5" r="2.75" fill="url(#g17)"/>
<circle cx="102.0" cy="148.8" r="2.75" fill="url(#g18)"/>
<circle cx="92.0" cy="173.2" r="2.75" fill="url(#g10)"/>
<circle cx="218.5" cy="151.4" r="2.75" fill="url(#g6)"/>
<circle cx="83.9" cy="169.7" r="2.75" fill="url(#g9)"/>
<circle cx="71.0" cy="186.5" r="2.75" fill="url(#g19)"/>
<circle cx="241.9" cy="163.4" r="2.75" fill="url(#g7)"/>
<circle cx="141.6" cy="178.7" r="2.75" fill="url(#g20)"/>
<circle cx="85.9" cy="172.0" r="2.75" fill="url(#g9)"/>
<circle cx="220.0" cy="166.1" r="2.75" fill="url(#g6)"/>
<circle cx="95.5" cy="174.1" r="2.75" fill="url(#g10)"/>
<circle cx="85.9" cy="162.6" r="2.75" fill="url(#g9)"/>
<circle cx="245.5" cy="112.5" r="2.75" fill="url(#g1)"/>
<circle cx="73.2" cy="165.3" r="2.75" fill="url(#g15)"/>
<circle cx="143.7" cy="166.8" r="2.75" fill="url(#g20)"/>
<circle cx="175.7" cy="168.1" r="2.75" fill="url(#g21)"/>
<circle cx="261.0" cy="87.9" r="2.75" fill="url(#g11)"/>
<circle cx="187.8" cy="176.3" r="2.75" fill="url(#g22)"/>
<circle cx="69.8" cy="178.9" r="2.75" fill="url(#g19)"/>
<circle cx="243.3" cy="92.1" r="2.75" fill="url(#g7)"/>
<circle cx="246.5" cy="98.3" r="2.75" fill="url(#g1)"/>
<circle cx="89.6" cy="153.6" r="2.75" fill="url(#g10)"/>
<circle cx="248.7" cy="137.6" r="2.75" fill="url(#g5)"/>
<circle cx="140.8" cy="164.3" r="2.75" fill="url(#g20)"/>
<circle cx="168.7" cy="173.1" r="2.75" fill="url(#g8)"/>
<circle cx="212.6" cy="139.3" r="2.75" fill="url(#g6)"/>
<circle cx="97.1" cy="167.4" r="2.75" fill="url(#g23)"/>
<circle cx="102.2" cy="176.4" r="2.75" fill="url(#g18)"/>
<circle cx="80.8" cy="161.3" r="2.75" fill="url(#g12)"/>
<circle cx="178.8" cy="147.3" r="2.75" fill="url(#g21)"/>
<circle cx="262.1" cy="102.5" r="2.75" fill="url(#g17)"/>
<circle cx="94.6" cy="162.3" r="2.75" fill="url(#g10)"/>
<circle cx="143.5" cy="158.0" r="2.75" fill="url(#g20)"/>
<circle cx="81.6" cy="165.1" r="2.75" fill="url(#g12)"/>
<circle cx="218.4" cy="123.2" r="2.75" fill="url(#g6)"/>
<circle cx="258.5" cy="92.2" r="2.75" fill="url(#g14)"/>
<circle cx="241.9" cy="155.5" r="2.75" fill="url(#g7)"/>
<circle cx="239.2" cy="161.5" r="2.75" fill="url(#g7)"/>
<circle cx="185.1" cy="176.4" r="2.75" fill="url(#g24)"/>
<circle cx="171.6" cy="152.1" r="2.75" fill="url(#g8)"/>
<circle cx="95.9" cy="165.0" r="2.75" fill="url(#g10)"/>
<circle cx="81.9" cy="153.7" r="2.75" fill="url(#g12)"/>
<circle cx="104.5" cy="154.0" r="2.75" fill="url(#g25)"/>
<circle cx="179.5" cy="151.9" r="2.75" fill="url(#g21)"/>
<circle cx="81.0" cy="158.1" r="2.75" fill="url(#g12)"/>
<circle cx="169.5" cy="161.2" r="2.75" fill="url(#g8)"/>
<circle cx="132.2" cy="168.3" r="2.75" fill="url(#g26)"/>
<circle cx="100.6" cy="150.0" r="2.75" fill="url(#g18)"/>
<circle cx="223.7" cy="183.5" r="2.75" fill="url(#g27)"/>
<circle cx="85.4" cy="174.8" r="2.75" fill="url(#g9)"/>
<circle cx="82.4" cy="148.0" r="2.75" fill="url(#g9)"/>
<circle cx="223.9" cy="149.9" r="2.75" fill="url(#g27)"/>
<circle cx="217.5" cy="161.9" r="2.75" fill="url(#g6)"/>
<circle cx="121.9" cy="184.9" r="2.75" fill="url(#g13)"/>
<circle cx="132.2" cy="157.0" r="2.75" fill="url(#g26)"/>
<circle cx="91.2" cy="150.8" r="2.75" fill="url(#g10)"/>
<circle cx="217.0" cy="119.1" r="2.75" fill="url(#g6)"/>
<circle cx="260.8" cy="123.3" r="2.75" fill="url(#g11)"/>
<circle cx="91.7" cy="179.9" r="2.75" fill="url(#g10)"/>
<circle cx="87.4" cy="155.2" r="2.75" fill="url(#g9)"/>
<circle cx="169.6" cy="166.6" r="2.75" fill="url(#g8)"/>
<circle cx="122.7" cy="159.3" r="2.75" fill="url(#g13)"/>
<circle cx="262.4" cy="94.1" r="2.75" fill="url(#g17)"/>
<circle cx="247.9" cy="49.4" r="2.75" fill="url(#g5)"/>
<circle cx="211.3" cy="158.1" r="2.75" fill="url(#g28)"/>
<circle cx="217.1" cy="116.3" r="2.75" fill="url(#g6)"/>
<circle cx="127.9" cy="166.1" r="2.75" fill="url(#g29)"/>
<circle cx="258.5" cy="83.0" r="2.75" fill="url(#g14)"/>
<circle cx="241.7" cy="167.5" r="2.75" fill="url(#g7)"/>
<circle cx="221.2" cy="132.1" r="2.75" fill="url(#g6)"/>
<circle cx="263.2" cy="124.5" r="2.75" fill="url(#g17)"/>
<circle cx="183.5" cy="160.6" r="2.75" fill="url(#g24)"/>
<circle cx="128.5" cy="154.8" r="2.75" fill="url(#g30)"/>
<circle cx="94.0" cy="178.4" r="2.75" fill="url(#g10)"/>
<circle cx="138.1" cy="165.2" r="2.75" fill="url(#g20)"/>
<circle cx="118.5" cy="168.7" r="2.75" fill="url(#g13)"/>
<circle cx="243.3" cy="78.5" r="2.75" fill="url(#g7)"/>
<circle cx="101.2" cy="163.9" r="2.75" fill="url(#g18)"/>
<circle cx="215.2" cy="124.6" r="2.75" fill="url(#g6)"/>
<circle cx="222.4" cy="140.3" r="2.75" fill="url(#g6)"/>
<circle cx="177.9" cy="166.4" r="2.75" fill="url(#g21)"/>
<circle cx="220.9" cy="162.7" r="2.75" fill="url(#g6)"/>
<circle cx="168.4" cy="170.2" r="2.75" fill="url(#g8)"/>
<circle cx="121.0" cy="180.6" r="2.75" fill="url(#g13)"/>
<circle cx="128.7" cy="162.7" r="2.75" fill="url(#g31)"/>
<circle cx="259.0" cy="79.6" r="2.75" fill="url(#g14)"/>
<circle cx="66.4" cy="202.0" r="2.75" fill="url(#g32)"/>
<circle cx="98.8" cy="164.8" r="2.75" fill="url(#g23)"/>
<circle cx="90.2" cy="168.5" r="2.75" fill="url(#g10)"/>
<circle cx="90.6" cy="144.8" r="2.75" fill="url(#g10)"/>
<circle cx="263.5" cy="130.0" r="2.75" fill="url(#g17)"/>
<circle cx="241.7" cy="108.1" r="2.75" fill="url(#g7)"/>
<circle cx="147.0" cy="178.8" r="2.75" fill="url(#g3)"/>
<circle cx="147.8" cy="175.1" r="2.75" fill="url(#g3)"/>
<circle cx="78.8" cy="171.6" r="2.75" fill="url(#g12)"/>
<circle cx="71.5" cy="171.2" r="2.75" fill="url(#g15)"/>
<circle cx="217.8" cy="125.8" r="2.75" fill="url(#g6)"/>
<circle cx="222.2" cy="156.3" r="2.75" fill="url(#g6)"/>
<circle cx="212.7" cy="160.3" r="2.75" fill="url(#g6)"/>
<circle cx="242.6" cy="95.8" r="2.75" fill="url(#g7)"/>
<circle cx="83.4" cy="160.8" r="2.75" fill="url(#g9)"/>
<circle cx="79.4" cy="175.6" r="2.75" fill="url(#g12)"/>
<circle cx="256.9" cy="51.5" r="2.75" fill="url(#g4)"/>
<circle cx="214.0" cy="131.1" r="2.75" fill="url(#g6)"/>
<circle cx="138.3" cy="160.7" r="2.75" fill="url(#g20)"/>
<circle cx="184.5" cy="167.0" r="2.75" fill="url(#g24)"/>
<circle cx="223.4" cy="165.7" r="2.75" fill="url(#g6)"/>
<circle cx="71.5" cy="189.2" r="2.75" fill="url(#g15)"/>
<circle cx="135.3" cy="170.3" r="2.75" fill="url(#g26)"/>
<circle cx="76.0" cy="176.4" r="2.75" fill="url(#g33)"/>
<circle cx="68.9" cy="191.7" r="2.75" fill="url(#g19)"/>
<circle cx="137.1" cy="173.9" r="2.75" fill="url(#g20)"/>
<circle cx="74.9" cy="143.9" r="2.75" fill="url(#g15)"/>
<circle cx="169.4" cy="177.2" r="2.75" fill="url(#g8)"/>
<circle cx="218.9" cy="130.5" r="2.75" fill="url(#g6)"/>
<circle cx="125.0" cy="169.0" r="2.75" fill="url(#g29)"/>
<circle cx="96.3" cy="158.8" r="2.75" fill="url(#g10)"/>
<circle cx="240.9" cy="173.8" r="2.75" fill="url(#g7)"/>
<circle cx="217.3" cy="145.7" r="2.75" fill="url(#g6)"/>
<circle cx="68.1" cy="174.7" r="2.75" fill="url(#g19)"/>
<circle cx="92.7" cy="167.0" r="2.75" fill="url(#g10)"/>
<circle cx="258.5" cy="65.5" r="2.75" fill="url(#g14)"/>
<circle cx="144.2" cy="173.5" r="2.75" fill="url(#g20)"/>
<circle cx="216.0" cy="156.1" r="2.75" fill="url(#g6)"/>
<circle cx="130.2" cy="149.3" r="2.75" fill="url(#g34)"/>
<circle cx="213.9" cy="157.8" r="2.75" fill="url(#g6)"/>
<circle cx="88.8" cy="175.2" r="2.75" fill="url(#g9)"/>
<circle cx="264.5" cy="84.8" r="2.75" fill="url(#g0)"/>
<circle cx="223.8" cy="153.3" r="2.75" fill="url(#g27)"/>
<circle cx="242.3" cy="110.8" r="2.75" fill="url(#g7)"/>
<circle cx="90.8" cy="171.0" r="2.75" fill="url(#g10)"/>
<circle cx="126.0" cy="161.0" r="2.75" fill="url(#g29)"/>
<circle cx="250.2" cy="80.4" r="2.75" fill="url(#g5)"/>
<circle cx="238.3" cy="202.3" r="2.75" fill="url(#g7)"/>
<circle cx="96.3" cy="142.0" r="2.75" fill="url(#g10)"/>
<circle cx="222.6" cy="178.3" r="2.75" fill="url(#g6)"/>
<circle cx="74.9" cy="171.2" r="2.75" fill="url(#g15)"/>
<circle cx="89.5" cy="145.9" r="2.75" fill="url(#g9)"/>
<circle cx="264.2" cy="96.3" r="2.75" fill="url(#g0)"/>
<circle cx="221.6" cy="137.3" r="2.75" fill="url(#g6)"/>
<circle cx="250.0" cy="67.0" r="2.75" fill="url(#g5)"/>
<circle cx="91.7" cy="177.2" r="2.75" fill="url(#g10)"/>
<circle cx="179.0" cy="170.1" r="2.75" fill="url(#g21)"/>
<circle cx="260.8" cy="112.9" r="2.75" fill="url(#g11)"/>
<circle cx="65.5" cy="179.8" r="2.75" fill="url(#g32)"/>
<circle cx="93.1" cy="170.0" r="2.75" fill="url(#g10)"/>
<circle cx="92.3" cy="163.8" r="2.75" fill="url(#g10)"/>
<circle cx="213.5" cy="165.3" r="2.75" fill="url(#g6)"/>
<circle cx="145.6" cy="170.9" r="2.75" fill="url(#g3)"/>
<circle cx="92.1" cy="156.3" r="2.75" fill="url(#g10)"/>
<circle cx="249.6" cy="88.6" r="2.75" fill="url(#g5)"/>
<circle cx="255.8" cy="105.6" r="2.75" fill="url(#g4)"/>
<circle cx="69.8" cy="195.1" r="2.75" fill="url(#g19)"/>
<circle cx="261.8" cy="119.4" r="2.75" fill="url(#g17)"/>
<circle cx="265.1" cy="88.7" r="2.75" fill="url(#g0)"/>
<circle cx="257.5" cy="90.0" r="2.75" fill="url(#g14)"/>
<circle cx="187.9" cy="165.7" r="2.75" fill="url(#g22)"/>
<circle cx="66.4" cy="157.6" r="2.75" fill="url(#g32)"/>
<circle cx="142.5" cy="181.8" r="2.75" fill="url(#g20)"/>
<circle cx="115.9" cy="174.7" r="2.75" fill="url(#g35)"/>
<circle cx="171.0" cy="174.8" r="2.75" fill="url(#g8)"/>
<circle cx="86.4" cy="145.0" r="2.75" fill="url(#g9)"/>
<circle cx="183.7" cy="163.3" r="2.75" fill="url(#g24)"/>
<circle cx="238.8" cy="166.1" r="2.75" fill="url(#g7)"/>
<circle cx="139.3" cy="156.8" r="2.75" fill="url(#g20)"/>
<circle cx="239.8" cy="157.2" r="2.75" fill="url(#g7)"/>
<circle cx="214.5" cy="141.8" r="2.75" fill="url(#g6)"/>
<circle cx="241.0" cy="170.5" r="2.75" fill="url(#g7)"/>
<circle cx="126.1" cy="178.9" r="2.75" fill="url(#g29)"/>
<circle cx="178.8" cy="162.0" r="2.75" fill="url(#g21)"/>
<circle cx="68.1" cy="194.3" r="2.75" fill="url(#g19)"/>
<circle cx="246.5" cy="119.2" r="2.75" fill="url(#g1)"/>
<circle cx="78.9" cy="163.7" r="2.75" fill="url(#g12)"/>
<circle cx="247.6" cy="37.3" r="2.75" fill="url(#g1)"/>
<circle cx="90.0" cy="161.1" r="2.75" fill="url(#g10)"/>
<circle cx="145.1" cy="180.7" r="2.75" fill="url(#g3)"/>
<circle cx="184.6" cy="154.8" r="2.75" fill="url(#g24)"/>
<circle cx="215.5" cy="121.9" r="2.75" fill="url(#g6)"/>
<circle cx="144.1" cy="163.0" r="2.75" fill="url(#g20)"/>
<circle cx="264.3" cy="109.6" r="2.75" fill="url(#g0)"/>
<circle cx="180.1" cy="186.4" r="2.75" fill="url(#g21)"/>
<circle cx="97.7" cy="153.1" r="2.75" fill="url(#g23)"/>
<circle cx="87.8" cy="157.7" r="2.75" fill="url(#g9)"/>
<circle cx="220.9" cy="134.8" r="2.75" fill="url(#g6)"/>
<circle cx="261.0" cy="106.7" r="2.75" fill="url(#g11)"/>
<circle cx="139.0" cy="171.8" r="2.75" fill="url(#g20)"/>
<circle cx="265.0" cy="88.0" r="2.75" fill="url(#g0)"/>
<circle cx="127.0" cy="187.5" r="2.75" fill="url(#g29)"/>
<circle cx="212.7" cy="154.8" r="2.75" fill="url(#g6)"/>
<circle cx="173.9" cy="149.7" r="2.75" fill="url(#g21)"/>
<circle cx="186.1" cy="160.7" r="2.75" fill="url(#g24)"/>
<circle cx="66.0" cy="164.7" r="2.75" fill="url(#g32)"/>
<circle cx="175.1" cy="178.4" r="2.75" fill="url(#g21)"/>
<circle cx="81.1" cy="169.8" r="2.75" fill="url(#g12)"/>
<circle cx="262.1" cy="125.4" r="2.75" fill="url(#g17)"/>
<circle cx="97.7" cy="145.7" r="2.75" fill="url(#g23)"/>
<circle cx="137.3" cy="177.0" r="2.75" fill="url(#g20)"/>
<circle cx="256.9" cy="69.2" r="2.75" fill="url(#g4)"/>
<circle cx="264.5" cy="113.0" r="2.75" fill="url(#g0)"/>
<circle cx="218.0" cy="135.9" r="2.75" fill="url(#g6)"/>
<circle cx="263.1" cy="115.0" r="2.75" fill="url(#g17)"/>
<circle cx="176.7" cy="149.3" r="2.75" fill="url(#g21)"/>
<circle cx="133.5" cy="178.7" r="2.75" fill="url(#g26)"/>
<circle cx="72.3" cy="184.0" r="2.75" fill="url(#g15)"/>
<circle cx="135.3" cy="164.2" r="2.75" fill="url(#g26)"/>
<circle cx="133.0" cy="156.0" r="2.75" fill="url(#g26)"/>
<circle cx="127.0" cy="171.2" r="2.75" fill="url(#g29)"/>
<circle cx="75.8" cy="132.8" r="2.75" fill="url(#g36)"/>
<circle cx="64.7" cy="161.0" r="2.75" fill="url(#g32)"/>
<circle cx="62.1" cy="171.2" r="2.75" fill="url(#g32)"/>
<circle cx="257.9" cy="115.0" r="2.75" fill="url(#g14)"/>
<circle cx="178.2" cy="184.4" r="2.75" fill="url(#g21)"/>
<circle cx="174.7" cy="165.1" r="2.75" fill="url(#g21)"/>
<circle cx="175.8" cy="155.8" r="2.75" fill="url(#g21)"/>
<circle cx="264.2" cy="120.2" r="2.75" fill="url(#g0)"/>
<circle cx="178.9" cy="172.8" r="2.75" fill="url(#g21)"/>
<circle cx="89.7" cy="163.9" r="2.75" fill="url(#g10)"/>
<circle cx="102.4" cy="156.4" r="2.75" fill="url(#g18)"/>
<circle cx="213.2" cy="172.0" r="2.75" fill="url(#g6)"/>
<circle cx="91.8" cy="147.3" r="2.75" fill="url(#g10)"/>
<circle cx="245.4" cy="87.9" r="2.75" fill="url(#g1)"/>
<circle cx="97.6" cy="148.3" r="2.75" fill="url(#g23)"/>
<circle cx="121.0" cy="169.5" r="2.75" fill="url(#g13)"/>
<circle cx="94.4" cy="147.4" r="2.75" fill="url(#g10)"/>
<circle cx="92.8" cy="144.8" r="2.75" fill="url(#g10)"/>
<circle cx="95.2" cy="150.0" r="2.75" fill="url(#g10)"/>
<circle cx="257.2" cy="103.3" r="2.75" fill="url(#g4)"/>
<circle cx="104.2" cy="160.0" r="2.75" fill="url(#g37)"/>
<circle cx="212.4" cy="151.5" r="2.75" fill="url(#g6)"/>
<circle cx="86.4" cy="152.2" r="2.75" fill="url(#g9)"/>
<circle cx="132.4" cy="175.7" r="2.75" fill="url(#g26)"/>
<circle cx="245.4" cy="106.7" r="2.75" fill="url(#g1)"/>
<circle cx="101.5" cy="153.2" r="2.75" fill="url(#g18)"/>
<circle cx="79.3" cy="156.2" r="2.75" fill="url(#g12)"/>
<circle cx="213.9" cy="146.3" r="2.75" fill="url(#g6)"/>
<circle cx="221.4" cy="159.4" r="2.75" fill="url(#g6)"/>
<circle cx="90.7" cy="158.6" r="2.75" fill="url(#g10)"/>
<circle cx="216.2" cy="165.4" r="2.75" fill="url(#g6)"/>
<circle cx="179.6" cy="158.0" r="2.75" fill="url(#g21)"/>
<circle cx="260.8" cy="129.6" r="2.75" fill="url(#g11)"/>
<circle cx="124.4" cy="174.7" r="2.75" fill="url(#g16)"/>
<circle cx="246.5" cy="92.0" r="2.75" fill="url(#g1)"/>
<circle cx="82.1" cy="141.4" r="2.75" fill="url(#g12)"/>
<circle cx="147.8" cy="151.4" r="2.75" fill="url(#g3)"/>
<circle cx="83.7" cy="155.5" r="2.75" fill="url(#g9)"/>
<circle cx="179.5" cy="181.5" r="2.75" fill="url(#g21)"/>
<circle cx="223.0" cy="143.0" r="2.75" fill="url(#g6)"/>
<circle cx="171.3" cy="169.6" r="2.75" fill="url(#g8)"/>
<circle cx="57.0" cy="177.2" r="2.75" fill="url(#g38)"/>
<circle cx="119.3" cy="161.0" r="2.75" fill="url(#g13)"/>
<circle cx="177.2" cy="140.2" r="2.75" fill="url(#g21)"/>
<circle cx="88.6" cy="172.3" r="2.75" fill="url(#g9)"/>
<circle cx="82.8" cy="174.9" r="2.75" fill="url(#g9)"/>
<circle cx="243.4" cy="78.5" r="2.75" fill="url(#g7)"/>
<circle cx="134.3" cy="173.8" r="2.75" fill="url(#g26)"/>
<circle cx="147.9" cy="159.2" r="2.75" fill="url(#g3)"/>
<circle cx="86.7" cy="160.1" r="2.75" fill="url(#g9)"/>
<circle cx="105.5" cy="160.5" r="2.75" fill="url(#g39)"/>
<circle cx="243.3" cy="102.5" r="2.75" fill="url(#g7)"/>
<circle cx="221.6" cy="173.1" r="2.75" fill="url(#g6)"/>
<circle cx="214.4" cy="135.9" r="2.75" fill="url(#g6)"/>
<circle cx="132.5" cy="171.0" r="2.75" fill="url(#g26)"/>
<circle cx="175.9" cy="152.5" r="2.75" fill="url(#g21)"/>
<circle cx="242.3" cy="122.3" r="2.75" fill="url(#g7)"/>
<circle cx="244.3" cy="121.2" r="2.75" fill="url(#g7)"/>
<circle cx="256.9" cy="76.5" r="2.75" fill="url(#g4)"/>
<circle cx="142.5" cy="175.7" r="2.75" fill="url(#g20)"/>
<circle cx="140.0" cy="174.4" r="2.75" fill="url(#g20)"/>
<circle cx="173.8" cy="146.4" r="2.75" fill="url(#g21)"/>
<circle cx="248.3" cy="103.9" r="2.75" fill="url(#g5)"/>
<circle cx="168.2" cy="164.2" r="2.75" fill="url(#g8)"/>
<circle cx="112.5" cy="166.1" r="2.75" fill="url(#g2)"/>
<circle cx="129.0" cy="177.6" r="2.75" fill="url(#g40)"/>
<circle cx="263.0" cy="94.0" r="2.75" fill="url(#g17)"/>
<circle cx="103.1" cy="159.5" r="2.75" fill="url(#g18)"/>
<circle cx="145.2" cy="160.3" r="2.75" fill="url(#g3)"/>
<circle cx="144.5" cy="177.8" r="2.75" fill="url(#g20)"/>
<circle cx="252.7" cy="83.8" r="2.75" fill="url(#g5)"/>
<circle cx="217.4" cy="142.8" r="2.75" fill="url(#g6)"/>
<circle cx="98.4" cy="160.9" r="2.75" fill="url(#g23)"/>
<circle cx="184.4" cy="170.6" r="2.75" fill="url(#g24)"/>
<circle cx="114.2" cy="161.0" r="2.75" fill="url(#g41)"/>
<circle cx="218.9" cy="156.7" r="2.75" fill="url(#g6)"/>
<circle cx="85.5" cy="165.3" r="2.75" fill="url(#g9)"/>
<circle cx="179.4" cy="176.8" r="2.75" fill="url(#g21)"/>
<circle cx="79.9" cy="150.5" r="2.75" fill="url(#g12)"/>
<circle cx="173.7" cy="160.6" r="2.75" fill="url(#g21)"/>
<circle cx="215.6" cy="159.9" r="2.75" fill="url(#g6)"/>
<circle cx="264.1" cy="101.6" r="2.75" fill="url(#g0)"/>
<circle cx="243.3" cy="68.1" r="2.75" fill="url(#g7)"/>
<circle cx="73.2" cy="178.1" r="2.75" fill="url(#g15)"/>
<circle cx="116.8" cy="163.6" r="2.75" fill="url(#g35)"/>
<circle cx="220.0" cy="145.0" r="2.75" fill="url(#g6)"/>
<circle cx="255.1" cy="82.2" r="2.75" fill="url(#g4)"/>
<circle cx="187.4" cy="171.2" r="2.75" fill="url(#g22)"/>
<circle cx="70.6" cy="208.0" r="2.75" fill="url(#g19)"/>
<circle cx="78.1" cy="152.7" r="2.75" fill="url(#g12)"/>
<circle cx="142.1" cy="169.7" r="2.75" fill="url(#g20)"/>
<circle cx="243.5" cy="143.8" r="2.75" fill="url(#g7)"/>
<circle cx="187.2" cy="168.3" r="2.75" fill="url(#g24)"/>
<circle cx="115.9" cy="169.5" r="2.75" fill="url(#g35)"/>
<circle cx="217.7" cy="148.7" r="2.75" fill="url(#g6)"/>
<circle cx="78.4" cy="148.0" r="2.75" fill="url(#g12)"/>
<circle cx="248.5" cy="55.6" r="2.75" fill="url(#g5)"/>
<circle cx="265.2" cy="100.4" r="2.75" fill="url(#g0)"/>
<circle cx="211.8" cy="162.9" r="2.75" fill="url(#g28)"/>
<circle cx="80.2" cy="178.6" r="2.75" fill="url(#g12)"/>
<circle cx="148.5" cy="169.8" r="2.75" fill="url(#g3)"/>
<circle cx="68.9" cy="166.1" r="2.75" fill="url(#g19)"/>
<circle cx="67.2" cy="170.4" r="2.75" fill="url(#g42)"/>
<circle cx="183.8" cy="157.1" r="2.75" fill="url(#g24)"/>
<circle cx="187.4" cy="163.1" r="2.75" fill="url(#g22)"/>
<circle cx="244.2" cy="112.4" r="2.75" fill="url(#g7)"/>
<circle cx="93.6" cy="152.1" r="2.75" fill="url(#g10)"/>
<circle cx="70.5" cy="158.5" r="2.75" fill="url(#g19)"/>
<circle cx="245.0" cy="86.7" r="2.75" fill="url(#g1)"/>
<circle cx="214.6" cy="162.8" r="2.75" fill="url(#g6)"/>
<circle cx="242.5" cy="133.4" r="2.75" fill="url(#g7)"/>
<circle cx="146.0" cy="156.0" r="2.75" fill="url(#g3)"/>
<circle cx="176.3" cy="175.7" r="2.75" fill="url(#g21)"/>
<circle cx="256.9" cy="55.6" r="2.75" fill="url(#g4)"/>
<circle cx="262.5" cy="83.5" r="2.75" fill="url(#g17)"/>
<circle cx="99.2" cy="157.2" r="2.75" fill="url(#g23)"/>
<circle cx="220.3" cy="128.2" r="2.75" fill="url(#g6)"/>
<circle cx="86.8" cy="177.6" r="2.75" fill="url(#g9)"/>
<circle cx="265.5" cy="70.8" r="2.75" fill="url(#g0)"/>
<circle cx="262.9" cy="139.8" r="2.75" fill="url(#g17)"/>
<circle cx="95.4" cy="144.3" r="2.75" fill="url(#g10)"/>
<circle cx="96.1" cy="169.7" r="2.75" fill="url(#g10)"/>
<circle cx="242.5" cy="148.0" r="2.75" fill="url(#g7)"/>
<circle cx="261.0" cy="133.8" r="2.75" fill="url(#g11)"/>
<circle cx="223.9" cy="158.4" r="2.75" fill="url(#g27)"/>
<circle cx="139.0" cy="180.1" r="2.75" fill="url(#g20)"/>
<circle cx="219.4" cy="140.8" r="2.75" fill="url(#g6)"/>
<circle cx="257.9" cy="73.3" r="2.75" fill="url(#g14)"/>
<circle cx="265.8" cy="104.0" r="2.75" fill="url(#g43)"/>
<circle cx="216.6" cy="153.5" r="2.75" fill="url(#g6)"/>
<circle cx="137.0" cy="167.8" r="2.75" fill="url(#g20)"/>
<circle cx="95.3" cy="154.1" r="2.75" fill="url(#g10)"/>
<circle cx="75.9" cy="166.1" r="2.75" fill="url(#g44)"/>
<circle cx="186.0" cy="173.6" r="2.75" fill="url(#g24)"/>
<circle cx="88.3" cy="166.3" r="2.75" fill="url(#g9)"/>
<circle cx="83.6" cy="144.0" r="2.75" fill="url(#g9)"/>
<circle cx="80.5" cy="146.1" r="2.75" fill="url(#g12)"/>
<circle cx="247.5" cy="62.9" r="2.75" fill="url(#g1)"/>
<circle cx="83.3" cy="163.3" r="2.75" fill="url(#g9)"/>
<circle cx="176.5" cy="171.4" r="2.75" fill="url(#g21)"/>
<circle cx="251.7" cy="73.3" r="2.75" fill="url(#g5)"/>
<circle cx="265.7" cy="94.5" r="2.75" fill="url(#g43)"/>
<circle cx="240.4" cy="183.5" r="2.75" fill="url(#g7)"/>
<circle cx="211.9" cy="144.6" r="2.75" fill="url(#g28)"/>
<circle cx="245.2" cy="80.7" r="2.75" fill="url(#g1)"/>
<circle cx="265.8" cy="142.4" r="2.75" fill="url(#g43)"/>
<circle cx="240.5" cy="160.1" r="2.75" fill="url(#g7)"/>
<circle cx="239.2" cy="168.6" r="2.75" fill="url(#g7)"/>
<circle cx="136.0" cy="180.5" r="2.75" fill="url(#g26)"/>
<circle cx="79.3" cy="167.3" r="2.75" fill="url(#g12)"/>
<circle cx="218.3" cy="159.2" r="2.75" fill="url(#g6)"/>
<circle cx="179.2" cy="155.3" r="2.75" fill="url(#g21)"/>
<circle cx="242.4" cy="81.3" r="2.75" fill="url(#g7)"/>
<circle cx="169.1" cy="158.1" r="2.75" fill="url(#g8)"/>
<circle cx="175.9" cy="158.9" r="2.75" fill="url(#g21)"/>
<circle cx="214.3" cy="177.2" r="2.75" fill="url(#g6)"/>
<circle cx="121.0" cy="154.2" r="2.75" fill="url(#g13)"/>
<circle cx="126.1" cy="156.7" r="2.75" fill="url(#g29)"/>
<circle cx="134.0" cy="161.2" r="2.75" fill="url(#g26)"/>
<circle cx="247.5" cy="73.3" r="2.75" fill="url(#g1)"/>
<circle cx="243.3" cy="97.3" r="2.75" fill="url(#g7)"/>
<circle cx="124.4" cy="164.4" r="2.75" fill="url(#g16)"/>
<circle cx="262.1" cy="91.0" r="2.75" fill="url(#g17)"/>
<circle cx="89.4" cy="178.8" r="2.75" fill="url(#g9)"/>
<circle cx="245.2" cy="115.2" r="2.75" fill="url(#g1)"/>
<circle cx="243.3" cy="117.1" r="2.75" fill="url(#g7)"/>
<circle cx="172.2" cy="177.5" r="2.75" fill="url(#g8)"/>
<circle cx="222.3" cy="147.7" r="2.75" fill="url(#g6)"/>
<circle cx="131.7" cy="163.3" r="2.75" fill="url(#g26)"/>
<circle cx="135.5" cy="158.4" r="2.75" fill="url(#g26)"/>
<circle cx="215.0" cy="148.9" r="2.75" fill="url(#g6)"/>
<circle cx="175.3" cy="143.0" r="2.75" fill="url(#g21)"/>
<circle cx="261.0" cy="143.1" r="2.75" fill="url(#g11)"/>
<circle cx="72.3" cy="161.0" r="2.75" fill="url(#g15)"/>
<circle cx="211.6" cy="148.0" r="2.75" fill="url(#g28)"/>
<circle cx="142.3" cy="160.7" r="2.75" fill="url(#g20)"/>
<circle cx="259.5" cy="98.6" r="2.75" fill="url(#g14)"/>
<circle cx="244.4" cy="82.7" r="2.75" fill="url(#g7)"/>
<circle cx="63.0" cy="165.3" r="2.75" fill="url(#g32)"/>
<circle cx="216.5" cy="139.7" r="2.75" fill="url(#g6)"/>
<circle cx="215.3" cy="128.7" r="2.75" fill="url(#g6)"/>
<circle cx="262.1" cy="137.9" r="2.75" fill="url(#g17)"/>
<circle cx="172.4" cy="172.2" r="2.75" fill="url(#g8)"/>
<circle cx="85.8" cy="147.5" r="2.75" fill="url(#g9)"/>
<circle cx="241.5" cy="159.9" r="2.75" fill="url(#g7)"/>
<circle cx="260.0" cy="96.3" r="2.75" fill="url(#g45)"/>
<circle cx="89.2" cy="148.8" r="2.75" fill="url(#g9)"/>
<circle cx="237.2" cy="183.5" r="2.75" fill="url(#g7)"/>
<circle cx="78.7" cy="159.7" r="2.75" fill="url(#g12)"/>
<circle cx="178.1" cy="144.2" r="2.75" fill="url(#g21)"/>
<circle cx="263.1" cy="79.6" r="2.75" fill="url(#g17)"/>
<circle cx="265.5" cy="104.5" r="2.75" fill="url(#g0)"/>
<circle cx="139.5" cy="168.8" r="2.75" fill="url(#g20)"/>
<circle cx="242.4" cy="105.4" r="2.75" fill="url(#g7)"/>
<circle cx="247.7" cy="94.7" r="2.75" fill="url(#g1)"/>
<circle cx="63.8" cy="174.7" r="2.75" fill="url(#g32)"/>
<circle cx="145.0" cy="194.3" r="2.75" fill="url(#g3)"/>
<circle cx="220.9" cy="153.8" r="2.75" fill="url(#g6)"/>
<circle cx="101.0" cy="161.0" r="2.75" fill="url(#g18)"/>
<circle cx="241.8" cy="164.8" r="2.75" fill="url(#g7)"/>
<circle cx="216.8" cy="133.5" r="2.75" fill="url(#g6)"/>
<circle cx="141.5" cy="186.6" r="2.75" fill="url(#g20)"/>
<circle cx="221.6" cy="151.2" r="2.75" fill="url(#g6)"/>
<circle cx="177.8" cy="179.3" r="2.75" fill="url(#g21)"/>
<line x1="51.0" y1="155.9" x2="286.0" y2="155.9" stroke="#dc2c3c" stroke-width="1.25" stroke-dasharray="2.6 1.7"/>
<rect x="51.0" y="30.0" width="235.0" height="188.7" fill="none" stroke="#6e6e6e" stroke-width="1.7"/>
<line x1="77.5" y1="218.7" x2="77.5" y2="222.3" stroke="#333" stroke-width="1.1"/>
<text transform="translate(77.5 232.9) scale(1 1.06)" text-anchor="middle" class="tk">−10</text>
<line x1="129.5" y1="218.7" x2="129.5" y2="222.3" stroke="#333" stroke-width="1.1"/>
<text transform="translate(129.5 232.9) scale(1 1.06)" text-anchor="middle" class="tk">0</text>
<line x1="181.5" y1="218.7" x2="181.5" y2="222.3" stroke="#333" stroke-width="1.1"/>
<text transform="translate(181.5 232.9) scale(1 1.06)" text-anchor="middle" class="tk">10</text>
<line x1="233.5" y1="218.7" x2="233.5" y2="222.3" stroke="#333" stroke-width="1.1"/>
<text transform="translate(233.5 232.9) scale(1 1.06)" text-anchor="middle" class="tk">20</text>
<line x1="285.5" y1="218.7" x2="285.5" y2="222.3" stroke="#333" stroke-width="1.1"/>
<text transform="translate(285.5 232.9) scale(1 1.06)" text-anchor="middle" class="tk">30</text>
<line x1="47.4" y1="30.0" x2="51.0" y2="30.0" stroke="#333" stroke-width="1.1"/>
<text transform="translate(44.5 33.2) scale(1 1.06)" text-anchor="end" class="tk">1.6</text>
<line x1="47.4" y1="61.5" x2="51.0" y2="61.5" stroke="#333" stroke-width="1.1"/>
<text transform="translate(44.5 64.7) scale(1 1.06)" text-anchor="end" class="tk">1.2</text>
<line x1="47.4" y1="93.0" x2="51.0" y2="93.0" stroke="#333" stroke-width="1.1"/>
<text transform="translate(44.5 96.2) scale(1 1.06)" text-anchor="end" class="tk">0.8</text>
<line x1="47.4" y1="124.4" x2="51.0" y2="124.4" stroke="#333" stroke-width="1.1"/>
<text transform="translate(44.5 127.6) scale(1 1.06)" text-anchor="end" class="tk">0.4</text>
<line x1="47.4" y1="155.9" x2="51.0" y2="155.9" stroke="#333" stroke-width="1.1"/>
<text transform="translate(44.5 159.1) scale(1 1.06)" text-anchor="end" class="tk">0.0</text>
<line x1="47.4" y1="187.4" x2="51.0" y2="187.4" stroke="#333" stroke-width="1.1"/>
<text transform="translate(44.5 190.6) scale(1 1.06)" text-anchor="end" class="tk">−0.4</text>
<line x1="47.4" y1="218.8" x2="51.0" y2="218.8" stroke="#333" stroke-width="1.1"/>
<text transform="translate(44.5 222.0) scale(1 1.06)" text-anchor="end" class="tk">−0.8</text>
<rect x="299.7" y="31.3" width="10.6" height="189.1" fill="url(#cbg)" stroke="#2a2a2a" stroke-opacity="0.45" stroke-width="0.7"/>
<line x1="310.3" y1="31.3" x2="313.8" y2="31.3" stroke="#555" stroke-width="1"/>
<text transform="translate(317.6 34.7) scale(1 1.06)" class="tk">30.0</text>
<line x1="310.3" y1="52.3" x2="313.8" y2="52.3" stroke="#555" stroke-width="1"/>
<text transform="translate(317.6 55.7) scale(1 1.06)" class="tk">25.0</text>
<line x1="310.3" y1="73.3" x2="313.8" y2="73.3" stroke="#555" stroke-width="1"/>
<text transform="translate(317.6 76.7) scale(1 1.06)" class="tk">20.0</text>
<line x1="310.3" y1="94.3" x2="313.8" y2="94.3" stroke="#555" stroke-width="1"/>
<text transform="translate(317.6 97.7) scale(1 1.06)" class="tk">15.0</text>
<line x1="310.3" y1="115.3" x2="313.8" y2="115.3" stroke="#555" stroke-width="1"/>
<text transform="translate(317.6 118.7) scale(1 1.06)" class="tk">10.0</text>
<line x1="310.3" y1="136.4" x2="313.8" y2="136.4" stroke="#555" stroke-width="1"/>
<text transform="translate(317.6 139.8) scale(1 1.06)" class="tk">5.0</text>
<line x1="310.3" y1="157.4" x2="313.8" y2="157.4" stroke="#555" stroke-width="1"/>
<text transform="translate(317.6 160.8) scale(1 1.06)" class="tk">0.0</text>
<line x1="310.3" y1="178.4" x2="313.8" y2="178.4" stroke="#555" stroke-width="1"/>
<text transform="translate(317.6 181.8) scale(1 1.06)" class="tk">−5.0</text>
<line x1="310.3" y1="199.4" x2="313.8" y2="199.4" stroke="#555" stroke-width="1"/>
<text transform="translate(317.6 202.8) scale(1 1.06)" class="tk">−10.0</text>
<line x1="310.3" y1="220.4" x2="313.8" y2="220.4" stroke="#555" stroke-width="1"/>
<text transform="translate(317.6 223.8) scale(1 1.06)" class="tk">−15.0</text>
<text x="261.9" y="19.3" class="b" style="font-size:11.8px" textLength="96.7" lengthAdjust="spacingAndGlyphs">Temperature(<tspan class="deg">°C</tspan>)</text>
<text x="49.1" y="22.3" class="b" style="font-size:17px">(a)</text>
<text x="119.6" y="251.9" class="b" style="font-size:12.2px" textLength="98.1" lengthAdjust="spacingAndGlyphs">Temperature (<tspan class="deg">°C</tspan>)</text>
<text transform="translate(20.3 120.6) rotate(-90)" x="-55" class="b" style="font-size:17.9px" textLength="110" lengthAdjust="spacingAndGlyphs">SHAP Values</text>
<circle cx="445.4" cy="119.4" r="2.75" fill="url(#g46)"/>
<circle cx="498.6" cy="160.8" r="2.75" fill="url(#g47)"/>
<circle cx="553.2" cy="119.5" r="2.75" fill="url(#g48)"/>
<circle cx="480.9" cy="140.0" r="2.75" fill="url(#g49)"/>
<circle cx="475.7" cy="118.7" r="2.75" fill="url(#g50)"/>
<circle cx="542.8" cy="132.2" r="2.75" fill="url(#g51)"/>
<circle cx="504.8" cy="164.0" r="2.75" fill="url(#g52)"/>
<circle cx="524.7" cy="136.7" r="2.75" fill="url(#g53)"/>
<circle cx="544.0" cy="142.6" r="2.75" fill="url(#g54)"/>
<circle cx="448.2" cy="119.4" r="2.75" fill="url(#g55)"/>
<circle cx="469.4" cy="157.7" r="2.75" fill="url(#g56)"/>
<circle cx="524.8" cy="150.1" r="2.75" fill="url(#g53)"/>
<circle cx="462.5" cy="142.3" r="2.75" fill="url(#g30)"/>
<circle cx="582.6" cy="94.8" r="2.75" fill="url(#g57)"/>
<circle cx="453.6" cy="134.6" r="2.75" fill="url(#g58)"/>
<circle cx="503.4" cy="138.7" r="2.75" fill="url(#g52)"/>
<circle cx="523.4" cy="145.9" r="2.75" fill="url(#g53)"/>
<circle cx="506.0" cy="143.4" r="2.75" fill="url(#g59)"/>
<circle cx="502.0" cy="154.6" r="2.75" fill="url(#g52)"/>
<circle cx="494.2" cy="144.7" r="2.75" fill="url(#g60)"/>
<circle cx="451.2" cy="150.1" r="2.75" fill="url(#g61)"/>
<circle cx="527.6" cy="135.1" r="2.75" fill="url(#g62)"/>
<circle cx="485.0" cy="159.4" r="2.75" fill="url(#g63)"/>
<circle cx="470.1" cy="145.6" r="2.75" fill="url(#g56)"/>
<circle cx="486.6" cy="130.1" r="2.75" fill="url(#g64)"/>
<circle cx="470.4" cy="179.5" r="2.75" fill="url(#g56)"/>
<circle cx="455.9" cy="141.0" r="2.75" fill="url(#g65)"/>
<circle cx="463.4" cy="161.7" r="2.75" fill="url(#g30)"/>
<circle cx="444.2" cy="146.9" r="2.75" fill="url(#g46)"/>
<circle cx="566.5" cy="85.1" r="2.75" fill="url(#g66)"/>
<circle cx="549.0" cy="129.1" r="2.75" fill="url(#g67)"/>
<circle cx="462.8" cy="157.8" r="2.75" fill="url(#g30)"/>
<circle cx="614.2" cy="99.1" r="2.75" fill="url(#g17)"/>
<circle cx="499.4" cy="139.6" r="2.75" fill="url(#g47)"/>
<circle cx="497.7" cy="136.8" r="2.75" fill="url(#g47)"/>
<circle cx="525.8" cy="125.0" r="2.75" fill="url(#g68)"/>
<circle cx="440.4" cy="124.8" r="2.75" fill="url(#g46)"/>
<circle cx="488.5" cy="137.6" r="2.75" fill="url(#g20)"/>
<circle cx="485.4" cy="145.4" r="2.75" fill="url(#g63)"/>
<circle cx="614.2" cy="81.2" r="2.75" fill="url(#g17)"/>
<circle cx="519.0" cy="147.1" r="2.75" fill="url(#g69)"/>
<circle cx="554.2" cy="140.4" r="2.75" fill="url(#g70)"/>
<circle cx="556.3" cy="111.9" r="2.75" fill="url(#g71)"/>
<circle cx="474.7" cy="156.7" r="2.75" fill="url(#g50)"/>
<circle cx="453.0" cy="125.6" r="2.75" fill="url(#g72)"/>
<circle cx="532.3" cy="143.5" r="2.75" fill="url(#g73)"/>
<circle cx="481.7" cy="145.7" r="2.75" fill="url(#g74)"/>
<circle cx="489.3" cy="124.2" r="2.75" fill="url(#g20)"/>
<circle cx="450.2" cy="133.1" r="2.75" fill="url(#g55)"/>
<circle cx="528.9" cy="115.5" r="2.75" fill="url(#g62)"/>
<circle cx="447.9" cy="137.3" r="2.75" fill="url(#g55)"/>
<circle cx="529.3" cy="143.7" r="2.75" fill="url(#g75)"/>
<circle cx="461.7" cy="133.0" r="2.75" fill="url(#g76)"/>
<circle cx="465.0" cy="140.3" r="2.75" fill="url(#g77)"/>
<circle cx="574.0" cy="100.0" r="2.75" fill="url(#g78)"/>
<circle cx="448.1" cy="151.2" r="2.75" fill="url(#g55)"/>
<circle cx="456.9" cy="137.0" r="2.75" fill="url(#g65)"/>
<circle cx="472.7" cy="137.3" r="2.75" fill="url(#g79)"/>
<circle cx="538.1" cy="153.9" r="2.75" fill="url(#g80)"/>
<circle cx="557.5" cy="103.2" r="2.75" fill="url(#g81)"/>
<circle cx="596.4" cy="95.4" r="2.75" fill="url(#g82)"/>
<circle cx="471.0" cy="154.7" r="2.75" fill="url(#g79)"/>
<circle cx="414.8" cy="122.8" r="2.75" fill="url(#g83)"/>
<circle cx="532.4" cy="137.3" r="2.75" fill="url(#g73)"/>
<circle cx="462.5" cy="125.5" r="2.75" fill="url(#g30)"/>
<circle cx="544.9" cy="156.7" r="2.75" fill="url(#g54)"/>
<circle cx="598.0" cy="74.0" r="2.75" fill="url(#g84)"/>
<circle cx="510.7" cy="161.3" r="2.75" fill="url(#g59)"/>
<circle cx="450.2" cy="126.3" r="2.75" fill="url(#g55)"/>
<circle cx="472.9" cy="148.4" r="2.75" fill="url(#g79)"/>
<circle cx="473.6" cy="132.9" r="2.75" fill="url(#g79)"/>
<circle cx="456.5" cy="148.9" r="2.75" fill="url(#g65)"/>
<circle cx="456.0" cy="127.1" r="2.75" fill="url(#g65)"/>
<circle cx="448.8" cy="117.2" r="2.75" fill="url(#g55)"/>
<circle cx="519.5" cy="143.4" r="2.75" fill="url(#g85)"/>
<circle cx="518.1" cy="137.3" r="2.75" fill="url(#g69)"/>
<circle cx="567.1" cy="116.7" r="2.75" fill="url(#g66)"/>
<circle cx="485.9" cy="123.8" r="2.75" fill="url(#g64)"/>
<circle cx="594.7" cy="116.8" r="2.75" fill="url(#g82)"/>
<circle cx="578.5" cy="106.5" r="2.75" fill="url(#g57)"/>
<circle cx="509.6" cy="142.8" r="2.75" fill="url(#g59)"/>
<circle cx="490.2" cy="166.5" r="2.75" fill="url(#g3)"/>
<circle cx="468.1" cy="149.0" r="2.75" fill="url(#g56)"/>
<circle cx="592.9" cy="117.1" r="2.75" fill="url(#g82)"/>
<circle cx="531.8" cy="114.6" r="2.75" fill="url(#g73)"/>
<circle cx="551.2" cy="135.3" r="2.75" fill="url(#g86)"/>
<circle cx="576.6" cy="62.4" r="2.75" fill="url(#g87)"/>
<circle cx="592.1" cy="123.6" r="2.75" fill="url(#g88)"/>
<circle cx="591.0" cy="114.0" r="2.75" fill="url(#g88)"/>
<circle cx="452.2" cy="144.9" r="2.75" fill="url(#g61)"/>
<circle cx="446.6" cy="129.3" r="2.75" fill="url(#g89)"/>
<circle cx="449.8" cy="147.4" r="2.75" fill="url(#g55)"/>
<circle cx="443.0" cy="143.7" r="2.75" fill="url(#g46)"/>
<circle cx="459.5" cy="140.5" r="2.75" fill="url(#g76)"/>
<circle cx="522.3" cy="134.7" r="2.75" fill="url(#g90)"/>
<circle cx="460.4" cy="136.7" r="2.75" fill="url(#g76)"/>
<circle cx="472.3" cy="123.0" r="2.75" fill="url(#g79)"/>
<circle cx="440.7" cy="137.3" r="2.75" fill="url(#g46)"/>
<circle cx="554.4" cy="150.8" r="2.75" fill="url(#g70)"/>
<circle cx="607.9" cy="80.3" r="2.75" fill="url(#g91)"/>
<circle cx="552.7" cy="113.8" r="2.75" fill="url(#g92)"/>
<circle cx="458.1" cy="151.8" r="2.75" fill="url(#g76)"/>
<circle cx="555.2" cy="129.3" r="2.75" fill="url(#g71)"/>
<circle cx="484.1" cy="141.5" r="2.75" fill="url(#g93)"/>
<circle cx="488.7" cy="160.1" r="2.75" fill="url(#g20)"/>
<circle cx="492.7" cy="129.9" r="2.75" fill="url(#g94)"/>
<circle cx="568.6" cy="93.3" r="2.75" fill="url(#g95)"/>
<circle cx="466.0" cy="128.8" r="2.75" fill="url(#g77)"/>
<circle cx="459.8" cy="115.6" r="2.75" fill="url(#g76)"/>
<circle cx="561.6" cy="95.4" r="2.75" fill="url(#g96)"/>
<circle cx="481.3" cy="161.9" r="2.75" fill="url(#g74)"/>
<circle cx="602.3" cy="68.3" r="2.75" fill="url(#g97)"/>
<circle cx="484.6" cy="136.3" r="2.75" fill="url(#g63)"/>
<circle cx="530.2" cy="150.5" r="2.75" fill="url(#g75)"/>
<circle cx="463.4" cy="145.9" r="2.75" fill="url(#g30)"/>
<circle cx="408.0" cy="125.2" r="2.75" fill="url(#g98)"/>
<circle cx="475.3" cy="123.3" r="2.75" fill="url(#g50)"/>
<circle cx="599.7" cy="46.1" r="2.75" fill="url(#g84)"/>
<circle cx="555.5" cy="137.3" r="2.75" fill="url(#g71)"/>
<circle cx="456.1" cy="130.5" r="2.75" fill="url(#g65)"/>
<circle cx="478.0" cy="168.0" r="2.75" fill="url(#g99)"/>
<circle cx="589.4" cy="106.8" r="2.75" fill="url(#g88)"/>
<circle cx="470.8" cy="171.0" r="2.75" fill="url(#g79)"/>
<circle cx="464.4" cy="131.2" r="2.75" fill="url(#g77)"/>
<circle cx="421.6" cy="127.7" r="2.75" fill="url(#g100)"/>
<circle cx="509.7" cy="139.4" r="2.75" fill="url(#g59)"/>
<circle cx="612.5" cy="97.4" r="2.75" fill="url(#g101)"/>
<circle cx="475.5" cy="135.5" r="2.75" fill="url(#g50)"/>
<circle cx="503.8" cy="158.5" r="2.75" fill="url(#g52)"/>
<circle cx="500.1" cy="146.1" r="2.75" fill="url(#g52)"/>
<circle cx="449.0" cy="130.5" r="2.75" fill="url(#g55)"/>
<circle cx="540.0" cy="159.0" r="2.75" fill="url(#g51)"/>
<circle cx="452.8" cy="137.3" r="2.75" fill="url(#g72)"/>
<circle cx="544.7" cy="126.2" r="2.75" fill="url(#g54)"/>
<circle cx="477.0" cy="154.2" r="2.75" fill="url(#g99)"/>
<circle cx="572.5" cy="81.7" r="2.75" fill="url(#g102)"/>
<circle cx="614.2" cy="112.8" r="2.75" fill="url(#g17)"/>
<circle cx="600.4" cy="130.0" r="2.75" fill="url(#g103)"/>
<circle cx="523.5" cy="129.3" r="2.75" fill="url(#g53)"/>
<circle cx="503.0" cy="168.0" r="2.75" fill="url(#g52)"/>
<circle cx="484.1" cy="150.1" r="2.75" fill="url(#g93)"/>
<circle cx="447.7" cy="142.5" r="2.75" fill="url(#g89)"/>
<circle cx="551.5" cy="145.8" r="2.75" fill="url(#g86)"/>
<circle cx="491.6" cy="127.0" r="2.75" fill="url(#g104)"/>
<circle cx="559.9" cy="112.5" r="2.75" fill="url(#g96)"/>
<circle cx="444.1" cy="141.2" r="2.75" fill="url(#g46)"/>
<circle cx="422.2" cy="132.0" r="2.75" fill="url(#g100)"/>
<circle cx="482.6" cy="154.6" r="2.75" fill="url(#g105)"/>
<circle cx="485.6" cy="121.7" r="2.75" fill="url(#g64)"/>
<circle cx="569.6" cy="104.3" r="2.75" fill="url(#g106)"/>
<circle cx="478.9" cy="125.3" r="2.75" fill="url(#g107)"/>
<circle cx="444.6" cy="131.8" r="2.75" fill="url(#g46)"/>
<circle cx="476.7" cy="127.3" r="2.75" fill="url(#g50)"/>
<circle cx="558.6" cy="137.0" r="2.75" fill="url(#g81)"/>
<circle cx="466.2" cy="158.7" r="2.75" fill="url(#g77)"/>
<circle cx="551.7" cy="142.5" r="2.75" fill="url(#g86)"/>
<circle cx="592.0" cy="88.8" r="2.75" fill="url(#g88)"/>
<circle cx="470.4" cy="167.0" r="2.75" fill="url(#g56)"/>
<circle cx="542.4" cy="140.1" r="2.75" fill="url(#g51)"/>
<circle cx="487.9" cy="140.8" r="2.75" fill="url(#g108)"/>
<circle cx="503.8" cy="145.8" r="2.75" fill="url(#g52)"/>
<circle cx="459.1" cy="155.1" r="2.75" fill="url(#g76)"/>
<circle cx="592.0" cy="123.0" r="2.75" fill="url(#g88)"/>
<circle cx="534.2" cy="141.1" r="2.75" fill="url(#g109)"/>
<circle cx="584.3" cy="67.8" r="2.75" fill="url(#g110)"/>
<circle cx="409.9" cy="120.7" r="2.75" fill="url(#g111)"/>
<circle cx="460.8" cy="160.3" r="2.75" fill="url(#g76)"/>
<circle cx="434.6" cy="120.9" r="2.75" fill="url(#g112)"/>
<circle cx="530.3" cy="108.5" r="2.75" fill="url(#g75)"/>
<circle cx="565.0" cy="107.1" r="2.75" fill="url(#g113)"/>
<circle cx="559.6" cy="116.9" r="2.75" fill="url(#g96)"/>
<circle cx="490.3" cy="145.0" r="2.75" fill="url(#g3)"/>
<circle cx="447.3" cy="125.6" r="2.75" fill="url(#g89)"/>
<circle cx="575.0" cy="114.2" r="2.75" fill="url(#g78)"/>
<circle cx="525.6" cy="132.4" r="2.75" fill="url(#g68)"/>
<circle cx="482.0" cy="158.9" r="2.75" fill="url(#g74)"/>
<circle cx="440.5" cy="127.9" r="2.75" fill="url(#g46)"/>
<circle cx="568.0" cy="96.7" r="2.75" fill="url(#g114)"/>
<circle cx="556.7" cy="143.1" r="2.75" fill="url(#g81)"/>
<circle cx="587.9" cy="100.5" r="2.75" fill="url(#g115)"/>
<circle cx="584.4" cy="96.2" r="2.75" fill="url(#g110)"/>
<circle cx="443.9" cy="125.4" r="2.75" fill="url(#g46)"/>
<circle cx="574.1" cy="62.4" r="2.75" fill="url(#g78)"/>
<circle cx="466.7" cy="155.3" r="2.75" fill="url(#g56)"/>
<circle cx="558.4" cy="107.3" r="2.75" fill="url(#g81)"/>
<circle cx="443.0" cy="122.4" r="2.75" fill="url(#g46)"/>
<circle cx="559.7" cy="158.6" r="2.75" fill="url(#g96)"/>
<circle cx="531.3" cy="125.4" r="2.75" fill="url(#g73)"/>
<circle cx="604.0" cy="65.4" r="2.75" fill="url(#g116)"/>
<circle cx="599.0" cy="134.7" r="2.75" fill="url(#g84)"/>
<circle cx="559.3" cy="147.3" r="2.75" fill="url(#g96)"/>
<circle cx="541.5" cy="125.1" r="2.75" fill="url(#g51)"/>
<circle cx="569.0" cy="99.8" r="2.75" fill="url(#g95)"/>
<circle cx="568.9" cy="89.8" r="2.75" fill="url(#g95)"/>
<circle cx="529.4" cy="121.1" r="2.75" fill="url(#g75)"/>
<circle cx="491.0" cy="149.0" r="2.75" fill="url(#g117)"/>
<circle cx="532.0" cy="122.4" r="2.75" fill="url(#g73)"/>
<circle cx="580.0" cy="90.0" r="2.75" fill="url(#g57)"/>
<circle cx="579.0" cy="119.0" r="2.75" fill="url(#g57)"/>
<circle cx="558.8" cy="140.2" r="2.75" fill="url(#g81)"/>
<circle cx="473.1" cy="125.8" r="2.75" fill="url(#g79)"/>
<circle cx="551.9" cy="127.9" r="2.75" fill="url(#g86)"/>
<circle cx="543.1" cy="129.2" r="2.75" fill="url(#g118)"/>
<circle cx="516.7" cy="142.2" r="2.75" fill="url(#g119)"/>
<circle cx="529.2" cy="137.6" r="2.75" fill="url(#g75)"/>
<circle cx="537.8" cy="124.8" r="2.75" fill="url(#g80)"/>
<circle cx="500.8" cy="162.8" r="2.75" fill="url(#g52)"/>
<circle cx="467.3" cy="137.9" r="2.75" fill="url(#g56)"/>
<circle cx="484.2" cy="131.9" r="2.75" fill="url(#g93)"/>
<circle cx="593.7" cy="71.8" r="2.75" fill="url(#g82)"/>
<circle cx="596.3" cy="94.8" r="2.75" fill="url(#g82)"/>
<circle cx="493.0" cy="154.0" r="2.75" fill="url(#g94)"/>
<circle cx="586.0" cy="96.5" r="2.75" fill="url(#g110)"/>
<circle cx="449.3" cy="144.7" r="2.75" fill="url(#g55)"/>
<circle cx="576.8" cy="94.5" r="2.75" fill="url(#g87)"/>
<circle cx="541.7" cy="153.6" r="2.75" fill="url(#g51)"/>
<circle cx="571.3" cy="109.5" r="2.75" fill="url(#g120)"/>
<circle cx="420.0" cy="123.0" r="2.75" fill="url(#g100)"/>
<circle cx="490.7" cy="134.3" r="2.75" fill="url(#g117)"/>
<circle cx="614.2" cy="90.0" r="2.75" fill="url(#g17)"/>
<circle cx="493.1" cy="132.7" r="2.75" fill="url(#g94)"/>
<circle cx="417.3" cy="119.7" r="2.75" fill="url(#g100)"/>
<circle cx="579.0" cy="82.6" r="2.75" fill="url(#g57)"/>
<circle cx="465.8" cy="135.0" r="2.75" fill="url(#g77)"/>
<circle cx="552.1" cy="123.3" r="2.75" fill="url(#g86)"/>
<circle cx="422.2" cy="120.9" r="2.75" fill="url(#g100)"/>
<circle cx="591.3" cy="85.1" r="2.75" fill="url(#g88)"/>
<circle cx="490.2" cy="118.7" r="2.75" fill="url(#g3)"/>
<circle cx="554.6" cy="109.3" r="2.75" fill="url(#g71)"/>
<circle cx="486.0" cy="162.2" r="2.75" fill="url(#g64)"/>
<circle cx="531.9" cy="131.4" r="2.75" fill="url(#g73)"/>
<circle cx="509.6" cy="153.2" r="2.75" fill="url(#g59)"/>
<circle cx="535.6" cy="148.1" r="2.75" fill="url(#g121)"/>
<circle cx="529.1" cy="147.8" r="2.75" fill="url(#g75)"/>
<circle cx="482.1" cy="126.7" r="2.75" fill="url(#g74)"/>
<circle cx="559.7" cy="150.1" r="2.75" fill="url(#g96)"/>
<circle cx="588.6" cy="101.7" r="2.75" fill="url(#g88)"/>
<circle cx="448.1" cy="149.9" r="2.75" fill="url(#g55)"/>
<circle cx="439.6" cy="134.4" r="2.75" fill="url(#g122)"/>
<circle cx="438.5" cy="113.5" r="2.75" fill="url(#g122)"/>
<circle cx="590.3" cy="112.8" r="2.75" fill="url(#g88)"/>
<circle cx="476.3" cy="159.9" r="2.75" fill="url(#g50)"/>
<circle cx="565.9" cy="90.3" r="2.75" fill="url(#g113)"/>
<circle cx="615.1" cy="108.5" r="2.75" fill="url(#g123)"/>
<circle cx="544.4" cy="147.0" r="2.75" fill="url(#g54)"/>
<circle cx="465.2" cy="143.5" r="2.75" fill="url(#g77)"/>
<circle cx="583.0" cy="110.0" r="2.75" fill="url(#g110)"/>
<circle cx="583.5" cy="64.9" r="2.75" fill="url(#g110)"/>
<circle cx="555.6" cy="147.5" r="2.75" fill="url(#g71)"/>
<circle cx="534.3" cy="138.0" r="2.75" fill="url(#g124)"/>
<circle cx="589.6" cy="107.4" r="2.75" fill="url(#g88)"/>
<circle cx="470.4" cy="175.0" r="2.75" fill="url(#g56)"/>
<circle cx="470.2" cy="139.6" r="2.75" fill="url(#g56)"/>
<circle cx="473.3" cy="151.8" r="2.75" fill="url(#g79)"/>
<circle cx="561.6" cy="106.9" r="2.75" fill="url(#g96)"/>
<circle cx="480.1" cy="142.7" r="2.75" fill="url(#g49)"/>
<circle cx="538.9" cy="134.8" r="2.75" fill="url(#g125)"/>
<circle cx="537.7" cy="138.5" r="2.75" fill="url(#g80)"/>
<circle cx="581.8" cy="84.6" r="2.75" fill="url(#g57)"/>
<circle cx="429.6" cy="113.5" r="2.75" fill="url(#g100)"/>
<circle cx="460.5" cy="145.2" r="2.75" fill="url(#g76)"/>
<circle cx="462.8" cy="167.3" r="2.75" fill="url(#g30)"/>
<circle cx="499.7" cy="156.6" r="2.75" fill="url(#g47)"/>
<circle cx="559.5" cy="99.2" r="2.75" fill="url(#g96)"/>
<circle cx="525.3" cy="142.4" r="2.75" fill="url(#g68)"/>
<circle cx="490.9" cy="156.2" r="2.75" fill="url(#g117)"/>
<circle cx="470.3" cy="134.7" r="2.75" fill="url(#g56)"/>
<circle cx="477.2" cy="132.7" r="2.75" fill="url(#g99)"/>
<circle cx="442.7" cy="134.4" r="2.75" fill="url(#g46)"/>
<circle cx="542.2" cy="136.6" r="2.75" fill="url(#g51)"/>
<circle cx="487.9" cy="153.0" r="2.75" fill="url(#g108)"/>
<circle cx="532.6" cy="146.4" r="2.75" fill="url(#g73)"/>
<circle cx="501.7" cy="141.7" r="2.75" fill="url(#g52)"/>
<circle cx="526.4" cy="145.0" r="2.75" fill="url(#g68)"/>
<circle cx="570.2" cy="113.0" r="2.75" fill="url(#g126)"/>
<circle cx="538.7" cy="128.0" r="2.75" fill="url(#g125)"/>
<circle cx="534.9" cy="145.0" r="2.75" fill="url(#g127)"/>
<circle cx="560.5" cy="120.9" r="2.75" fill="url(#g96)"/>
<circle cx="537.1" cy="143.2" r="2.75" fill="url(#g80)"/>
<circle cx="506.3" cy="147.8" r="2.75" fill="url(#g59)"/>
<circle cx="445.1" cy="138.6" r="2.75" fill="url(#g46)"/>
<circle cx="456.7" cy="134.2" r="2.75" fill="url(#g65)"/>
<circle cx="485.4" cy="156.5" r="2.75" fill="url(#g63)"/>
<circle cx="443.2" cy="128.4" r="2.75" fill="url(#g46)"/>
<circle cx="477.6" cy="162.9" r="2.75" fill="url(#g99)"/>
<circle cx="504.6" cy="171.0" r="2.75" fill="url(#g52)"/>
<circle cx="465.9" cy="126.0" r="2.75" fill="url(#g77)"/>
<circle cx="553.7" cy="151.8" r="2.75" fill="url(#g48)"/>
<circle cx="506.2" cy="140.5" r="2.75" fill="url(#g59)"/>
<circle cx="563.2" cy="98.1" r="2.75" fill="url(#g128)"/>
<circle cx="496.2" cy="142.2" r="2.75" fill="url(#g47)"/>
<circle cx="511.8" cy="157.2" r="2.75" fill="url(#g129)"/>
<circle cx="540.7" cy="143.8" r="2.75" fill="url(#g51)"/>
<circle cx="554.5" cy="132.6" r="2.75" fill="url(#g71)"/>
<circle cx="481.8" cy="133.9" r="2.75" fill="url(#g74)"/>
<circle cx="443.8" cy="118.5" r="2.75" fill="url(#g46)"/>
<circle cx="457.2" cy="145.1" r="2.75" fill="url(#g65)"/>
<circle cx="596.3" cy="76.9" r="2.75" fill="url(#g82)"/>
<circle cx="548.2" cy="133.8" r="2.75" fill="url(#g130)"/>
<circle cx="535.2" cy="127.6" r="2.75" fill="url(#g121)"/>
<circle cx="559.9" cy="134.0" r="2.75" fill="url(#g96)"/>
<circle cx="493.3" cy="150.8" r="2.75" fill="url(#g131)"/>
<circle cx="434.6" cy="112.5" r="2.75" fill="url(#g112)"/>
<circle cx="516.5" cy="145.8" r="2.75" fill="url(#g119)"/>
<circle cx="512.5" cy="149.1" r="2.75" fill="url(#g129)"/>
<circle cx="545.1" cy="135.8" r="2.75" fill="url(#g54)"/>
<circle cx="531.1" cy="104.3" r="2.75" fill="url(#g73)"/>
<circle cx="497.8" cy="152.7" r="2.75" fill="url(#g47)"/>
<circle cx="564.4" cy="118.7" r="2.75" fill="url(#g132)"/>
<circle cx="546.8" cy="139.0" r="2.75" fill="url(#g133)"/>
<circle cx="521.8" cy="150.5" r="2.75" fill="url(#g90)"/>
<circle cx="481.4" cy="151.2" r="2.75" fill="url(#g74)"/>
<circle cx="555.5" cy="124.0" r="2.75" fill="url(#g71)"/>
<circle cx="447.9" cy="122.1" r="2.75" fill="url(#g55)"/>
<circle cx="591.2" cy="84.6" r="2.75" fill="url(#g88)"/>
<circle cx="535.6" cy="134.2" r="2.75" fill="url(#g121)"/>
<circle cx="598.8" cy="58.9" r="2.75" fill="url(#g84)"/>
<circle cx="453.5" cy="131.1" r="2.75" fill="url(#g134)"/>
<circle cx="469.6" cy="111.1" r="2.75" fill="url(#g56)"/>
<circle cx="468.0" cy="152.6" r="2.75" fill="url(#g56)"/>
<circle cx="460.1" cy="128.2" r="2.75" fill="url(#g76)"/>
<circle cx="500.8" cy="149.6" r="2.75" fill="url(#g52)"/>
<circle cx="413.0" cy="120.3" r="2.75" fill="url(#g135)"/>
<circle cx="505.5" cy="178.7" r="2.75" fill="url(#g59)"/>
<circle cx="508.0" cy="163.7" r="2.75" fill="url(#g59)"/>
<circle cx="565.2" cy="113.2" r="2.75" fill="url(#g113)"/>
<circle cx="472.4" cy="129.5" r="2.75" fill="url(#g79)"/>
<circle cx="440.8" cy="140.4" r="2.75" fill="url(#g46)"/>
<circle cx="538.2" cy="150.5" r="2.75" fill="url(#g80)"/>
<circle cx="451.5" cy="129.3" r="2.75" fill="url(#g61)"/>
<circle cx="534.5" cy="131.3" r="2.75" fill="url(#g136)"/>
<circle cx="469.9" cy="126.5" r="2.75" fill="url(#g56)"/>
<circle cx="451.4" cy="152.1" r="2.75" fill="url(#g61)"/>
<circle cx="506.7" cy="153.9" r="2.75" fill="url(#g59)"/>
<circle cx="555.7" cy="116.2" r="2.75" fill="url(#g71)"/>
<circle cx="559.8" cy="124.4" r="2.75" fill="url(#g96)"/>
<circle cx="474.5" cy="142.1" r="2.75" fill="url(#g79)"/>
<circle cx="545.4" cy="139.0" r="2.75" fill="url(#g54)"/>
<circle cx="453.0" cy="141.5" r="2.75" fill="url(#g72)"/>
<circle cx="447.1" cy="146.8" r="2.75" fill="url(#g89)"/>
<circle cx="547.3" cy="144.3" r="2.75" fill="url(#g130)"/>
<circle cx="562.4" cy="103.8" r="2.75" fill="url(#g128)"/>
<circle cx="469.2" cy="142.5" r="2.75" fill="url(#g56)"/>
<circle cx="565.7" cy="121.6" r="2.75" fill="url(#g113)"/>
<circle cx="586.2" cy="83.4" r="2.75" fill="url(#g110)"/>
<circle cx="508.0" cy="139.3" r="2.75" fill="url(#g59)"/>
<circle cx="461.3" cy="119.4" r="2.75" fill="url(#g76)"/>
<circle cx="429.6" cy="103.4" r="2.75" fill="url(#g100)"/>
<circle cx="479.2" cy="158.0" r="2.75" fill="url(#g107)"/>
<circle cx="530.7" cy="117.8" r="2.75" fill="url(#g75)"/>
<circle cx="503.7" cy="149.6" r="2.75" fill="url(#g52)"/>
<circle cx="531.0" cy="111.3" r="2.75" fill="url(#g75)"/>
<circle cx="452.2" cy="123.0" r="2.75" fill="url(#g61)"/>
<circle cx="575.7" cy="123.3" r="2.75" fill="url(#g78)"/>
<circle cx="463.3" cy="137.6" r="2.75" fill="url(#g30)"/>
<circle cx="561.2" cy="131.2" r="2.75" fill="url(#g96)"/>
<circle cx="480.9" cy="148.4" r="2.75" fill="url(#g49)"/>
<circle cx="458.9" cy="121.0" r="2.75" fill="url(#g76)"/>
<circle cx="476.8" cy="144.2" r="2.75" fill="url(#g50)"/>
<circle cx="419.5" cy="118.0" r="2.75" fill="url(#g100)"/>
<circle cx="526.5" cy="128.4" r="2.75" fill="url(#g68)"/>
<circle cx="566.1" cy="103.3" r="2.75" fill="url(#g113)"/>
<circle cx="463.0" cy="148.9" r="2.75" fill="url(#g30)"/>
<circle cx="586.0" cy="116.2" r="2.75" fill="url(#g110)"/>
<circle cx="492.4" cy="126.3" r="2.75" fill="url(#g94)"/>
<circle cx="543.4" cy="150.0" r="2.75" fill="url(#g54)"/>
<circle cx="475.0" cy="114.9" r="2.75" fill="url(#g50)"/>
<circle cx="600.6" cy="70.9" r="2.75" fill="url(#g137)"/>
<circle cx="583.5" cy="101.7" r="2.75" fill="url(#g110)"/>
<circle cx="527.5" cy="140.6" r="2.75" fill="url(#g62)"/>
<circle cx="463.0" cy="154.7" r="2.75" fill="url(#g30)"/>
<circle cx="529.1" cy="130.9" r="2.75" fill="url(#g75)"/>
<circle cx="487.8" cy="132.8" r="2.75" fill="url(#g108)"/>
<circle cx="530.6" cy="135.0" r="2.75" fill="url(#g75)"/>
<circle cx="476.9" cy="140.2" r="2.75" fill="url(#g50)"/>
<circle cx="595.4" cy="109.4" r="2.75" fill="url(#g82)"/>
<circle cx="451.9" cy="151.8" r="2.75" fill="url(#g61)"/>
<circle cx="479.5" cy="136.2" r="2.75" fill="url(#g107)"/>
<circle cx="581.0" cy="100.0" r="2.75" fill="url(#g57)"/>
<circle cx="576.8" cy="122.7" r="2.75" fill="url(#g87)"/>
<circle cx="494.0" cy="140.5" r="2.75" fill="url(#g131)"/>
<circle cx="488.7" cy="127.0" r="2.75" fill="url(#g20)"/>
<circle cx="539.6" cy="141.0" r="2.75" fill="url(#g125)"/>
<circle cx="491.2" cy="140.0" r="2.75" fill="url(#g138)"/>
<circle cx="451.0" cy="120.1" r="2.75" fill="url(#g55)"/>
<circle cx="556.4" cy="120.1" r="2.75" fill="url(#g71)"/>
<circle cx="474.3" cy="145.7" r="2.75" fill="url(#g79)"/>
<circle cx="417.9" cy="124.6" r="2.75" fill="url(#g100)"/>
<circle cx="472.1" cy="159.1" r="2.75" fill="url(#g79)"/>
<circle cx="509.2" cy="146.1" r="2.75" fill="url(#g59)"/>
<circle cx="540.3" cy="147.3" r="2.75" fill="url(#g51)"/>
<circle cx="565.2" cy="94.1" r="2.75" fill="url(#g113)"/>
<circle cx="585.1" cy="116.5" r="2.75" fill="url(#g110)"/>
<circle cx="422.8" cy="117.2" r="2.75" fill="url(#g100)"/>
<circle cx="488.0" cy="149.1" r="2.75" fill="url(#g108)"/>
<circle cx="493.3" cy="136.7" r="2.75" fill="url(#g131)"/>
<circle cx="440.2" cy="131.0" r="2.75" fill="url(#g122)"/>
<circle cx="512.6" cy="144.1" r="2.75" fill="url(#g129)"/>
<circle cx="500.4" cy="170.1" r="2.75" fill="url(#g52)"/>
<circle cx="496.0" cy="148.9" r="2.75" fill="url(#g47)"/>
<circle cx="563.0" cy="125.1" r="2.75" fill="url(#g128)"/>
<circle cx="457.9" cy="124.0" r="2.75" fill="url(#g65)"/>
<circle cx="507.0" cy="159.9" r="2.75" fill="url(#g59)"/>
<circle cx="464.3" cy="151.9" r="2.75" fill="url(#g30)"/>
<circle cx="496.6" cy="157.5" r="2.75" fill="url(#g47)"/>
<circle cx="478.2" cy="150.5" r="2.75" fill="url(#g99)"/>
<circle cx="521.4" cy="131.7" r="2.75" fill="url(#g90)"/>
<circle cx="447.7" cy="134.5" r="2.75" fill="url(#g89)"/>
<circle cx="585.3" cy="115.9" r="2.75" fill="url(#g110)"/>
<circle cx="521.6" cy="137.6" r="2.75" fill="url(#g90)"/>
<circle cx="469.1" cy="129.7" r="2.75" fill="url(#g56)"/>
<circle cx="485.2" cy="126.8" r="2.75" fill="url(#g63)"/>
<circle cx="579.2" cy="81.2" r="2.75" fill="url(#g57)"/>
<circle cx="560.3" cy="127.6" r="2.75" fill="url(#g96)"/>
<circle cx="457.7" cy="157.9" r="2.75" fill="url(#g65)"/>
<circle cx="586.9" cy="85.9" r="2.75" fill="url(#g110)"/>
<circle cx="573.3" cy="132.1" r="2.75" fill="url(#g139)"/>
<circle cx="450.0" cy="139.3" r="2.75" fill="url(#g55)"/>
<circle cx="586.0" cy="83.7" r="2.75" fill="url(#g110)"/>
<circle cx="538.5" cy="131.0" r="2.75" fill="url(#g80)"/>
<circle cx="534.5" cy="123.2" r="2.75" fill="url(#g136)"/>
<circle cx="416.0" cy="115.4" r="2.75" fill="url(#g100)"/>
<circle cx="531.8" cy="140.3" r="2.75" fill="url(#g73)"/>
<circle cx="495.9" cy="145.4" r="2.75" fill="url(#g47)"/>
<circle cx="453.0" cy="147.6" r="2.75" fill="url(#g72)"/>
<circle cx="509.0" cy="149.4" r="2.75" fill="url(#g59)"/>
<circle cx="471.8" cy="162.8" r="2.75" fill="url(#g79)"/>
<circle cx="508.5" cy="157.2" r="2.75" fill="url(#g59)"/>
<circle cx="575.8" cy="76.9" r="2.75" fill="url(#g78)"/>
<circle cx="468.2" cy="160.7" r="2.75" fill="url(#g56)"/>
<circle cx="568.0" cy="108.3" r="2.75" fill="url(#g114)"/>
<circle cx="480.7" cy="129.2" r="2.75" fill="url(#g49)"/>
<circle cx="604.8" cy="95.2" r="2.75" fill="url(#g140)"/>
<circle cx="605.7" cy="78.6" r="2.75" fill="url(#g45)"/>
<circle cx="565.0" cy="110.1" r="2.75" fill="url(#g113)"/>
<circle cx="522.4" cy="140.6" r="2.75" fill="url(#g90)"/>
<circle cx="572.4" cy="82.5" r="2.75" fill="url(#g102)"/>
<circle cx="476.8" cy="147.3" r="2.75" fill="url(#g50)"/>
<circle cx="459.0" cy="131.4" r="2.75" fill="url(#g76)"/>
<circle cx="459.6" cy="149.4" r="2.75" fill="url(#g76)"/>
<line x1="395.5" y1="133.9" x2="630.9" y2="133.9" stroke="#dc2c3c" stroke-width="1.25" stroke-dasharray="2.6 1.7"/>
<rect x="395.5" y="29.8" width="235.4" height="188.9" fill="none" stroke="#4a4a4a" stroke-width="1.4"/>
<line x1="415.1" y1="218.7" x2="415.1" y2="222.3" stroke="#333" stroke-width="1.1"/>
<text transform="translate(415.1 232.9) scale(1 1.06)" text-anchor="middle" class="tk">−2</text>
<line x1="454.3" y1="218.7" x2="454.3" y2="222.3" stroke="#333" stroke-width="1.1"/>
<text transform="translate(454.3 232.9) scale(1 1.06)" text-anchor="middle" class="tk">−1</text>
<line x1="493.5" y1="218.7" x2="493.5" y2="222.3" stroke="#333" stroke-width="1.1"/>
<text transform="translate(493.5 232.9) scale(1 1.06)" text-anchor="middle" class="tk">0</text>
<line x1="532.7" y1="218.7" x2="532.7" y2="222.3" stroke="#333" stroke-width="1.1"/>
<text transform="translate(532.7 232.9) scale(1 1.06)" text-anchor="middle" class="tk">1</text>
<line x1="571.9" y1="218.7" x2="571.9" y2="222.3" stroke="#333" stroke-width="1.1"/>
<text transform="translate(571.9 232.9) scale(1 1.06)" text-anchor="middle" class="tk">2</text>
<line x1="611.1" y1="218.7" x2="611.1" y2="222.3" stroke="#333" stroke-width="1.1"/>
<text transform="translate(611.1 232.9) scale(1 1.06)" text-anchor="middle" class="tk">3</text>
<line x1="391.9" y1="29.4" x2="395.5" y2="29.4" stroke="#333" stroke-width="1.1"/>
<text transform="translate(389.0 32.6) scale(1 1.06)" text-anchor="end" class="tk">1.6</text>
<line x1="391.9" y1="55.5" x2="395.5" y2="55.5" stroke="#333" stroke-width="1.1"/>
<text transform="translate(389.0 58.7) scale(1 1.06)" text-anchor="end" class="tk">1.2</text>
<line x1="391.9" y1="81.7" x2="395.5" y2="81.7" stroke="#333" stroke-width="1.1"/>
<text transform="translate(389.0 84.9) scale(1 1.06)" text-anchor="end" class="tk">0.8</text>
<line x1="391.9" y1="107.8" x2="395.5" y2="107.8" stroke="#333" stroke-width="1.1"/>
<text transform="translate(389.0 111.0) scale(1 1.06)" text-anchor="end" class="tk">0.4</text>
<line x1="391.9" y1="133.9" x2="395.5" y2="133.9" stroke="#333" stroke-width="1.1"/>
<text transform="translate(389.0 137.1) scale(1 1.06)" text-anchor="end" class="tk">0.0</text>
<line x1="391.9" y1="160.0" x2="395.5" y2="160.0" stroke="#333" stroke-width="1.1"/>
<text transform="translate(389.0 163.2) scale(1 1.06)" text-anchor="end" class="tk">−0.4</text>
<line x1="391.9" y1="186.1" x2="395.5" y2="186.1" stroke="#333" stroke-width="1.1"/>
<text transform="translate(389.0 189.3) scale(1 1.06)" text-anchor="end" class="tk">−0.8</text>
<line x1="391.9" y1="212.3" x2="395.5" y2="212.3" stroke="#333" stroke-width="1.1"/>
<text transform="translate(389.0 215.5) scale(1 1.06)" text-anchor="end" class="tk">−1.2</text>
<rect x="643.2" y="31.3" width="10.8" height="189.1" fill="url(#cbg)" stroke="#2a2a2a" stroke-opacity="0.45" stroke-width="0.7"/>
<line x1="654.0" y1="31.3" x2="657.5" y2="31.3" stroke="#555" stroke-width="1"/>
<text transform="translate(661.3 34.7) scale(1 1.06)" class="tk">3.5</text>
<line x1="654.0" y1="47.1" x2="657.5" y2="47.1" stroke="#555" stroke-width="1"/>
<text transform="translate(661.3 50.5) scale(1 1.06)" class="tk">3.0</text>
<line x1="654.0" y1="62.8" x2="657.5" y2="62.8" stroke="#555" stroke-width="1"/>
<text transform="translate(661.3 66.2) scale(1 1.06)" class="tk">2.5</text>
<line x1="654.0" y1="78.6" x2="657.5" y2="78.6" stroke="#555" stroke-width="1"/>
<text transform="translate(661.3 82.0) scale(1 1.06)" class="tk">2.0</text>
<line x1="654.0" y1="94.3" x2="657.5" y2="94.3" stroke="#555" stroke-width="1"/>
<text transform="translate(661.3 97.7) scale(1 1.06)" class="tk">1.5</text>
<line x1="654.0" y1="110.1" x2="657.5" y2="110.1" stroke="#555" stroke-width="1"/>
<text transform="translate(661.3 113.5) scale(1 1.06)" class="tk">1.0</text>
<line x1="654.0" y1="125.8" x2="657.5" y2="125.8" stroke="#555" stroke-width="1"/>
<text transform="translate(661.3 129.2) scale(1 1.06)" class="tk">0.5</text>
<line x1="654.0" y1="141.6" x2="657.5" y2="141.6" stroke="#555" stroke-width="1"/>
<text transform="translate(661.3 145.0) scale(1 1.06)" class="tk">0.0</text>
<line x1="654.0" y1="157.4" x2="657.5" y2="157.4" stroke="#555" stroke-width="1"/>
<text transform="translate(661.3 160.8) scale(1 1.06)" class="tk">−0.5</text>
<line x1="654.0" y1="173.1" x2="657.5" y2="173.1" stroke="#555" stroke-width="1"/>
<text transform="translate(661.3 176.5) scale(1 1.06)" class="tk">−1.0</text>
<line x1="654.0" y1="188.9" x2="657.5" y2="188.9" stroke="#555" stroke-width="1"/>
<text transform="translate(661.3 192.3) scale(1 1.06)" class="tk">−1.5</text>
<line x1="654.0" y1="204.6" x2="657.5" y2="204.6" stroke="#555" stroke-width="1"/>
<text transform="translate(661.3 208.0) scale(1 1.06)" class="tk">−2.0</text>
<line x1="654.0" y1="220.4" x2="657.5" y2="220.4" stroke="#555" stroke-width="1"/>
<text transform="translate(661.3 223.8) scale(1 1.06)" class="tk">−2.5</text>
<text x="629.8" y="19.9" class="b" style="font-size:12.4px" textLength="41.9" lengthAdjust="spacingAndGlyphs">SPEI01</text>
<text x="392.4" y="22.3" class="b" style="font-size:17px">(b)</text>
<text x="492.4" y="251.9" class="b" style="font-size:12.1px" textLength="40.3" lengthAdjust="spacingAndGlyphs">SPEI01</text>
<text transform="translate(365.7 120.4) rotate(-90)" x="-55" class="b" style="font-size:17.9px" textLength="110" lengthAdjust="spacingAndGlyphs">SHAP Values</text>
<circle cx="254.7" cy="368.5" r="2.75" fill="url(#g137)"/>
<circle cx="104.1" cy="417.3" r="2.75" fill="url(#g61)"/>
<circle cx="112.4" cy="425.4" r="2.75" fill="url(#g141)"/>
<circle cx="172.5" cy="432.4" r="2.75" fill="url(#g142)"/>
<circle cx="200.2" cy="387.3" r="2.75" fill="url(#g86)"/>
<circle cx="140.3" cy="438.8" r="2.75" fill="url(#g3)"/>
<circle cx="95.6" cy="408.9" r="2.75" fill="url(#g143)"/>
<circle cx="224.8" cy="381.2" r="2.75" fill="url(#g144)"/>
<circle cx="176.7" cy="418.8" r="2.75" fill="url(#g142)"/>
<circle cx="225.9" cy="332.4" r="2.75" fill="url(#g144)"/>
<circle cx="204.9" cy="423.6" r="2.75" fill="url(#g145)"/>
<circle cx="112.0" cy="407.5" r="2.75" fill="url(#g141)"/>
<circle cx="146.3" cy="410.0" r="2.75" fill="url(#g94)"/>
<circle cx="121.6" cy="434.6" r="2.75" fill="url(#g146)"/>
<circle cx="92.0" cy="405.3" r="2.75" fill="url(#g100)"/>
<circle cx="89.1" cy="407.5" r="2.75" fill="url(#g100)"/>
<circle cx="112.4" cy="454.1" r="2.75" fill="url(#g141)"/>
<circle cx="194.4" cy="438.3" r="2.75" fill="url(#g147)"/>
<circle cx="111.7" cy="412.5" r="2.75" fill="url(#g141)"/>
<circle cx="116.3" cy="458.7" r="2.75" fill="url(#g77)"/>
<circle cx="78.6" cy="402.0" r="2.75" fill="url(#g100)"/>
<circle cx="110.0" cy="438.5" r="2.75" fill="url(#g141)"/>
<circle cx="268.7" cy="368.5" r="2.75" fill="url(#g17)"/>
<circle cx="134.9" cy="436.2" r="2.75" fill="url(#g148)"/>
<circle cx="212.3" cy="418.4" r="2.75" fill="url(#g149)"/>
<circle cx="178.0" cy="408.8" r="2.75" fill="url(#g142)"/>
<circle cx="151.8" cy="387.7" r="2.75" fill="url(#g150)"/>
<circle cx="103.8" cy="414.5" r="2.75" fill="url(#g61)"/>
<circle cx="94.9" cy="424.6" r="2.75" fill="url(#g143)"/>
<circle cx="135.0" cy="416.5" r="2.75" fill="url(#g148)"/>
<circle cx="197.1" cy="417.0" r="2.75" fill="url(#g151)"/>
<circle cx="205.8" cy="417.3" r="2.75" fill="url(#g145)"/>
<circle cx="105.3" cy="439.6" r="2.75" fill="url(#g61)"/>
<circle cx="133.7" cy="443.3" r="2.75" fill="url(#g107)"/>
<circle cx="86.2" cy="409.0" r="2.75" fill="url(#g100)"/>
<circle cx="93.1" cy="395.0" r="2.75" fill="url(#g152)"/>
<circle cx="104.2" cy="441.8" r="2.75" fill="url(#g61)"/>
<circle cx="252.0" cy="373.5" r="2.75" fill="url(#g84)"/>
<circle cx="216.3" cy="423.4" r="2.75" fill="url(#g153)"/>
<circle cx="106.0" cy="411.8" r="2.75" fill="url(#g61)"/>
<circle cx="84.6" cy="396.5" r="2.75" fill="url(#g100)"/>
<circle cx="191.7" cy="436.6" r="2.75" fill="url(#g147)"/>
<circle cx="90.7" cy="419.4" r="2.75" fill="url(#g100)"/>
<circle cx="181.5" cy="429.0" r="2.75" fill="url(#g154)"/>
<circle cx="123.6" cy="418.4" r="2.75" fill="url(#g79)"/>
<circle cx="151.3" cy="419.3" r="2.75" fill="url(#g155)"/>
<circle cx="225.2" cy="378.0" r="2.75" fill="url(#g144)"/>
<circle cx="107.8" cy="427.5" r="2.75" fill="url(#g61)"/>
<circle cx="146.7" cy="420.3" r="2.75" fill="url(#g94)"/>
<circle cx="103.4" cy="430.5" r="2.75" fill="url(#g61)"/>
<circle cx="173.2" cy="404.8" r="2.75" fill="url(#g142)"/>
<circle cx="174.6" cy="422.7" r="2.75" fill="url(#g142)"/>
<circle cx="188.1" cy="427.5" r="2.75" fill="url(#g136)"/>
<circle cx="136.8" cy="416.6" r="2.75" fill="url(#g64)"/>
<circle cx="182.8" cy="407.1" r="2.75" fill="url(#g154)"/>
<circle cx="87.3" cy="419.4" r="2.75" fill="url(#g100)"/>
<circle cx="140.7" cy="435.5" r="2.75" fill="url(#g138)"/>
<circle cx="137.1" cy="441.9" r="2.75" fill="url(#g108)"/>
<circle cx="195.5" cy="413.0" r="2.75" fill="url(#g151)"/>
<circle cx="97.7" cy="399.0" r="2.75" fill="url(#g55)"/>
<circle cx="140.2" cy="420.1" r="2.75" fill="url(#g3)"/>
<circle cx="183.2" cy="433.4" r="2.75" fill="url(#g154)"/>
<circle cx="105.7" cy="400.0" r="2.75" fill="url(#g61)"/>
<circle cx="141.6" cy="417.1" r="2.75" fill="url(#g138)"/>
<circle cx="176.0" cy="431.9" r="2.75" fill="url(#g142)"/>
<circle cx="236.3" cy="353.2" r="2.75" fill="url(#g156)"/>
<circle cx="133.6" cy="406.1" r="2.75" fill="url(#g107)"/>
<circle cx="216.4" cy="418.9" r="2.75" fill="url(#g153)"/>
<circle cx="107.1" cy="454.2" r="2.75" fill="url(#g61)"/>
<circle cx="184.6" cy="438.6" r="2.75" fill="url(#g136)"/>
<circle cx="189.8" cy="422.7" r="2.75" fill="url(#g147)"/>
<circle cx="114.0" cy="423.5" r="2.75" fill="url(#g141)"/>
<circle cx="208.4" cy="399.2" r="2.75" fill="url(#g145)"/>
<circle cx="149.4" cy="408.3" r="2.75" fill="url(#g155)"/>
<circle cx="194.7" cy="435.5" r="2.75" fill="url(#g127)"/>
<circle cx="171.7" cy="429.5" r="2.75" fill="url(#g142)"/>
<circle cx="100.9" cy="430.0" r="2.75" fill="url(#g55)"/>
<circle cx="91.7" cy="424.7" r="2.75" fill="url(#g100)"/>
<circle cx="204.4" cy="405.3" r="2.75" fill="url(#g145)"/>
<circle cx="222.7" cy="359.5" r="2.75" fill="url(#g157)"/>
<circle cx="141.9" cy="429.7" r="2.75" fill="url(#g138)"/>
<circle cx="97.1" cy="416.9" r="2.75" fill="url(#g55)"/>
<circle cx="107.0" cy="407.9" r="2.75" fill="url(#g61)"/>
<circle cx="206.6" cy="430.8" r="2.75" fill="url(#g145)"/>
<circle cx="175.5" cy="427.5" r="2.75" fill="url(#g142)"/>
<circle cx="142.9" cy="422.9" r="2.75" fill="url(#g138)"/>
<circle cx="95.9" cy="377.3" r="2.75" fill="url(#g143)"/>
<circle cx="171.2" cy="401.1" r="2.75" fill="url(#g142)"/>
<circle cx="92.8" cy="381.5" r="2.75" fill="url(#g158)"/>
<circle cx="181.3" cy="418.2" r="2.75" fill="url(#g154)"/>
<circle cx="111.4" cy="435.6" r="2.75" fill="url(#g141)"/>
<circle cx="166.4" cy="399.2" r="2.75" fill="url(#g159)"/>
<circle cx="209.9" cy="419.6" r="2.75" fill="url(#g145)"/>
<circle cx="146.2" cy="434.5" r="2.75" fill="url(#g94)"/>
<circle cx="194.1" cy="403.3" r="2.75" fill="url(#g147)"/>
<circle cx="211.9" cy="424.1" r="2.75" fill="url(#g149)"/>
<circle cx="103.6" cy="433.6" r="2.75" fill="url(#g61)"/>
<circle cx="149.1" cy="434.4" r="2.75" fill="url(#g155)"/>
<circle cx="124.6" cy="409.8" r="2.75" fill="url(#g79)"/>
<circle cx="96.6" cy="419.3" r="2.75" fill="url(#g143)"/>
<circle cx="210.8" cy="403.7" r="2.75" fill="url(#g145)"/>
<circle cx="106.4" cy="434.3" r="2.75" fill="url(#g61)"/>
<circle cx="145.1" cy="429.0" r="2.75" fill="url(#g104)"/>
<circle cx="216.9" cy="430.6" r="2.75" fill="url(#g153)"/>
<circle cx="231.1" cy="385.6" r="2.75" fill="url(#g160)"/>
<circle cx="137.1" cy="425.5" r="2.75" fill="url(#g108)"/>
<circle cx="185.6" cy="429.2" r="2.75" fill="url(#g136)"/>
<circle cx="185.0" cy="419.1" r="2.75" fill="url(#g136)"/>
<circle cx="187.3" cy="434.0" r="2.75" fill="url(#g136)"/>
<circle cx="191.2" cy="411.8" r="2.75" fill="url(#g147)"/>
<circle cx="155.3" cy="415.8" r="2.75" fill="url(#g161)"/>
<circle cx="168.2" cy="400.5" r="2.75" fill="url(#g159)"/>
<circle cx="146.5" cy="437.1" r="2.75" fill="url(#g94)"/>
<circle cx="144.6" cy="439.1" r="2.75" fill="url(#g104)"/>
<circle cx="165.0" cy="431.0" r="2.75" fill="url(#g162)"/>
<circle cx="207.7" cy="425.3" r="2.75" fill="url(#g145)"/>
<circle cx="122.1" cy="427.9" r="2.75" fill="url(#g79)"/>
<circle cx="114.1" cy="412.0" r="2.75" fill="url(#g163)"/>
<circle cx="109.4" cy="432.8" r="2.75" fill="url(#g141)"/>
<circle cx="136.1" cy="402.4" r="2.75" fill="url(#g164)"/>
<circle cx="127.7" cy="417.7" r="2.75" fill="url(#g99)"/>
<circle cx="197.7" cy="408.8" r="2.75" fill="url(#g151)"/>
<circle cx="119.8" cy="413.7" r="2.75" fill="url(#g146)"/>
<circle cx="170.1" cy="417.3" r="2.75" fill="url(#g159)"/>
<circle cx="144.5" cy="401.3" r="2.75" fill="url(#g104)"/>
<circle cx="145.6" cy="407.0" r="2.75" fill="url(#g104)"/>
<circle cx="233.2" cy="369.9" r="2.75" fill="url(#g165)"/>
<circle cx="103.2" cy="397.2" r="2.75" fill="url(#g61)"/>
<circle cx="216.1" cy="400.9" r="2.75" fill="url(#g153)"/>
<circle cx="96.5" cy="422.4" r="2.75" fill="url(#g143)"/>
<circle cx="214.8" cy="416.3" r="2.75" fill="url(#g153)"/>
<circle cx="183.5" cy="436.0" r="2.75" fill="url(#g154)"/>
<circle cx="217.7" cy="386.5" r="2.75" fill="url(#g153)"/>
<circle cx="80.6" cy="390.0" r="2.75" fill="url(#g100)"/>
<circle cx="92.7" cy="413.3" r="2.75" fill="url(#g158)"/>
<circle cx="135.6" cy="437.8" r="2.75" fill="url(#g74)"/>
<circle cx="91.3" cy="410.4" r="2.75" fill="url(#g100)"/>
<circle cx="93.8" cy="419.5" r="2.75" fill="url(#g122)"/>
<circle cx="136.5" cy="431.6" r="2.75" fill="url(#g166)"/>
<circle cx="109.5" cy="403.4" r="2.75" fill="url(#g141)"/>
<circle cx="124.3" cy="425.9" r="2.75" fill="url(#g79)"/>
<circle cx="89.6" cy="413.8" r="2.75" fill="url(#g100)"/>
<circle cx="165.1" cy="413.4" r="2.75" fill="url(#g162)"/>
<circle cx="122.6" cy="406.9" r="2.75" fill="url(#g79)"/>
<circle cx="217.6" cy="434.3" r="2.75" fill="url(#g153)"/>
<circle cx="103.1" cy="426.8" r="2.75" fill="url(#g61)"/>
<circle cx="85.3" cy="391.9" r="2.75" fill="url(#g100)"/>
<circle cx="219.6" cy="393.7" r="2.75" fill="url(#g167)"/>
<circle cx="237.4" cy="396.0" r="2.75" fill="url(#g87)"/>
<circle cx="121.7" cy="410.3" r="2.75" fill="url(#g79)"/>
<circle cx="191.1" cy="425.1" r="2.75" fill="url(#g147)"/>
<circle cx="211.2" cy="428.8" r="2.75" fill="url(#g149)"/>
<circle cx="195.9" cy="433.0" r="2.75" fill="url(#g151)"/>
<circle cx="73.9" cy="388.9" r="2.75" fill="url(#g100)"/>
<circle cx="135.7" cy="411.4" r="2.75" fill="url(#g74)"/>
<circle cx="103.0" cy="400.0" r="2.75" fill="url(#g61)"/>
<circle cx="162.4" cy="406.9" r="2.75" fill="url(#g168)"/>
<circle cx="209.6" cy="431.0" r="2.75" fill="url(#g145)"/>
<circle cx="222.0" cy="399.0" r="2.75" fill="url(#g169)"/>
<circle cx="106.2" cy="403.3" r="2.75" fill="url(#g61)"/>
<circle cx="220.5" cy="368.2" r="2.75" fill="url(#g28)"/>
<circle cx="161.4" cy="411.9" r="2.75" fill="url(#g168)"/>
<circle cx="161.5" cy="421.0" r="2.75" fill="url(#g168)"/>
<circle cx="240.0" cy="371.0" r="2.75" fill="url(#g170)"/>
<circle cx="112.5" cy="419.3" r="2.75" fill="url(#g141)"/>
<circle cx="216.1" cy="391.5" r="2.75" fill="url(#g153)"/>
<circle cx="105.1" cy="406.0" r="2.75" fill="url(#g61)"/>
<circle cx="112.1" cy="421.8" r="2.75" fill="url(#g141)"/>
<circle cx="99.5" cy="439.7" r="2.75" fill="url(#g55)"/>
<circle cx="224.8" cy="327.1" r="2.75" fill="url(#g144)"/>
<circle cx="177.9" cy="412.7" r="2.75" fill="url(#g142)"/>
<circle cx="206.3" cy="402.0" r="2.75" fill="url(#g145)"/>
<circle cx="101.6" cy="403.5" r="2.75" fill="url(#g55)"/>
<circle cx="107.7" cy="405.2" r="2.75" fill="url(#g61)"/>
<circle cx="148.3" cy="395.6" r="2.75" fill="url(#g171)"/>
<circle cx="139.1" cy="433.3" r="2.75" fill="url(#g3)"/>
<circle cx="89.8" cy="422.1" r="2.75" fill="url(#g100)"/>
<circle cx="216.0" cy="395.0" r="2.75" fill="url(#g153)"/>
<circle cx="237.2" cy="395.5" r="2.75" fill="url(#g87)"/>
<circle cx="131.8" cy="425.1" r="2.75" fill="url(#g107)"/>
<circle cx="185.3" cy="415.3" r="2.75" fill="url(#g136)"/>
<circle cx="126.5" cy="427.7" r="2.75" fill="url(#g99)"/>
<circle cx="93.7" cy="399.8" r="2.75" fill="url(#g122)"/>
<circle cx="163.7" cy="417.3" r="2.75" fill="url(#g172)"/>
<circle cx="174.4" cy="411.2" r="2.75" fill="url(#g142)"/>
<circle cx="205.4" cy="407.7" r="2.75" fill="url(#g145)"/>
<circle cx="148.8" cy="424.5" r="2.75" fill="url(#g171)"/>
<circle cx="172.6" cy="408.9" r="2.75" fill="url(#g142)"/>
<circle cx="99.5" cy="407.1" r="2.75" fill="url(#g55)"/>
<circle cx="92.1" cy="402.1" r="2.75" fill="url(#g173)"/>
<circle cx="158.6" cy="413.2" r="2.75" fill="url(#g168)"/>
<circle cx="183.6" cy="410.3" r="2.75" fill="url(#g154)"/>
<circle cx="126.3" cy="412.9" r="2.75" fill="url(#g99)"/>
<circle cx="102.9" cy="409.3" r="2.75" fill="url(#g55)"/>
<circle cx="113.0" cy="414.8" r="2.75" fill="url(#g141)"/>
<circle cx="238.0" cy="319.8" r="2.75" fill="url(#g87)"/>
<circle cx="149.6" cy="421.4" r="2.75" fill="url(#g155)"/>
<circle cx="125.5" cy="422.2" r="2.75" fill="url(#g79)"/>
<circle cx="144.6" cy="417.2" r="2.75" fill="url(#g104)"/>
<circle cx="217.2" cy="399.7" r="2.75" fill="url(#g153)"/>
<circle cx="186.9" cy="407.3" r="2.75" fill="url(#g136)"/>
<circle cx="192.2" cy="432.5" r="2.75" fill="url(#g147)"/>
<circle cx="216.5" cy="413.2" r="2.75" fill="url(#g153)"/>
<circle cx="86.8" cy="412.1" r="2.75" fill="url(#g100)"/>
<circle cx="81.7" cy="397.4" r="2.75" fill="url(#g100)"/>
<circle cx="101.3" cy="395.5" r="2.75" fill="url(#g55)"/>
<circle cx="109.1" cy="418.8" r="2.75" fill="url(#g141)"/>
<circle cx="200.2" cy="382.0" r="2.75" fill="url(#g86)"/>
<circle cx="148.6" cy="390.9" r="2.75" fill="url(#g171)"/>
<circle cx="216.5" cy="372.0" r="2.75" fill="url(#g153)"/>
<circle cx="113.7" cy="428.0" r="2.75" fill="url(#g141)"/>
<circle cx="103.9" cy="437.0" r="2.75" fill="url(#g61)"/>
<circle cx="101.7" cy="424.8" r="2.75" fill="url(#g55)"/>
<circle cx="101.9" cy="438.9" r="2.75" fill="url(#g55)"/>
<circle cx="222.6" cy="393.9" r="2.75" fill="url(#g157)"/>
<circle cx="163.7" cy="400.1" r="2.75" fill="url(#g172)"/>
<circle cx="203.0" cy="411.2" r="2.75" fill="url(#g145)"/>
<circle cx="153.9" cy="410.8" r="2.75" fill="url(#g150)"/>
<circle cx="110.2" cy="414.9" r="2.75" fill="url(#g141)"/>
<circle cx="120.3" cy="399.5" r="2.75" fill="url(#g146)"/>
<circle cx="109.9" cy="430.4" r="2.75" fill="url(#g141)"/>
<circle cx="131.4" cy="421.1" r="2.75" fill="url(#g107)"/>
<circle cx="166.7" cy="420.9" r="2.75" fill="url(#g159)"/>
<circle cx="91.3" cy="436.4" r="2.75" fill="url(#g100)"/>
<circle cx="215.1" cy="382.6" r="2.75" fill="url(#g153)"/>
<circle cx="169.1" cy="423.2" r="2.75" fill="url(#g159)"/>
<circle cx="214.8" cy="434.1" r="2.75" fill="url(#g153)"/>
<circle cx="114.1" cy="417.4" r="2.75" fill="url(#g163)"/>
<circle cx="81.9" cy="400.2" r="2.75" fill="url(#g100)"/>
<circle cx="168.8" cy="409.3" r="2.75" fill="url(#g159)"/>
<circle cx="171.6" cy="415.1" r="2.75" fill="url(#g142)"/>
<circle cx="101.4" cy="435.4" r="2.75" fill="url(#g55)"/>
<circle cx="216.9" cy="444.2" r="2.75" fill="url(#g153)"/>
<circle cx="226.0" cy="408.0" r="2.75" fill="url(#g144)"/>
<circle cx="86.1" cy="424.5" r="2.75" fill="url(#g100)"/>
<circle cx="215.8" cy="408.7" r="2.75" fill="url(#g153)"/>
<circle cx="73.9" cy="396.3" r="2.75" fill="url(#g100)"/>
<circle cx="141.6" cy="402.4" r="2.75" fill="url(#g138)"/>
<circle cx="188.3" cy="430.8" r="2.75" fill="url(#g136)"/>
<circle cx="120.2" cy="396.8" r="2.75" fill="url(#g146)"/>
<circle cx="148.3" cy="431.7" r="2.75" fill="url(#g171)"/>
<circle cx="207.5" cy="421.2" r="2.75" fill="url(#g145)"/>
<circle cx="133.6" cy="425.6" r="2.75" fill="url(#g107)"/>
<circle cx="178.0" cy="402.0" r="2.75" fill="url(#g142)"/>
<circle cx="219.6" cy="334.4" r="2.75" fill="url(#g167)"/>
<circle cx="76.3" cy="394.8" r="2.75" fill="url(#g100)"/>
<circle cx="150.8" cy="430.3" r="2.75" fill="url(#g155)"/>
<circle cx="109.3" cy="457.6" r="2.75" fill="url(#g141)"/>
<circle cx="149.3" cy="392.7" r="2.75" fill="url(#g155)"/>
<circle cx="153.6" cy="393.5" r="2.75" fill="url(#g150)"/>
<circle cx="86.1" cy="400.0" r="2.75" fill="url(#g100)"/>
<circle cx="75.2" cy="399.7" r="2.75" fill="url(#g100)"/>
<circle cx="140.6" cy="408.3" r="2.75" fill="url(#g138)"/>
<circle cx="127.2" cy="458.7" r="2.75" fill="url(#g99)"/>
<circle cx="188.5" cy="436.3" r="2.75" fill="url(#g174)"/>
<circle cx="225.3" cy="387.5" r="2.75" fill="url(#g144)"/>
<circle cx="91.0" cy="416.1" r="2.75" fill="url(#g100)"/>
<circle cx="213.4" cy="448.6" r="2.75" fill="url(#g149)"/>
<circle cx="143.3" cy="426.5" r="2.75" fill="url(#g104)"/>
<circle cx="212.2" cy="434.3" r="2.75" fill="url(#g149)"/>
<circle cx="154.5" cy="404.7" r="2.75" fill="url(#g150)"/>
<circle cx="212.9" cy="406.9" r="2.75" fill="url(#g149)"/>
<circle cx="143.0" cy="406.7" r="2.75" fill="url(#g138)"/>
<circle cx="92.1" cy="409.8" r="2.75" fill="url(#g173)"/>
<circle cx="120.1" cy="443.1" r="2.75" fill="url(#g146)"/>
<circle cx="216.2" cy="403.5" r="2.75" fill="url(#g153)"/>
<circle cx="209.3" cy="406.6" r="2.75" fill="url(#g145)"/>
<circle cx="172.4" cy="420.4" r="2.75" fill="url(#g142)"/>
<circle cx="97.8" cy="433.8" r="2.75" fill="url(#g55)"/>
<circle cx="192.6" cy="427.3" r="2.75" fill="url(#g147)"/>
<circle cx="90.7" cy="388.8" r="2.75" fill="url(#g100)"/>
<circle cx="206.8" cy="437.3" r="2.75" fill="url(#g145)"/>
<circle cx="98.2" cy="431.3" r="2.75" fill="url(#g55)"/>
<circle cx="109.4" cy="421.2" r="2.75" fill="url(#g141)"/>
<circle cx="144.9" cy="414.0" r="2.75" fill="url(#g104)"/>
<circle cx="182.1" cy="414.1" r="2.75" fill="url(#g154)"/>
<circle cx="106.7" cy="451.4" r="2.75" fill="url(#g61)"/>
<circle cx="224.3" cy="374.0" r="2.75" fill="url(#g144)"/>
<circle cx="138.2" cy="403.6" r="2.75" fill="url(#g3)"/>
<circle cx="98.8" cy="437.4" r="2.75" fill="url(#g55)"/>
<circle cx="118.9" cy="395.0" r="2.75" fill="url(#g146)"/>
<circle cx="182.4" cy="425.8" r="2.75" fill="url(#g154)"/>
<circle cx="99.3" cy="409.7" r="2.75" fill="url(#g55)"/>
<circle cx="97.1" cy="405.3" r="2.75" fill="url(#g55)"/>
<circle cx="118.7" cy="410.2" r="2.75" fill="url(#g146)"/>
<circle cx="167.3" cy="407.1" r="2.75" fill="url(#g159)"/>
<circle cx="133.0" cy="428.4" r="2.75" fill="url(#g107)"/>
<circle cx="175.5" cy="387.3" r="2.75" fill="url(#g142)"/>
<circle cx="131.1" cy="440.4" r="2.75" fill="url(#g107)"/>
<circle cx="138.2" cy="428.1" r="2.75" fill="url(#g3)"/>
<circle cx="189.2" cy="416.0" r="2.75" fill="url(#g147)"/>
<circle cx="94.4" cy="411.3" r="2.75" fill="url(#g143)"/>
<circle cx="158.8" cy="428.2" r="2.75" fill="url(#g168)"/>
<circle cx="209.1" cy="415.5" r="2.75" fill="url(#g145)"/>
<circle cx="135.3" cy="412.0" r="2.75" fill="url(#g148)"/>
<circle cx="153.5" cy="421.6" r="2.75" fill="url(#g150)"/>
<circle cx="161.9" cy="426.6" r="2.75" fill="url(#g168)"/>
<circle cx="244.7" cy="375.2" r="2.75" fill="url(#g175)"/>
<circle cx="188.3" cy="420.6" r="2.75" fill="url(#g136)"/>
<circle cx="183.0" cy="420.8" r="2.75" fill="url(#g154)"/>
<circle cx="171.7" cy="412.4" r="2.75" fill="url(#g142)"/>
<circle cx="99.1" cy="414.3" r="2.75" fill="url(#g55)"/>
<circle cx="125.5" cy="431.5" r="2.75" fill="url(#g79)"/>
<circle cx="125.2" cy="440.9" r="2.75" fill="url(#g79)"/>
<circle cx="109.4" cy="408.2" r="2.75" fill="url(#g141)"/>
<circle cx="154.7" cy="401.2" r="2.75" fill="url(#g176)"/>
<circle cx="197.3" cy="401.9" r="2.75" fill="url(#g151)"/>
<circle cx="217.6" cy="426.3" r="2.75" fill="url(#g153)"/>
<circle cx="221.4" cy="405.0" r="2.75" fill="url(#g177)"/>
<circle cx="118.8" cy="402.3" r="2.75" fill="url(#g146)"/>
<circle cx="81.7" cy="394.0" r="2.75" fill="url(#g100)"/>
<circle cx="177.4" cy="406.2" r="2.75" fill="url(#g142)"/>
<circle cx="91.2" cy="427.5" r="2.75" fill="url(#g100)"/>
<circle cx="131.0" cy="433.6" r="2.75" fill="url(#g107)"/>
<circle cx="88.7" cy="432.1" r="2.75" fill="url(#g100)"/>
<circle cx="172.2" cy="392.5" r="2.75" fill="url(#g142)"/>
<circle cx="110.3" cy="465.9" r="2.75" fill="url(#g141)"/>
<circle cx="102.5" cy="412.3" r="2.75" fill="url(#g55)"/>
<circle cx="183.2" cy="404.2" r="2.75" fill="url(#g154)"/>
<circle cx="152.3" cy="436.2" r="2.75" fill="url(#g150)"/>
<circle cx="164.7" cy="402.6" r="2.75" fill="url(#g162)"/>
<circle cx="106.9" cy="466.3" r="2.75" fill="url(#g61)"/>
<circle cx="191.0" cy="430.1" r="2.75" fill="url(#g147)"/>
<circle cx="107.6" cy="438.9" r="2.75" fill="url(#g61)"/>
<circle cx="110.1" cy="424.0" r="2.75" fill="url(#g141)"/>
<circle cx="126.8" cy="407.8" r="2.75" fill="url(#g99)"/>
<circle cx="185.2" cy="423.7" r="2.75" fill="url(#g136)"/>
<circle cx="151.2" cy="397.3" r="2.75" fill="url(#g155)"/>
<circle cx="219.2" cy="401.0" r="2.75" fill="url(#g153)"/>
<circle cx="225.9" cy="345.9" r="2.75" fill="url(#g144)"/>
<circle cx="213.1" cy="377.9" r="2.75" fill="url(#g149)"/>
<circle cx="167.6" cy="416.0" r="2.75" fill="url(#g159)"/>
<circle cx="246.8" cy="376.2" r="2.75" fill="url(#g88)"/>
<circle cx="192.7" cy="409.4" r="2.75" fill="url(#g147)"/>
<circle cx="132.6" cy="412.3" r="2.75" fill="url(#g107)"/>
<circle cx="214.9" cy="405.0" r="2.75" fill="url(#g153)"/>
<circle cx="159.2" cy="407.5" r="2.75" fill="url(#g168)"/>
<circle cx="127.8" cy="441.6" r="2.75" fill="url(#g99)"/>
<circle cx="107.9" cy="401.5" r="2.75" fill="url(#g61)"/>
<circle cx="100.7" cy="401.1" r="2.75" fill="url(#g55)"/>
<circle cx="108.6" cy="410.9" r="2.75" fill="url(#g61)"/>
<circle cx="109.4" cy="451.4" r="2.75" fill="url(#g141)"/>
<circle cx="152.6" cy="407.5" r="2.75" fill="url(#g150)"/>
<circle cx="180.0" cy="389.9" r="2.75" fill="url(#g109)"/>
<circle cx="154.3" cy="427.6" r="2.75" fill="url(#g150)"/>
<circle cx="130.9" cy="452.5" r="2.75" fill="url(#g107)"/>
<circle cx="94.9" cy="415.8" r="2.75" fill="url(#g143)"/>
<circle cx="255.1" cy="400.6" r="2.75" fill="url(#g137)"/>
<circle cx="225.1" cy="391.9" r="2.75" fill="url(#g144)"/>
<circle cx="101.1" cy="415.8" r="2.75" fill="url(#g55)"/>
<circle cx="174.8" cy="407.2" r="2.75" fill="url(#g142)"/>
<circle cx="213.3" cy="387.0" r="2.75" fill="url(#g149)"/>
<circle cx="224.4" cy="371.0" r="2.75" fill="url(#g144)"/>
<circle cx="130.2" cy="443.5" r="2.75" fill="url(#g107)"/>
<circle cx="87.0" cy="415.3" r="2.75" fill="url(#g100)"/>
<circle cx="268.7" cy="398.5" r="2.75" fill="url(#g17)"/>
<circle cx="197.7" cy="422.6" r="2.75" fill="url(#g151)"/>
<circle cx="92.4" cy="397.3" r="2.75" fill="url(#g178)"/>
<circle cx="127.0" cy="436.6" r="2.75" fill="url(#g99)"/>
<circle cx="209.1" cy="412.2" r="2.75" fill="url(#g145)"/>
<circle cx="118.6" cy="422.6" r="2.75" fill="url(#g146)"/>
<circle cx="209.0" cy="435.5" r="2.75" fill="url(#g145)"/>
<circle cx="188.4" cy="402.4" r="2.75" fill="url(#g174)"/>
<circle cx="227.0" cy="348.0" r="2.75" fill="url(#g179)"/>
<circle cx="107.4" cy="422.6" r="2.75" fill="url(#g61)"/>
<circle cx="137.8" cy="422.9" r="2.75" fill="url(#g20)"/>
<circle cx="100.5" cy="427.4" r="2.75" fill="url(#g55)"/>
<circle cx="223.8" cy="321.9" r="2.75" fill="url(#g144)"/>
<circle cx="217.5" cy="403.7" r="2.75" fill="url(#g153)"/>
<circle cx="100.2" cy="398.1" r="2.75" fill="url(#g55)"/>
<circle cx="96.8" cy="413.3" r="2.75" fill="url(#g143)"/>
<circle cx="107.6" cy="414.1" r="2.75" fill="url(#g61)"/>
<circle cx="213.4" cy="409.7" r="2.75" fill="url(#g149)"/>
<circle cx="130.5" cy="429.2" r="2.75" fill="url(#g107)"/>
<circle cx="205.9" cy="413.8" r="2.75" fill="url(#g145)"/>
<circle cx="190.8" cy="419.3" r="2.75" fill="url(#g147)"/>
<circle cx="164.3" cy="424.2" r="2.75" fill="url(#g172)"/>
<circle cx="105.3" cy="428.3" r="2.75" fill="url(#g61)"/>
<circle cx="203.7" cy="434.4" r="2.75" fill="url(#g145)"/>
<circle cx="145.6" cy="424.4" r="2.75" fill="url(#g104)"/>
<circle cx="129.5" cy="415.4" r="2.75" fill="url(#g99)"/>
<circle cx="148.9" cy="413.6" r="2.75" fill="url(#g155)"/>
<circle cx="133.4" cy="431.6" r="2.75" fill="url(#g107)"/>
<circle cx="125.2" cy="445.7" r="2.75" fill="url(#g79)"/>
<circle cx="110.2" cy="426.9" r="2.75" fill="url(#g141)"/>
<circle cx="108.6" cy="436.1" r="2.75" fill="url(#g61)"/>
<circle cx="213.1" cy="398.4" r="2.75" fill="url(#g149)"/>
<circle cx="202.5" cy="422.1" r="2.75" fill="url(#g180)"/>
<circle cx="112.2" cy="456.7" r="2.75" fill="url(#g141)"/>
<circle cx="219.7" cy="407.6" r="2.75" fill="url(#g167)"/>
<circle cx="235.3" cy="379.3" r="2.75" fill="url(#g165)"/>
<circle cx="191.5" cy="439.9" r="2.75" fill="url(#g147)"/>
<circle cx="221.7" cy="344.9" r="2.75" fill="url(#g177)"/>
<circle cx="236.3" cy="358.5" r="2.75" fill="url(#g156)"/>
<circle cx="167.4" cy="412.1" r="2.75" fill="url(#g159)"/>
<circle cx="247.8" cy="381.4" r="2.75" fill="url(#g82)"/>
<circle cx="88.2" cy="427.1" r="2.75" fill="url(#g100)"/>
<circle cx="188.2" cy="411.0" r="2.75" fill="url(#g136)"/>
<circle cx="112.9" cy="460.1" r="2.75" fill="url(#g141)"/>
<circle cx="143.5" cy="436.5" r="2.75" fill="url(#g104)"/>
<circle cx="100.0" cy="412.1" r="2.75" fill="url(#g55)"/>
<circle cx="97.8" cy="402.4" r="2.75" fill="url(#g55)"/>
<circle cx="234.2" cy="326.1" r="2.75" fill="url(#g165)"/>
<circle cx="194.0" cy="415.5" r="2.75" fill="url(#g147)"/>
<circle cx="261.4" cy="382.5" r="2.75" fill="url(#g181)"/>
<circle cx="197.6" cy="430.3" r="2.75" fill="url(#g151)"/>
<circle cx="109.1" cy="463.0" r="2.75" fill="url(#g141)"/>
<circle cx="134.0" cy="421.8" r="2.75" fill="url(#g182)"/>
<circle cx="152.4" cy="414.4" r="2.75" fill="url(#g150)"/>
<circle cx="223.8" cy="350.1" r="2.75" fill="url(#g144)"/>
<circle cx="128.8" cy="458.7" r="2.75" fill="url(#g99)"/>
<circle cx="201.6" cy="406.5" r="2.75" fill="url(#g180)"/>
<circle cx="99.4" cy="423.2" r="2.75" fill="url(#g55)"/>
<circle cx="161.3" cy="429.2" r="2.75" fill="url(#g168)"/>
<circle cx="174.7" cy="415.5" r="2.75" fill="url(#g142)"/>
<circle cx="171.3" cy="386.4" r="2.75" fill="url(#g142)"/>
<circle cx="242.6" cy="384.6" r="2.75" fill="url(#g183)"/>
<circle cx="195.2" cy="428.5" r="2.75" fill="url(#g127)"/>
<circle cx="203.2" cy="413.9" r="2.75" fill="url(#g145)"/>
<circle cx="168.3" cy="431.0" r="2.75" fill="url(#g159)"/>
<circle cx="175.1" cy="402.7" r="2.75" fill="url(#g142)"/>
<circle cx="79.2" cy="398.3" r="2.75" fill="url(#g100)"/>
<circle cx="137.4" cy="415.5" r="2.75" fill="url(#g26)"/>
<circle cx="100.2" cy="433.3" r="2.75" fill="url(#g55)"/>
<circle cx="128.6" cy="423.4" r="2.75" fill="url(#g99)"/>
<circle cx="192.7" cy="406.5" r="2.75" fill="url(#g147)"/>
<circle cx="111.4" cy="417.0" r="2.75" fill="url(#g141)"/>
<circle cx="98.7" cy="420.9" r="2.75" fill="url(#g55)"/>
<circle cx="151.6" cy="404.0" r="2.75" fill="url(#g155)"/>
<circle cx="98.5" cy="394.5" r="2.75" fill="url(#g55)"/>
<circle cx="196.4" cy="404.9" r="2.75" fill="url(#g151)"/>
<circle cx="136.8" cy="421.5" r="2.75" fill="url(#g64)"/>
<circle cx="237.4" cy="368.9" r="2.75" fill="url(#g87)"/>
<circle cx="97.2" cy="426.6" r="2.75" fill="url(#g55)"/>
<circle cx="134.0" cy="423.6" r="2.75" fill="url(#g182)"/>
<circle cx="119.7" cy="405.8" r="2.75" fill="url(#g146)"/>
<circle cx="93.1" cy="407.5" r="2.75" fill="url(#g152)"/>
<circle cx="112.8" cy="432.1" r="2.75" fill="url(#g141)"/>
<circle cx="196.4" cy="424.9" r="2.75" fill="url(#g151)"/>
<circle cx="222.7" cy="339.7" r="2.75" fill="url(#g157)"/>
<circle cx="180.7" cy="403.5" r="2.75" fill="url(#g109)"/>
<circle cx="221.7" cy="356.4" r="2.75" fill="url(#g177)"/>
<circle cx="151.2" cy="390.6" r="2.75" fill="url(#g155)"/>
<circle cx="220.7" cy="320.5" r="2.75" fill="url(#g28)"/>
<circle cx="161.1" cy="415.3" r="2.75" fill="url(#g168)"/>
<circle cx="203.6" cy="401.7" r="2.75" fill="url(#g145)"/>
<circle cx="104.0" cy="402.4" r="2.75" fill="url(#g61)"/>
<circle cx="215.0" cy="369.3" r="2.75" fill="url(#g153)"/>
<circle cx="99.0" cy="389.8" r="2.75" fill="url(#g55)"/>
<circle cx="106.2" cy="424.8" r="2.75" fill="url(#g61)"/>
<circle cx="128.6" cy="420.5" r="2.75" fill="url(#g99)"/>
<circle cx="232.1" cy="360.5" r="2.75" fill="url(#g160)"/>
<circle cx="218.4" cy="416.1" r="2.75" fill="url(#g153)"/>
<circle cx="107.9" cy="460.1" r="2.75" fill="url(#g61)"/>
<circle cx="201.8" cy="416.1" r="2.75" fill="url(#g180)"/>
<circle cx="218.1" cy="372.8" r="2.75" fill="url(#g153)"/>
<circle cx="148.0" cy="417.7" r="2.75" fill="url(#g171)"/>
<circle cx="91.0" cy="433.6" r="2.75" fill="url(#g100)"/>
<circle cx="104.5" cy="422.6" r="2.75" fill="url(#g61)"/>
<circle cx="191.0" cy="404.2" r="2.75" fill="url(#g147)"/>
<circle cx="220.4" cy="383.8" r="2.75" fill="url(#g28)"/>
<circle cx="148.4" cy="440.1" r="2.75" fill="url(#g171)"/>
<circle cx="134.9" cy="407.7" r="2.75" fill="url(#g148)"/>
<circle cx="134.6" cy="418.2" r="2.75" fill="url(#g148)"/>
<circle cx="108.2" cy="416.5" r="2.75" fill="url(#g61)"/>
<circle cx="119.7" cy="430.3" r="2.75" fill="url(#g146)"/>
<circle cx="221.7" cy="366.8" r="2.75" fill="url(#g177)"/>
<circle cx="148.5" cy="402.0" r="2.75" fill="url(#g171)"/>
<circle cx="95.4" cy="401.7" r="2.75" fill="url(#g143)"/>
<circle cx="110.2" cy="405.9" r="2.75" fill="url(#g141)"/>
<circle cx="186.1" cy="440.9" r="2.75" fill="url(#g136)"/>
<circle cx="94.0" cy="403.7" r="2.75" fill="url(#g143)"/>
<circle cx="245.7" cy="367.8" r="2.75" fill="url(#g175)"/>
<circle cx="99.5" cy="404.7" r="2.75" fill="url(#g55)"/>
<circle cx="119.4" cy="419.4" r="2.75" fill="url(#g146)"/>
<circle cx="185.7" cy="401.6" r="2.75" fill="url(#g136)"/>
<circle cx="258.2" cy="407.5" r="2.75" fill="url(#g184)"/>
<circle cx="102.2" cy="421.4" r="2.75" fill="url(#g55)"/>
<circle cx="105.8" cy="431.3" r="2.75" fill="url(#g61)"/>
<circle cx="196.5" cy="420.1" r="2.75" fill="url(#g151)"/>
<circle cx="220.7" cy="390.0" r="2.75" fill="url(#g28)"/>
<circle cx="218.4" cy="410.4" r="2.75" fill="url(#g153)"/>
<circle cx="143.2" cy="433.7" r="2.75" fill="url(#g138)"/>
<circle cx="78.0" cy="388.3" r="2.75" fill="url(#g100)"/>
<circle cx="101.0" cy="419.2" r="2.75" fill="url(#g55)"/>
<circle cx="168.7" cy="426.7" r="2.75" fill="url(#g159)"/>
<circle cx="193.5" cy="420.8" r="2.75" fill="url(#g147)"/>
<circle cx="213.2" cy="421.1" r="2.75" fill="url(#g149)"/>
<circle cx="202.6" cy="428.8" r="2.75" fill="url(#g180)"/>
<circle cx="215.2" cy="437.3" r="2.75" fill="url(#g153)"/>
<circle cx="224.5" cy="396.0" r="2.75" fill="url(#g144)"/>
<circle cx="112.3" cy="409.9" r="2.75" fill="url(#g141)"/>
<circle cx="105.9" cy="420.0" r="2.75" fill="url(#g61)"/>
<circle cx="181.1" cy="422.8" r="2.75" fill="url(#g109)"/>
<circle cx="168.8" cy="403.5" r="2.75" fill="url(#g159)"/>
<circle cx="95.4" cy="396.2" r="2.75" fill="url(#g143)"/>
<circle cx="129.2" cy="411.3" r="2.75" fill="url(#g99)"/>
<circle cx="218.5" cy="396.7" r="2.75" fill="url(#g153)"/>
<circle cx="236.3" cy="372.0" r="2.75" fill="url(#g156)"/>
<circle cx="229.0" cy="338.6" r="2.75" fill="url(#g102)"/>
<circle cx="218.1" cy="376.9" r="2.75" fill="url(#g153)"/>
<circle cx="225.9" cy="355.3" r="2.75" fill="url(#g144)"/>
<circle cx="132.4" cy="415.2" r="2.75" fill="url(#g107)"/>
<circle cx="96.8" cy="429.0" r="2.75" fill="url(#g143)"/>
<circle cx="219.7" cy="424.5" r="2.75" fill="url(#g167)"/>
<circle cx="91.0" cy="430.2" r="2.75" fill="url(#g100)"/>
<circle cx="161.4" cy="403.5" r="2.75" fill="url(#g168)"/>
<circle cx="171.7" cy="423.8" r="2.75" fill="url(#g142)"/>
<circle cx="102.2" cy="405.9" r="2.75" fill="url(#g55)"/>
<line x1="51.2" y1="416.0" x2="286.2" y2="416.0" stroke="#dc2c3c" stroke-width="1.25" stroke-dasharray="2.6 1.7"/>
<rect x="51.2" y="293.5" width="235.0" height="188.9" fill="none" stroke="#6e6e6e" stroke-width="1.7"/>
<line x1="51.2" y1="482.4" x2="51.2" y2="486.0" stroke="#333" stroke-width="1.1"/>
<text transform="translate(51.2 496.6) scale(1 1.06)" text-anchor="middle" class="tk">−2</text>
<line x1="93.8" y1="482.4" x2="93.8" y2="486.0" stroke="#333" stroke-width="1.1"/>
<text transform="translate(93.8 496.6) scale(1 1.06)" text-anchor="middle" class="tk">−1</text>
<line x1="136.4" y1="482.4" x2="136.4" y2="486.0" stroke="#333" stroke-width="1.1"/>
<text transform="translate(136.4 496.6) scale(1 1.06)" text-anchor="middle" class="tk">0</text>
<line x1="179.0" y1="482.4" x2="179.0" y2="486.0" stroke="#333" stroke-width="1.1"/>
<text transform="translate(179.0 496.6) scale(1 1.06)" text-anchor="middle" class="tk">1</text>
<line x1="221.6" y1="482.4" x2="221.6" y2="486.0" stroke="#333" stroke-width="1.1"/>
<text transform="translate(221.6 496.6) scale(1 1.06)" text-anchor="middle" class="tk">2</text>
<line x1="264.2" y1="482.4" x2="264.2" y2="486.0" stroke="#333" stroke-width="1.1"/>
<text transform="translate(264.2 496.6) scale(1 1.06)" text-anchor="middle" class="tk">3</text>
<line x1="47.6" y1="293.4" x2="51.2" y2="293.4" stroke="#333" stroke-width="1.1"/>
<text transform="translate(44.7 296.6) scale(1 1.06)" text-anchor="end" class="tk">1.5</text>
<line x1="47.6" y1="318.0" x2="51.2" y2="318.0" stroke="#333" stroke-width="1.1"/>
<text transform="translate(44.7 321.2) scale(1 1.06)" text-anchor="end" class="tk">1.2</text>
<line x1="47.6" y1="342.5" x2="51.2" y2="342.5" stroke="#333" stroke-width="1.1"/>
<text transform="translate(44.7 345.7) scale(1 1.06)" text-anchor="end" class="tk">0.9</text>
<line x1="47.6" y1="367.0" x2="51.2" y2="367.0" stroke="#333" stroke-width="1.1"/>
<text transform="translate(44.7 370.2) scale(1 1.06)" text-anchor="end" class="tk">0.6</text>
<line x1="47.6" y1="391.5" x2="51.2" y2="391.5" stroke="#333" stroke-width="1.1"/>
<text transform="translate(44.7 394.7) scale(1 1.06)" text-anchor="end" class="tk">0.3</text>
<line x1="47.6" y1="416.0" x2="51.2" y2="416.0" stroke="#333" stroke-width="1.1"/>
<text transform="translate(44.7 419.2) scale(1 1.06)" text-anchor="end" class="tk">0.0</text>
<line x1="47.6" y1="440.5" x2="51.2" y2="440.5" stroke="#333" stroke-width="1.1"/>
<text transform="translate(44.7 443.7) scale(1 1.06)" text-anchor="end" class="tk">−0.3</text>
<line x1="47.6" y1="465.0" x2="51.2" y2="465.0" stroke="#333" stroke-width="1.1"/>
<text transform="translate(44.7 468.2) scale(1 1.06)" text-anchor="end" class="tk">−0.6</text>
<rect x="300.2" y="292.3" width="10.6" height="189.1" fill="url(#cbg)" stroke="#2a2a2a" stroke-opacity="0.45" stroke-width="0.7"/>
<line x1="310.8" y1="292.3" x2="314.3" y2="292.3" stroke="#555" stroke-width="1"/>
<text transform="translate(318.1 295.7) scale(1 1.06)" class="tk">3.5</text>
<line x1="310.8" y1="309.5" x2="314.3" y2="309.5" stroke="#555" stroke-width="1"/>
<text transform="translate(318.1 312.9) scale(1 1.06)" class="tk">3.0</text>
<line x1="310.8" y1="326.7" x2="314.3" y2="326.7" stroke="#555" stroke-width="1"/>
<text transform="translate(318.1 330.1) scale(1 1.06)" class="tk">2.5</text>
<line x1="310.8" y1="343.9" x2="314.3" y2="343.9" stroke="#555" stroke-width="1"/>
<text transform="translate(318.1 347.3) scale(1 1.06)" class="tk">2.0</text>
<line x1="310.8" y1="361.1" x2="314.3" y2="361.1" stroke="#555" stroke-width="1"/>
<text transform="translate(318.1 364.5) scale(1 1.06)" class="tk">1.5</text>
<line x1="310.8" y1="378.3" x2="314.3" y2="378.3" stroke="#555" stroke-width="1"/>
<text transform="translate(318.1 381.7) scale(1 1.06)" class="tk">1.0</text>
<line x1="310.8" y1="395.4" x2="314.3" y2="395.4" stroke="#555" stroke-width="1"/>
<text transform="translate(318.1 398.8) scale(1 1.06)" class="tk">0.5</text>
<line x1="310.8" y1="412.6" x2="314.3" y2="412.6" stroke="#555" stroke-width="1"/>
<text transform="translate(318.1 416.0) scale(1 1.06)" class="tk">0.0</text>
<line x1="310.8" y1="429.8" x2="314.3" y2="429.8" stroke="#555" stroke-width="1"/>
<text transform="translate(318.1 433.2) scale(1 1.06)" class="tk">−0.5</text>
<line x1="310.8" y1="447.0" x2="314.3" y2="447.0" stroke="#555" stroke-width="1"/>
<text transform="translate(318.1 450.4) scale(1 1.06)" class="tk">−1.0</text>
<line x1="310.8" y1="464.2" x2="314.3" y2="464.2" stroke="#555" stroke-width="1"/>
<text transform="translate(318.1 467.6) scale(1 1.06)" class="tk">−1.5</text>
<line x1="310.8" y1="481.4" x2="314.3" y2="481.4" stroke="#555" stroke-width="1"/>
<text transform="translate(318.1 484.8) scale(1 1.06)" class="tk">−2.0</text>
<text x="285.7" y="282.4" class="b" style="font-size:13.2px" textLength="46.0" lengthAdjust="spacingAndGlyphs">SPEI03</text>
<text x="51.1" y="284.8" class="b" style="font-size:17px">(c)</text>
<text x="148.2" y="515.6" class="b" style="font-size:12.1px" textLength="41.0" lengthAdjust="spacingAndGlyphs">SPEI03</text>
<text transform="translate(19.8 384.2) rotate(-90)" x="-55" class="b" style="font-size:17.9px" textLength="110" lengthAdjust="spacingAndGlyphs">SHAP Values</text>
<circle cx="462.2" cy="428.3" r="2.75" fill="url(#g148)"/>
<circle cx="598.5" cy="438.0" r="2.75" fill="url(#g185)"/>
<circle cx="563.7" cy="315.2" r="2.75" fill="url(#g157)"/>
<circle cx="496.5" cy="401.1" r="2.75" fill="url(#g21)"/>
<circle cx="519.2" cy="414.0" r="2.75" fill="url(#g154)"/>
<circle cx="528.7" cy="393.3" r="2.75" fill="url(#g147)"/>
<circle cx="431.3" cy="417.1" r="2.75" fill="url(#g61)"/>
<circle cx="426.8" cy="376.4" r="2.75" fill="url(#g55)"/>
<circle cx="563.0" cy="353.9" r="2.75" fill="url(#g157)"/>
<circle cx="474.3" cy="426.2" r="2.75" fill="url(#g104)"/>
<circle cx="407.4" cy="356.0" r="2.75" fill="url(#g100)"/>
<circle cx="448.7" cy="411.6" r="2.75" fill="url(#g79)"/>
<circle cx="545.5" cy="353.9" r="2.75" fill="url(#g186)"/>
<circle cx="516.6" cy="383.0" r="2.75" fill="url(#g109)"/>
<circle cx="514.7" cy="385.9" r="2.75" fill="url(#g109)"/>
<circle cx="518.2" cy="385.6" r="2.75" fill="url(#g154)"/>
<circle cx="595.0" cy="421.6" r="2.75" fill="url(#g187)"/>
<circle cx="486.4" cy="428.0" r="2.75" fill="url(#g161)"/>
<circle cx="590.5" cy="443.3" r="2.75" fill="url(#g184)"/>
<circle cx="501.2" cy="385.6" r="2.75" fill="url(#g188)"/>
<circle cx="478.9" cy="412.4" r="2.75" fill="url(#g155)"/>
<circle cx="548.7" cy="384.6" r="2.75" fill="url(#g189)"/>
<circle cx="473.3" cy="405.9" r="2.75" fill="url(#g104)"/>
<circle cx="542.2" cy="328.1" r="2.75" fill="url(#g186)"/>
<circle cx="505.0" cy="361.4" r="2.75" fill="url(#g188)"/>
<circle cx="483.2" cy="426.3" r="2.75" fill="url(#g150)"/>
<circle cx="571.3" cy="366.8" r="2.75" fill="url(#g102)"/>
<circle cx="522.8" cy="398.6" r="2.75" fill="url(#g136)"/>
<circle cx="470.0" cy="355.3" r="2.75" fill="url(#g138)"/>
<circle cx="543.3" cy="322.5" r="2.75" fill="url(#g186)"/>
<circle cx="462.5" cy="364.7" r="2.75" fill="url(#g74)"/>
<circle cx="553.4" cy="429.2" r="2.75" fill="url(#g66)"/>
<circle cx="528.7" cy="369.4" r="2.75" fill="url(#g147)"/>
<circle cx="455.6" cy="439.3" r="2.75" fill="url(#g99)"/>
<circle cx="566.8" cy="371.3" r="2.75" fill="url(#g157)"/>
<circle cx="566.0" cy="396.0" r="2.75" fill="url(#g157)"/>
<circle cx="468.0" cy="368.4" r="2.75" fill="url(#g138)"/>
<circle cx="563.0" cy="324.3" r="2.75" fill="url(#g157)"/>
<circle cx="410.0" cy="378.0" r="2.75" fill="url(#g100)"/>
<circle cx="420.6" cy="398.1" r="2.75" fill="url(#g143)"/>
<circle cx="475.0" cy="398.4" r="2.75" fill="url(#g94)"/>
<circle cx="456.0" cy="377.9" r="2.75" fill="url(#g99)"/>
<circle cx="499.2" cy="408.3" r="2.75" fill="url(#g188)"/>
<circle cx="410.0" cy="359.0" r="2.75" fill="url(#g100)"/>
<circle cx="478.1" cy="436.7" r="2.75" fill="url(#g171)"/>
<circle cx="427.6" cy="406.3" r="2.75" fill="url(#g61)"/>
<circle cx="487.3" cy="418.6" r="2.75" fill="url(#g161)"/>
<circle cx="499.8" cy="400.2" r="2.75" fill="url(#g188)"/>
<circle cx="480.0" cy="379.0" r="2.75" fill="url(#g155)"/>
<circle cx="482.4" cy="388.2" r="2.75" fill="url(#g150)"/>
<circle cx="501.6" cy="374.4" r="2.75" fill="url(#g188)"/>
<circle cx="425.4" cy="417.8" r="2.75" fill="url(#g55)"/>
<circle cx="546.3" cy="336.4" r="2.75" fill="url(#g189)"/>
<circle cx="464.5" cy="378.4" r="2.75" fill="url(#g3)"/>
<circle cx="499.1" cy="381.0" r="2.75" fill="url(#g188)"/>
<circle cx="464.3" cy="364.3" r="2.75" fill="url(#g3)"/>
<circle cx="520.1" cy="377.6" r="2.75" fill="url(#g136)"/>
<circle cx="486.3" cy="436.2" r="2.75" fill="url(#g176)"/>
<circle cx="427.2" cy="409.9" r="2.75" fill="url(#g61)"/>
<circle cx="485.0" cy="439.6" r="2.75" fill="url(#g150)"/>
<circle cx="432.4" cy="399.2" r="2.75" fill="url(#g141)"/>
<circle cx="572.7" cy="414.2" r="2.75" fill="url(#g102)"/>
<circle cx="427.3" cy="391.5" r="2.75" fill="url(#g61)"/>
<circle cx="414.0" cy="390.0" r="2.75" fill="url(#g100)"/>
<circle cx="451.0" cy="405.1" r="2.75" fill="url(#g79)"/>
<circle cx="455.0" cy="433.8" r="2.75" fill="url(#g99)"/>
<circle cx="480.5" cy="425.1" r="2.75" fill="url(#g155)"/>
<circle cx="483.2" cy="379.2" r="2.75" fill="url(#g150)"/>
<circle cx="479.0" cy="376.3" r="2.75" fill="url(#g155)"/>
<circle cx="520.5" cy="363.0" r="2.75" fill="url(#g136)"/>
<circle cx="457.0" cy="381.7" r="2.75" fill="url(#g107)"/>
<circle cx="479.9" cy="372.8" r="2.75" fill="url(#g155)"/>
<circle cx="578.0" cy="351.8" r="2.75" fill="url(#g190)"/>
<circle cx="472.4" cy="375.9" r="2.75" fill="url(#g104)"/>
<circle cx="466.2" cy="382.2" r="2.75" fill="url(#g3)"/>
<circle cx="429.4" cy="420.7" r="2.75" fill="url(#g61)"/>
<circle cx="469.3" cy="365.5" r="2.75" fill="url(#g138)"/>
<circle cx="432.4" cy="387.8" r="2.75" fill="url(#g141)"/>
<circle cx="431.8" cy="414.3" r="2.75" fill="url(#g61)"/>
<circle cx="505.1" cy="404.7" r="2.75" fill="url(#g188)"/>
<circle cx="505.9" cy="412.6" r="2.75" fill="url(#g188)"/>
<circle cx="566.0" cy="326.6" r="2.75" fill="url(#g157)"/>
<circle cx="587.9" cy="404.4" r="2.75" fill="url(#g116)"/>
<circle cx="437.6" cy="411.5" r="2.75" fill="url(#g163)"/>
<circle cx="577.2" cy="406.2" r="2.75" fill="url(#g191)"/>
<circle cx="545.8" cy="377.0" r="2.75" fill="url(#g186)"/>
<circle cx="487.6" cy="399.9" r="2.75" fill="url(#g161)"/>
<circle cx="591.8" cy="448.6" r="2.75" fill="url(#g184)"/>
<circle cx="473.7" cy="403.1" r="2.75" fill="url(#g104)"/>
<circle cx="474.7" cy="385.9" r="2.75" fill="url(#g104)"/>
<circle cx="467.2" cy="379.0" r="2.75" fill="url(#g138)"/>
<circle cx="474.1" cy="408.9" r="2.75" fill="url(#g104)"/>
<circle cx="502.2" cy="431.6" r="2.75" fill="url(#g188)"/>
<circle cx="458.1" cy="408.5" r="2.75" fill="url(#g107)"/>
<circle cx="543.0" cy="383.7" r="2.75" fill="url(#g186)"/>
<circle cx="454.5" cy="428.1" r="2.75" fill="url(#g99)"/>
<circle cx="487.2" cy="405.4" r="2.75" fill="url(#g161)"/>
<circle cx="429.2" cy="384.9" r="2.75" fill="url(#g61)"/>
<circle cx="500.6" cy="371.1" r="2.75" fill="url(#g188)"/>
<circle cx="470.6" cy="424.6" r="2.75" fill="url(#g138)"/>
<circle cx="470.5" cy="414.4" r="2.75" fill="url(#g138)"/>
<circle cx="444.8" cy="420.5" r="2.75" fill="url(#g146)"/>
<circle cx="463.1" cy="382.7" r="2.75" fill="url(#g64)"/>
<circle cx="578.6" cy="391.6" r="2.75" fill="url(#g192)"/>
<circle cx="560.0" cy="392.0" r="2.75" fill="url(#g193)"/>
<circle cx="524.0" cy="413.1" r="2.75" fill="url(#g174)"/>
<circle cx="520.5" cy="356.9" r="2.75" fill="url(#g136)"/>
<circle cx="555.0" cy="385.0" r="2.75" fill="url(#g66)"/>
<circle cx="565.0" cy="410.0" r="2.75" fill="url(#g157)"/>
<circle cx="562.0" cy="380.0" r="2.75" fill="url(#g157)"/>
<circle cx="516.7" cy="367.5" r="2.75" fill="url(#g109)"/>
<circle cx="464.6" cy="354.0" r="2.75" fill="url(#g3)"/>
<circle cx="560.7" cy="337.2" r="2.75" fill="url(#g193)"/>
<circle cx="501.0" cy="436.4" r="2.75" fill="url(#g188)"/>
<circle cx="469.8" cy="380.1" r="2.75" fill="url(#g138)"/>
<circle cx="462.7" cy="401.6" r="2.75" fill="url(#g164)"/>
<circle cx="552.4" cy="373.6" r="2.75" fill="url(#g66)"/>
<circle cx="443.0" cy="414.7" r="2.75" fill="url(#g77)"/>
<circle cx="417.0" cy="398.0" r="2.75" fill="url(#g100)"/>
<circle cx="508.6" cy="408.0" r="2.75" fill="url(#g194)"/>
<circle cx="406.2" cy="365.1" r="2.75" fill="url(#g100)"/>
<circle cx="502.2" cy="414.3" r="2.75" fill="url(#g188)"/>
<circle cx="450.9" cy="422.3" r="2.75" fill="url(#g79)"/>
<circle cx="514.9" cy="395.7" r="2.75" fill="url(#g109)"/>
<circle cx="439.3" cy="434.5" r="2.75" fill="url(#g163)"/>
<circle cx="458.9" cy="426.9" r="2.75" fill="url(#g107)"/>
<circle cx="421.5" cy="401.6" r="2.75" fill="url(#g143)"/>
<circle cx="485.7" cy="393.1" r="2.75" fill="url(#g150)"/>
<circle cx="483.1" cy="420.6" r="2.75" fill="url(#g150)"/>
<circle cx="460.4" cy="431.9" r="2.75" fill="url(#g107)"/>
<circle cx="457.2" cy="393.8" r="2.75" fill="url(#g107)"/>
<circle cx="534.2" cy="390.2" r="2.75" fill="url(#g80)"/>
<circle cx="481.9" cy="376.1" r="2.75" fill="url(#g155)"/>
<circle cx="508.8" cy="371.9" r="2.75" fill="url(#g194)"/>
<circle cx="466.1" cy="402.8" r="2.75" fill="url(#g3)"/>
<circle cx="457.1" cy="429.5" r="2.75" fill="url(#g107)"/>
<circle cx="484.6" cy="415.1" r="2.75" fill="url(#g150)"/>
<circle cx="423.7" cy="397.6" r="2.75" fill="url(#g55)"/>
<circle cx="586.0" cy="379.7" r="2.75" fill="url(#g195)"/>
<circle cx="481.9" cy="457.6" r="2.75" fill="url(#g155)"/>
<circle cx="472.9" cy="383.7" r="2.75" fill="url(#g104)"/>
<circle cx="421.2" cy="390.1" r="2.75" fill="url(#g143)"/>
<circle cx="531.2" cy="392.8" r="2.75" fill="url(#g151)"/>
<circle cx="467.7" cy="389.4" r="2.75" fill="url(#g138)"/>
<circle cx="449.7" cy="425.0" r="2.75" fill="url(#g79)"/>
<circle cx="521.4" cy="396.1" r="2.75" fill="url(#g136)"/>
<circle cx="549.6" cy="419.7" r="2.75" fill="url(#g189)"/>
<circle cx="426.8" cy="421.7" r="2.75" fill="url(#g55)"/>
<circle cx="466.1" cy="371.3" r="2.75" fill="url(#g3)"/>
<circle cx="454.4" cy="406.5" r="2.75" fill="url(#g99)"/>
<circle cx="451.5" cy="399.3" r="2.75" fill="url(#g79)"/>
<circle cx="458.6" cy="456.2" r="2.75" fill="url(#g107)"/>
<circle cx="475.4" cy="370.2" r="2.75" fill="url(#g94)"/>
<circle cx="554.4" cy="402.7" r="2.75" fill="url(#g66)"/>
<circle cx="456.8" cy="412.6" r="2.75" fill="url(#g99)"/>
<circle cx="506.0" cy="425.5" r="2.75" fill="url(#g188)"/>
<circle cx="543.0" cy="410.0" r="2.75" fill="url(#g186)"/>
<circle cx="579.9" cy="367.7" r="2.75" fill="url(#g196)"/>
<circle cx="465.5" cy="359.2" r="2.75" fill="url(#g3)"/>
<circle cx="575.1" cy="345.5" r="2.75" fill="url(#g165)"/>
<circle cx="575.4" cy="345.2" r="2.75" fill="url(#g165)"/>
<circle cx="463.5" cy="389.2" r="2.75" fill="url(#g26)"/>
<circle cx="456.9" cy="436.6" r="2.75" fill="url(#g107)"/>
<circle cx="437.0" cy="412.9" r="2.75" fill="url(#g141)"/>
<circle cx="462.2" cy="406.0" r="2.75" fill="url(#g148)"/>
<circle cx="545.5" cy="371.3" r="2.75" fill="url(#g186)"/>
<circle cx="402.8" cy="356.0" r="2.75" fill="url(#g100)"/>
<circle cx="521.2" cy="375.9" r="2.75" fill="url(#g136)"/>
<circle cx="405.1" cy="360.5" r="2.75" fill="url(#g100)"/>
<circle cx="461.5" cy="392.9" r="2.75" fill="url(#g148)"/>
<circle cx="541.0" cy="392.0" r="2.75" fill="url(#g145)"/>
<circle cx="470.6" cy="398.2" r="2.75" fill="url(#g138)"/>
<circle cx="526.7" cy="378.5" r="2.75" fill="url(#g147)"/>
<circle cx="518.4" cy="397.2" r="2.75" fill="url(#g154)"/>
<circle cx="577.4" cy="366.8" r="2.75" fill="url(#g197)"/>
<circle cx="438.5" cy="419.3" r="2.75" fill="url(#g163)"/>
<circle cx="502.0" cy="419.2" r="2.75" fill="url(#g188)"/>
<circle cx="446.5" cy="408.8" r="2.75" fill="url(#g146)"/>
<circle cx="537.3" cy="388.4" r="2.75" fill="url(#g145)"/>
<circle cx="575.0" cy="380.0" r="2.75" fill="url(#g165)"/>
<circle cx="547.8" cy="360.0" r="2.75" fill="url(#g189)"/>
<circle cx="603.0" cy="425.6" r="2.75" fill="url(#g198)"/>
<circle cx="419.9" cy="385.6" r="2.75" fill="url(#g143)"/>
<circle cx="495.3" cy="424.9" r="2.75" fill="url(#g21)"/>
<circle cx="543.3" cy="343.3" r="2.75" fill="url(#g186)"/>
<circle cx="442.1" cy="408.4" r="2.75" fill="url(#g77)"/>
<circle cx="508.8" cy="375.4" r="2.75" fill="url(#g194)"/>
<circle cx="560.7" cy="352.4" r="2.75" fill="url(#g193)"/>
<circle cx="421.1" cy="395.1" r="2.75" fill="url(#g143)"/>
<circle cx="413.1" cy="385.6" r="2.75" fill="url(#g100)"/>
<circle cx="517.1" cy="379.9" r="2.75" fill="url(#g154)"/>
<circle cx="405.1" cy="350.3" r="2.75" fill="url(#g100)"/>
<circle cx="454.7" cy="401.4" r="2.75" fill="url(#g99)"/>
<circle cx="461.4" cy="423.9" r="2.75" fill="url(#g148)"/>
<circle cx="451.5" cy="418.3" r="2.75" fill="url(#g79)"/>
<circle cx="521.9" cy="391.7" r="2.75" fill="url(#g136)"/>
<circle cx="525.0" cy="403.6" r="2.75" fill="url(#g147)"/>
<circle cx="459.5" cy="402.6" r="2.75" fill="url(#g107)"/>
<circle cx="533.0" cy="381.0" r="2.75" fill="url(#g151)"/>
<circle cx="520.2" cy="401.7" r="2.75" fill="url(#g136)"/>
<circle cx="423.5" cy="410.2" r="2.75" fill="url(#g55)"/>
<circle cx="415.4" cy="375.3" r="2.75" fill="url(#g100)"/>
<circle cx="541.0" cy="375.1" r="2.75" fill="url(#g145)"/>
<circle cx="438.7" cy="407.5" r="2.75" fill="url(#g163)"/>
<circle cx="610.4" cy="419.5" r="2.75" fill="url(#g0)"/>
<circle cx="573.3" cy="422.1" r="2.75" fill="url(#g199)"/>
<circle cx="454.3" cy="388.4" r="2.75" fill="url(#g99)"/>
<circle cx="477.1" cy="387.3" r="2.75" fill="url(#g171)"/>
<circle cx="495.1" cy="428.7" r="2.75" fill="url(#g21)"/>
<circle cx="551.0" cy="380.0" r="2.75" fill="url(#g66)"/>
<circle cx="523.4" cy="390.3" r="2.75" fill="url(#g136)"/>
<circle cx="485.9" cy="390.4" r="2.75" fill="url(#g150)"/>
<circle cx="420.0" cy="401.3" r="2.75" fill="url(#g143)"/>
<circle cx="447.5" cy="431.8" r="2.75" fill="url(#g146)"/>
<circle cx="456.5" cy="419.1" r="2.75" fill="url(#g99)"/>
<circle cx="521.8" cy="379.7" r="2.75" fill="url(#g136)"/>
<circle cx="595.8" cy="436.7" r="2.75" fill="url(#g200)"/>
<circle cx="462.5" cy="377.2" r="2.75" fill="url(#g74)"/>
<circle cx="418.8" cy="424.3" r="2.75" fill="url(#g122)"/>
<circle cx="424.9" cy="407.6" r="2.75" fill="url(#g55)"/>
<circle cx="510.0" cy="399.5" r="2.75" fill="url(#g159)"/>
<circle cx="558.2" cy="423.5" r="2.75" fill="url(#g193)"/>
<circle cx="482.3" cy="399.9" r="2.75" fill="url(#g155)"/>
<circle cx="474.9" cy="429.3" r="2.75" fill="url(#g94)"/>
<circle cx="544.0" cy="363.8" r="2.75" fill="url(#g186)"/>
<circle cx="424.6" cy="375.5" r="2.75" fill="url(#g55)"/>
<circle cx="469.9" cy="357.7" r="2.75" fill="url(#g138)"/>
<circle cx="458.8" cy="422.6" r="2.75" fill="url(#g107)"/>
<circle cx="468.5" cy="396.6" r="2.75" fill="url(#g138)"/>
<circle cx="476.4" cy="423.1" r="2.75" fill="url(#g201)"/>
<circle cx="469.2" cy="383.5" r="2.75" fill="url(#g138)"/>
<circle cx="437.2" cy="392.2" r="2.75" fill="url(#g141)"/>
<circle cx="464.2" cy="368.0" r="2.75" fill="url(#g3)"/>
<circle cx="462.6" cy="410.2" r="2.75" fill="url(#g105)"/>
<circle cx="492.9" cy="365.9" r="2.75" fill="url(#g21)"/>
<circle cx="466.8" cy="374.9" r="2.75" fill="url(#g3)"/>
<circle cx="442.7" cy="405.0" r="2.75" fill="url(#g77)"/>
<circle cx="504.2" cy="398.2" r="2.75" fill="url(#g188)"/>
<circle cx="523.7" cy="403.3" r="2.75" fill="url(#g136)"/>
<circle cx="569.0" cy="340.2" r="2.75" fill="url(#g102)"/>
<circle cx="424.8" cy="402.3" r="2.75" fill="url(#g55)"/>
<circle cx="550.6" cy="396.0" r="2.75" fill="url(#g113)"/>
<circle cx="436.3" cy="425.8" r="2.75" fill="url(#g141)"/>
<circle cx="550.1" cy="369.1" r="2.75" fill="url(#g189)"/>
<circle cx="573.3" cy="386.3" r="2.75" fill="url(#g199)"/>
<circle cx="469.3" cy="400.7" r="2.75" fill="url(#g138)"/>
<circle cx="501.5" cy="456.0" r="2.75" fill="url(#g188)"/>
<circle cx="486.0" cy="397.6" r="2.75" fill="url(#g150)"/>
<circle cx="466.6" cy="362.0" r="2.75" fill="url(#g3)"/>
<circle cx="455.3" cy="424.4" r="2.75" fill="url(#g99)"/>
<circle cx="570.6" cy="400.9" r="2.75" fill="url(#g102)"/>
<circle cx="448.2" cy="398.6" r="2.75" fill="url(#g79)"/>
<circle cx="441.6" cy="418.6" r="2.75" fill="url(#g76)"/>
<circle cx="480.3" cy="420.2" r="2.75" fill="url(#g155)"/>
<circle cx="589.2" cy="386.3" r="2.75" fill="url(#g116)"/>
<circle cx="566.0" cy="385.0" r="2.75" fill="url(#g157)"/>
<circle cx="487.2" cy="449.6" r="2.75" fill="url(#g161)"/>
<circle cx="476.7" cy="404.6" r="2.75" fill="url(#g201)"/>
<circle cx="459.8" cy="378.9" r="2.75" fill="url(#g107)"/>
<circle cx="442.0" cy="423.6" r="2.75" fill="url(#g77)"/>
<circle cx="419.9" cy="439.8" r="2.75" fill="url(#g143)"/>
<circle cx="422.7" cy="405.8" r="2.75" fill="url(#g55)"/>
<circle cx="573.3" cy="371.7" r="2.75" fill="url(#g199)"/>
<circle cx="472.9" cy="419.1" r="2.75" fill="url(#g104)"/>
<circle cx="483.3" cy="436.8" r="2.75" fill="url(#g150)"/>
<circle cx="427.2" cy="412.3" r="2.75" fill="url(#g61)"/>
<circle cx="514.3" cy="381.0" r="2.75" fill="url(#g202)"/>
<circle cx="425.6" cy="431.1" r="2.75" fill="url(#g55)"/>
<circle cx="409.7" cy="382.1" r="2.75" fill="url(#g100)"/>
<circle cx="565.3" cy="360.7" r="2.75" fill="url(#g157)"/>
<circle cx="480.9" cy="430.7" r="2.75" fill="url(#g155)"/>
<circle cx="578.6" cy="418.1" r="2.75" fill="url(#g192)"/>
<circle cx="535.4" cy="371.3" r="2.75" fill="url(#g92)"/>
<circle cx="484.0" cy="381.8" r="2.75" fill="url(#g150)"/>
<circle cx="412.0" cy="380.5" r="2.75" fill="url(#g100)"/>
<circle cx="472.2" cy="388.6" r="2.75" fill="url(#g104)"/>
<circle cx="494.5" cy="417.9" r="2.75" fill="url(#g21)"/>
<circle cx="480.4" cy="409.6" r="2.75" fill="url(#g155)"/>
<circle cx="450.9" cy="387.6" r="2.75" fill="url(#g79)"/>
<circle cx="432.9" cy="394.6" r="2.75" fill="url(#g141)"/>
<circle cx="476.6" cy="382.2" r="2.75" fill="url(#g201)"/>
<circle cx="501.9" cy="365.5" r="2.75" fill="url(#g188)"/>
<circle cx="522.7" cy="382.1" r="2.75" fill="url(#g136)"/>
<circle cx="498.8" cy="415.3" r="2.75" fill="url(#g188)"/>
<circle cx="561.5" cy="332.6" r="2.75" fill="url(#g203)"/>
<circle cx="494.0" cy="392.6" r="2.75" fill="url(#g21)"/>
<circle cx="469.9" cy="360.4" r="2.75" fill="url(#g138)"/>
<circle cx="423.4" cy="387.5" r="2.75" fill="url(#g55)"/>
<circle cx="495.1" cy="367.3" r="2.75" fill="url(#g21)"/>
<circle cx="440.0" cy="430.6" r="2.75" fill="url(#g163)"/>
<circle cx="415.4" cy="412.9" r="2.75" fill="url(#g100)"/>
<circle cx="540.0" cy="400.0" r="2.75" fill="url(#g145)"/>
<circle cx="528.6" cy="385.5" r="2.75" fill="url(#g147)"/>
<circle cx="571.3" cy="359.2" r="2.75" fill="url(#g102)"/>
<circle cx="519.6" cy="393.2" r="2.75" fill="url(#g136)"/>
<circle cx="477.9" cy="440.9" r="2.75" fill="url(#g171)"/>
<circle cx="600.3" cy="410.7" r="2.75" fill="url(#g204)"/>
<circle cx="473.6" cy="423.7" r="2.75" fill="url(#g104)"/>
<circle cx="416.0" cy="407.0" r="2.75" fill="url(#g100)"/>
<circle cx="493.5" cy="386.5" r="2.75" fill="url(#g21)"/>
<circle cx="482.6" cy="433.4" r="2.75" fill="url(#g150)"/>
<circle cx="526.1" cy="382.8" r="2.75" fill="url(#g147)"/>
<circle cx="526.1" cy="394.7" r="2.75" fill="url(#g147)"/>
<circle cx="508.2" cy="404.1" r="2.75" fill="url(#g194)"/>
<circle cx="415.4" cy="394.7" r="2.75" fill="url(#g100)"/>
<circle cx="597.1" cy="432.7" r="2.75" fill="url(#g205)"/>
<circle cx="429.8" cy="418.4" r="2.75" fill="url(#g61)"/>
<circle cx="548.0" cy="392.0" r="2.75" fill="url(#g189)"/>
<circle cx="500.8" cy="393.8" r="2.75" fill="url(#g188)"/>
<circle cx="450.8" cy="429.9" r="2.75" fill="url(#g79)"/>
<circle cx="509.1" cy="384.0" r="2.75" fill="url(#g194)"/>
<circle cx="540.1" cy="376.1" r="2.75" fill="url(#g145)"/>
<circle cx="434.7" cy="434.3" r="2.75" fill="url(#g141)"/>
<circle cx="525.5" cy="397.7" r="2.75" fill="url(#g147)"/>
<circle cx="480.4" cy="438.6" r="2.75" fill="url(#g155)"/>
<circle cx="448.9" cy="391.3" r="2.75" fill="url(#g79)"/>
<circle cx="450.2" cy="408.5" r="2.75" fill="url(#g79)"/>
<circle cx="498.7" cy="420.6" r="2.75" fill="url(#g188)"/>
<circle cx="478.8" cy="427.2" r="2.75" fill="url(#g155)"/>
<circle cx="570.6" cy="407.5" r="2.75" fill="url(#g102)"/>
<circle cx="528.7" cy="428.3" r="2.75" fill="url(#g147)"/>
<circle cx="610.9" cy="405.4" r="2.75" fill="url(#g0)"/>
<circle cx="431.3" cy="414.0" r="2.75" fill="url(#g61)"/>
<circle cx="570.6" cy="335.7" r="2.75" fill="url(#g102)"/>
<circle cx="433.5" cy="403.7" r="2.75" fill="url(#g141)"/>
<circle cx="429.0" cy="385.6" r="2.75" fill="url(#g61)"/>
<circle cx="494.2" cy="410.2" r="2.75" fill="url(#g21)"/>
<circle cx="482.2" cy="394.5" r="2.75" fill="url(#g155)"/>
<circle cx="472.8" cy="371.3" r="2.75" fill="url(#g104)"/>
<circle cx="499.2" cy="461.6" r="2.75" fill="url(#g188)"/>
<circle cx="466.6" cy="366.1" r="2.75" fill="url(#g3)"/>
<circle cx="478.1" cy="415.8" r="2.75" fill="url(#g171)"/>
<circle cx="524.3" cy="383.6" r="2.75" fill="url(#g174)"/>
<circle cx="505.2" cy="387.5" r="2.75" fill="url(#g188)"/>
<circle cx="444.1" cy="425.1" r="2.75" fill="url(#g56)"/>
<circle cx="499.3" cy="428.8" r="2.75" fill="url(#g188)"/>
<circle cx="593.2" cy="431.4" r="2.75" fill="url(#g187)"/>
<circle cx="496.2" cy="404.3" r="2.75" fill="url(#g21)"/>
<circle cx="547.0" cy="357.0" r="2.75" fill="url(#g189)"/>
<circle cx="457.7" cy="375.1" r="2.75" fill="url(#g107)"/>
<circle cx="431.9" cy="408.2" r="2.75" fill="url(#g61)"/>
<circle cx="585.2" cy="411.5" r="2.75" fill="url(#g195)"/>
<circle cx="533.4" cy="361.5" r="2.75" fill="url(#g151)"/>
<circle cx="434.7" cy="416.5" r="2.75" fill="url(#g141)"/>
<circle cx="474.8" cy="379.7" r="2.75" fill="url(#g94)"/>
<circle cx="443.9" cy="400.4" r="2.75" fill="url(#g56)"/>
<circle cx="494.9" cy="377.2" r="2.75" fill="url(#g21)"/>
<circle cx="578.6" cy="400.9" r="2.75" fill="url(#g192)"/>
<circle cx="556.0" cy="396.0" r="2.75" fill="url(#g28)"/>
<circle cx="504.6" cy="377.1" r="2.75" fill="url(#g188)"/>
<circle cx="546.8" cy="402.7" r="2.75" fill="url(#g189)"/>
<circle cx="405.0" cy="380.0" r="2.75" fill="url(#g100)"/>
<circle cx="477.2" cy="373.1" r="2.75" fill="url(#g171)"/>
<circle cx="610.4" cy="412.8" r="2.75" fill="url(#g0)"/>
<circle cx="428.0" cy="402.0" r="2.75" fill="url(#g61)"/>
<circle cx="529.6" cy="410.3" r="2.75" fill="url(#g147)"/>
<circle cx="420.5" cy="414.9" r="2.75" fill="url(#g143)"/>
<circle cx="507.6" cy="422.2" r="2.75" fill="url(#g194)"/>
<circle cx="516.4" cy="400.0" r="2.75" fill="url(#g109)"/>
<circle cx="414.2" cy="362.8" r="2.75" fill="url(#g100)"/>
<circle cx="470.9" cy="369.1" r="2.75" fill="url(#g138)"/>
<circle cx="504.8" cy="369.6" r="2.75" fill="url(#g188)"/>
<circle cx="459.7" cy="412.1" r="2.75" fill="url(#g107)"/>
<circle cx="503.1" cy="381.3" r="2.75" fill="url(#g188)"/>
<circle cx="469.4" cy="406.6" r="2.75" fill="url(#g138)"/>
<circle cx="500.1" cy="403.8" r="2.75" fill="url(#g188)"/>
<circle cx="588.6" cy="393.7" r="2.75" fill="url(#g116)"/>
<circle cx="416.5" cy="402.6" r="2.75" fill="url(#g100)"/>
<circle cx="427.5" cy="412.7" r="2.75" fill="url(#g61)"/>
<circle cx="499.6" cy="412.0" r="2.75" fill="url(#g188)"/>
<circle cx="442.4" cy="404.3" r="2.75" fill="url(#g77)"/>
<circle cx="464.8" cy="384.4" r="2.75" fill="url(#g3)"/>
<circle cx="424.6" cy="413.2" r="2.75" fill="url(#g55)"/>
<circle cx="427.0" cy="399.1" r="2.75" fill="url(#g61)"/>
<circle cx="452.1" cy="412.8" r="2.75" fill="url(#g79)"/>
<circle cx="480.7" cy="396.5" r="2.75" fill="url(#g155)"/>
<circle cx="477.7" cy="395.4" r="2.75" fill="url(#g171)"/>
<circle cx="586.0" cy="419.5" r="2.75" fill="url(#g195)"/>
<circle cx="443.8" cy="418.5" r="2.75" fill="url(#g56)"/>
<circle cx="538.7" cy="364.5" r="2.75" fill="url(#g145)"/>
<circle cx="515.2" cy="375.1" r="2.75" fill="url(#g109)"/>
<circle cx="472.6" cy="394.8" r="2.75" fill="url(#g104)"/>
<circle cx="521.8" cy="404.2" r="2.75" fill="url(#g136)"/>
<circle cx="583.9" cy="392.9" r="2.75" fill="url(#g97)"/>
<circle cx="475.6" cy="420.3" r="2.75" fill="url(#g94)"/>
<circle cx="455.3" cy="445.6" r="2.75" fill="url(#g99)"/>
<circle cx="445.7" cy="412.7" r="2.75" fill="url(#g146)"/>
<circle cx="468.5" cy="386.5" r="2.75" fill="url(#g138)"/>
<circle cx="508.2" cy="363.6" r="2.75" fill="url(#g194)"/>
<circle cx="482.9" cy="379.1" r="2.75" fill="url(#g150)"/>
<circle cx="435.9" cy="432.3" r="2.75" fill="url(#g141)"/>
<circle cx="422.9" cy="428.6" r="2.75" fill="url(#g55)"/>
<circle cx="425.6" cy="426.6" r="2.75" fill="url(#g55)"/>
<circle cx="455.9" cy="397.4" r="2.75" fill="url(#g99)"/>
<circle cx="514.6" cy="392.4" r="2.75" fill="url(#g109)"/>
<circle cx="611.7" cy="410.2" r="2.75" fill="url(#g0)"/>
<circle cx="516.9" cy="388.7" r="2.75" fill="url(#g109)"/>
<circle cx="474.5" cy="373.8" r="2.75" fill="url(#g104)"/>
<circle cx="552.0" cy="390.0" r="2.75" fill="url(#g66)"/>
<circle cx="531.8" cy="413.9" r="2.75" fill="url(#g151)"/>
<circle cx="424.2" cy="393.9" r="2.75" fill="url(#g55)"/>
<circle cx="459.7" cy="419.6" r="2.75" fill="url(#g107)"/>
<circle cx="581.2" cy="385.0" r="2.75" fill="url(#g206)"/>
<circle cx="538.0" cy="405.0" r="2.75" fill="url(#g145)"/>
<circle cx="427.5" cy="406.2" r="2.75" fill="url(#g61)"/>
<circle cx="438.2" cy="397.0" r="2.75" fill="url(#g163)"/>
<circle cx="484.3" cy="408.6" r="2.75" fill="url(#g150)"/>
<circle cx="528.8" cy="369.8" r="2.75" fill="url(#g147)"/>
<circle cx="474.6" cy="391.9" r="2.75" fill="url(#g104)"/>
<circle cx="504.0" cy="358.5" r="2.75" fill="url(#g188)"/>
<circle cx="526.4" cy="391.2" r="2.75" fill="url(#g147)"/>
<circle cx="445.9" cy="394.5" r="2.75" fill="url(#g146)"/>
<circle cx="458.7" cy="398.6" r="2.75" fill="url(#g107)"/>
<circle cx="535.4" cy="421.6" r="2.75" fill="url(#g92)"/>
<circle cx="434.8" cy="388.7" r="2.75" fill="url(#g141)"/>
<circle cx="503.0" cy="407.5" r="2.75" fill="url(#g188)"/>
<circle cx="476.5" cy="390.0" r="2.75" fill="url(#g201)"/>
<circle cx="562.0" cy="402.0" r="2.75" fill="url(#g157)"/>
<circle cx="500.3" cy="425.1" r="2.75" fill="url(#g188)"/>
<circle cx="501.8" cy="361.2" r="2.75" fill="url(#g188)"/>
<circle cx="455.1" cy="415.8" r="2.75" fill="url(#g99)"/>
<circle cx="453.6" cy="383.8" r="2.75" fill="url(#g99)"/>
<circle cx="442.0" cy="414.6" r="2.75" fill="url(#g77)"/>
<circle cx="478.9" cy="369.8" r="2.75" fill="url(#g155)"/>
<circle cx="597.1" cy="453.9" r="2.75" fill="url(#g205)"/>
<circle cx="553.4" cy="411.2" r="2.75" fill="url(#g66)"/>
<circle cx="544.0" cy="380.0" r="2.75" fill="url(#g186)"/>
<circle cx="481.3" cy="414.5" r="2.75" fill="url(#g155)"/>
<circle cx="607.7" cy="434.1" r="2.75" fill="url(#g11)"/>
<circle cx="479.8" cy="433.0" r="2.75" fill="url(#g155)"/>
<circle cx="583.9" cy="357.1" r="2.75" fill="url(#g97)"/>
<circle cx="526.1" cy="386.8" r="2.75" fill="url(#g147)"/>
<circle cx="539.2" cy="341.0" r="2.75" fill="url(#g145)"/>
<circle cx="419.2" cy="397.2" r="2.75" fill="url(#g143)"/>
<circle cx="498.2" cy="391.8" r="2.75" fill="url(#g188)"/>
<circle cx="462.7" cy="419.4" r="2.75" fill="url(#g164)"/>
<circle cx="547.7" cy="407.4" r="2.75" fill="url(#g189)"/>
<circle cx="532.9" cy="400.6" r="2.75" fill="url(#g151)"/>
<circle cx="478.9" cy="400.0" r="2.75" fill="url(#g155)"/>
<circle cx="459.3" cy="455.0" r="2.75" fill="url(#g107)"/>
<circle cx="516.7" cy="403.8" r="2.75" fill="url(#g109)"/>
<circle cx="460.7" cy="367.9" r="2.75" fill="url(#g182)"/>
<circle cx="486.4" cy="432.3" r="2.75" fill="url(#g161)"/>
<circle cx="578.0" cy="377.0" r="2.75" fill="url(#g190)"/>
<circle cx="475.4" cy="434.4" r="2.75" fill="url(#g94)"/>
<circle cx="470.4" cy="392.2" r="2.75" fill="url(#g138)"/>
<circle cx="563.0" cy="369.8" r="2.75" fill="url(#g157)"/>
<circle cx="448.4" cy="402.9" r="2.75" fill="url(#g79)"/>
<circle cx="556.9" cy="358.4" r="2.75" fill="url(#g207)"/>
<circle cx="563.7" cy="341.0" r="2.75" fill="url(#g157)"/>
<circle cx="421.1" cy="373.0" r="2.75" fill="url(#g143)"/>
<circle cx="450.8" cy="394.9" r="2.75" fill="url(#g79)"/>
<circle cx="447.5" cy="415.9" r="2.75" fill="url(#g146)"/>
<circle cx="479.4" cy="384.1" r="2.75" fill="url(#g155)"/>
<circle cx="532.5" cy="426.4" r="2.75" fill="url(#g151)"/>
<circle cx="430.5" cy="411.7" r="2.75" fill="url(#g61)"/>
<circle cx="474.8" cy="416.4" r="2.75" fill="url(#g94)"/>
<circle cx="577.4" cy="351.6" r="2.75" fill="url(#g197)"/>
<circle cx="463.4" cy="397.1" r="2.75" fill="url(#g108)"/>
<circle cx="595.8" cy="426.1" r="2.75" fill="url(#g200)"/>
<circle cx="460.1" cy="388.3" r="2.75" fill="url(#g107)"/>
<circle cx="413.1" cy="356.4" r="2.75" fill="url(#g100)"/>
<circle cx="531.5" cy="386.7" r="2.75" fill="url(#g151)"/>
<circle cx="538.2" cy="424.5" r="2.75" fill="url(#g145)"/>
<circle cx="509.9" cy="393.7" r="2.75" fill="url(#g159)"/>
<circle cx="446.3" cy="405.4" r="2.75" fill="url(#g146)"/>
<circle cx="454.2" cy="393.6" r="2.75" fill="url(#g99)"/>
<circle cx="447.9" cy="427.9" r="2.75" fill="url(#g146)"/>
<circle cx="427.8" cy="423.2" r="2.75" fill="url(#g61)"/>
<circle cx="521.8" cy="388.8" r="2.75" fill="url(#g136)"/>
<circle cx="534.1" cy="371.3" r="2.75" fill="url(#g80)"/>
<circle cx="544.8" cy="339.8" r="2.75" fill="url(#g186)"/>
<circle cx="483.1" cy="404.0" r="2.75" fill="url(#g150)"/>
<circle cx="545.8" cy="397.0" r="2.75" fill="url(#g186)"/>
<circle cx="456.4" cy="446.0" r="2.75" fill="url(#g99)"/>
<circle cx="443.3" cy="407.9" r="2.75" fill="url(#g77)"/>
<circle cx="462.3" cy="371.7" r="2.75" fill="url(#g74)"/>
<circle cx="522.1" cy="385.8" r="2.75" fill="url(#g136)"/>
<circle cx="471.4" cy="427.8" r="2.75" fill="url(#g104)"/>
<circle cx="468.8" cy="370.9" r="2.75" fill="url(#g138)"/>
<circle cx="480.8" cy="405.4" r="2.75" fill="url(#g155)"/>
<circle cx="560.0" cy="372.0" r="2.75" fill="url(#g193)"/>
<circle cx="460.0" cy="415.7" r="2.75" fill="url(#g107)"/>
<circle cx="521.9" cy="387.0" r="2.75" fill="url(#g136)"/>
<circle cx="451.4" cy="435.3" r="2.75" fill="url(#g79)"/>
<circle cx="587.9" cy="383.7" r="2.75" fill="url(#g116)"/>
<circle cx="479.1" cy="389.6" r="2.75" fill="url(#g155)"/>
<circle cx="435.2" cy="420.4" r="2.75" fill="url(#g141)"/>
<circle cx="500.5" cy="451.0" r="2.75" fill="url(#g188)"/>
<circle cx="484.4" cy="423.3" r="2.75" fill="url(#g150)"/>
<circle cx="485.4" cy="401.0" r="2.75" fill="url(#g150)"/>
<circle cx="483.4" cy="411.2" r="2.75" fill="url(#g150)"/>
<circle cx="483.1" cy="441.3" r="2.75" fill="url(#g150)"/>
<circle cx="487.5" cy="425.0" r="2.75" fill="url(#g161)"/>
<circle cx="472.3" cy="363.6" r="2.75" fill="url(#g104)"/>
<circle cx="502.9" cy="423.4" r="2.75" fill="url(#g188)"/>
<circle cx="445.4" cy="421.2" r="2.75" fill="url(#g146)"/>
<circle cx="440.8" cy="434.5" r="2.75" fill="url(#g208)"/>
<circle cx="468.9" cy="376.3" r="2.75" fill="url(#g138)"/>
<circle cx="539.2" cy="422.6" r="2.75" fill="url(#g145)"/>
<circle cx="458.3" cy="371.5" r="2.75" fill="url(#g107)"/>
<circle cx="457.7" cy="386.4" r="2.75" fill="url(#g107)"/>
<circle cx="552.5" cy="421.6" r="2.75" fill="url(#g66)"/>
<circle cx="585.2" cy="402.2" r="2.75" fill="url(#g195)"/>
<circle cx="426.3" cy="420.7" r="2.75" fill="url(#g55)"/>
<circle cx="560.0" cy="361.5" r="2.75" fill="url(#g193)"/>
<circle cx="430.8" cy="408.4" r="2.75" fill="url(#g61)"/>
<circle cx="407.4" cy="376.4" r="2.75" fill="url(#g100)"/>
<circle cx="448.7" cy="419.9" r="2.75" fill="url(#g79)"/>
<circle cx="605.1" cy="436.7" r="2.75" fill="url(#g209)"/>
<circle cx="463.1" cy="414.5" r="2.75" fill="url(#g64)"/>
<circle cx="568.0" cy="392.0" r="2.75" fill="url(#g210)"/>
<circle cx="606.4" cy="417.6" r="2.75" fill="url(#g101)"/>
<circle cx="460.2" cy="435.2" r="2.75" fill="url(#g107)"/>
<circle cx="522.8" cy="353.1" r="2.75" fill="url(#g136)"/>
<circle cx="407.0" cy="368.0" r="2.75" fill="url(#g100)"/>
<circle cx="428.3" cy="415.5" r="2.75" fill="url(#g61)"/>
<circle cx="475.8" cy="411.0" r="2.75" fill="url(#g94)"/>
<circle cx="520.1" cy="383.3" r="2.75" fill="url(#g136)"/>
<circle cx="522.9" cy="377.1" r="2.75" fill="url(#g136)"/>
<line x1="395.6" y1="393.9" x2="630.9" y2="393.9" stroke="#dc2c3c" stroke-width="1.25" stroke-dasharray="2.6 1.7"/>
<rect x="395.6" y="293.5" width="235.3" height="188.9" fill="none" stroke="#4a4a4a" stroke-width="1.4"/>
<line x1="419.3" y1="482.4" x2="419.3" y2="486.0" stroke="#333" stroke-width="1.1"/>
<text transform="translate(419.3 496.6) scale(1 1.06)" text-anchor="middle" class="tk">−1</text>
<line x1="466.3" y1="482.4" x2="466.3" y2="486.0" stroke="#333" stroke-width="1.1"/>
<text transform="translate(466.3 496.6) scale(1 1.06)" text-anchor="middle" class="tk">0</text>
<line x1="513.3" y1="482.4" x2="513.3" y2="486.0" stroke="#333" stroke-width="1.1"/>
<text transform="translate(513.3 496.6) scale(1 1.06)" text-anchor="middle" class="tk">1</text>
<line x1="560.3" y1="482.4" x2="560.3" y2="486.0" stroke="#333" stroke-width="1.1"/>
<text transform="translate(560.3 496.6) scale(1 1.06)" text-anchor="middle" class="tk">2</text>
<line x1="607.3" y1="482.4" x2="607.3" y2="486.0" stroke="#333" stroke-width="1.1"/>
<text transform="translate(607.3 496.6) scale(1 1.06)" text-anchor="middle" class="tk">3</text>
<line x1="392.0" y1="293.4" x2="395.6" y2="293.4" stroke="#333" stroke-width="1.1"/>
<text transform="translate(389.1 296.6) scale(1 1.06)" text-anchor="end" class="tk">0.8</text>
<line x1="392.0" y1="318.5" x2="395.6" y2="318.5" stroke="#333" stroke-width="1.1"/>
<text transform="translate(389.1 321.7) scale(1 1.06)" text-anchor="end" class="tk">0.6</text>
<line x1="392.0" y1="343.7" x2="395.6" y2="343.7" stroke="#333" stroke-width="1.1"/>
<text transform="translate(389.1 346.9) scale(1 1.06)" text-anchor="end" class="tk">0.4</text>
<line x1="392.0" y1="368.8" x2="395.6" y2="368.8" stroke="#333" stroke-width="1.1"/>
<text transform="translate(389.1 372.0) scale(1 1.06)" text-anchor="end" class="tk">0.2</text>
<line x1="392.0" y1="393.9" x2="395.6" y2="393.9" stroke="#333" stroke-width="1.1"/>
<text transform="translate(389.1 397.1) scale(1 1.06)" text-anchor="end" class="tk">0.0</text>
<line x1="392.0" y1="419.0" x2="395.6" y2="419.0" stroke="#333" stroke-width="1.1"/>
<text transform="translate(389.1 422.2) scale(1 1.06)" text-anchor="end" class="tk">−0.2</text>
<line x1="392.0" y1="444.1" x2="395.6" y2="444.1" stroke="#333" stroke-width="1.1"/>
<text transform="translate(389.1 447.3) scale(1 1.06)" text-anchor="end" class="tk">−0.4</text>
<line x1="392.0" y1="469.3" x2="395.6" y2="469.3" stroke="#333" stroke-width="1.1"/>
<text transform="translate(389.1 472.5) scale(1 1.06)" text-anchor="end" class="tk">−0.6</text>
<rect x="642.3" y="293.2" width="10.5" height="188.3" fill="url(#cbg)" stroke="#2a2a2a" stroke-opacity="0.45" stroke-width="0.7"/>
<line x1="652.8" y1="293.2" x2="656.3" y2="293.2" stroke="#555" stroke-width="1"/>
<text transform="translate(660.1 296.6) scale(1 1.06)" class="tk">3.5</text>
<line x1="652.8" y1="310.3" x2="656.3" y2="310.3" stroke="#555" stroke-width="1"/>
<text transform="translate(660.1 313.7) scale(1 1.06)" class="tk">3.0</text>
<line x1="652.8" y1="327.4" x2="656.3" y2="327.4" stroke="#555" stroke-width="1"/>
<text transform="translate(660.1 330.8) scale(1 1.06)" class="tk">2.5</text>
<line x1="652.8" y1="344.6" x2="656.3" y2="344.6" stroke="#555" stroke-width="1"/>
<text transform="translate(660.1 348.0) scale(1 1.06)" class="tk">2.0</text>
<line x1="652.8" y1="361.7" x2="656.3" y2="361.7" stroke="#555" stroke-width="1"/>
<text transform="translate(660.1 365.1) scale(1 1.06)" class="tk">1.5</text>
<line x1="652.8" y1="378.8" x2="656.3" y2="378.8" stroke="#555" stroke-width="1"/>
<text transform="translate(660.1 382.2) scale(1 1.06)" class="tk">1.0</text>
<line x1="652.8" y1="395.9" x2="656.3" y2="395.9" stroke="#555" stroke-width="1"/>
<text transform="translate(660.1 399.3) scale(1 1.06)" class="tk">0.5</text>
<line x1="652.8" y1="413.0" x2="656.3" y2="413.0" stroke="#555" stroke-width="1"/>
<text transform="translate(660.1 416.4) scale(1 1.06)" class="tk">0.0</text>
<line x1="652.8" y1="430.1" x2="656.3" y2="430.1" stroke="#555" stroke-width="1"/>
<text transform="translate(660.1 433.5) scale(1 1.06)" class="tk">−0.5</text>
<line x1="652.8" y1="447.3" x2="656.3" y2="447.3" stroke="#555" stroke-width="1"/>
<text transform="translate(660.1 450.7) scale(1 1.06)" class="tk">−1.0</text>
<line x1="652.8" y1="464.4" x2="656.3" y2="464.4" stroke="#555" stroke-width="1"/>
<text transform="translate(660.1 467.8) scale(1 1.06)" class="tk">−1.5</text>
<line x1="652.8" y1="481.5" x2="656.3" y2="481.5" stroke="#555" stroke-width="1"/>
<text transform="translate(660.1 484.9) scale(1 1.06)" class="tk">−2.0</text>
<text x="628.8" y="282.5" class="b" style="font-size:12.4px" textLength="42.0" lengthAdjust="spacingAndGlyphs">SPEI06</text>
<text x="393.2" y="284.8" class="b" style="font-size:17px">(d)</text>
<text x="492.7" y="515.6" class="b" style="font-size:12.1px" textLength="41.5" lengthAdjust="spacingAndGlyphs">SPEI06</text>
<text transform="translate(365.8 384.2) rotate(-90)" x="-55" class="b" style="font-size:17.9px" textLength="110" lengthAdjust="spacingAndGlyphs">SHAP Values</text>
</svg>
</body></html>
